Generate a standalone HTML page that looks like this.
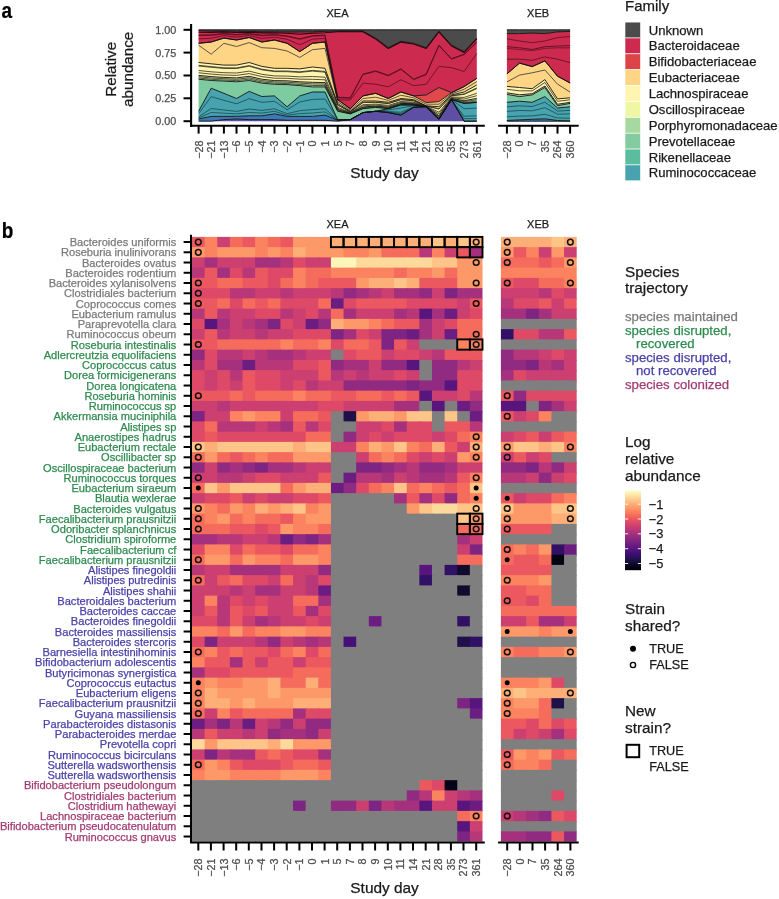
<!DOCTYPE html><html><head><meta charset="utf-8"><style>html,body{margin:0;padding:0;background:#fff;}svg{display:block;font-family:"Liberation Sans",sans-serif;will-change:transform;filter:blur(0.4px);}</style></head><body>
<svg width="779" height="899" viewBox="0 0 779 899">
<rect width="779" height="899" fill="#fff"/>
<text transform="translate(1.6,18.2) scale(0.88,1)" font-size="21.5" font-weight="bold" fill="#000" stroke="#000" stroke-width="0.25">a</text>
<text x="337.5" y="16.8" font-size="11" text-anchor="middle" fill="#1a1a1a" stroke="#1a1a1a" stroke-width="0.25">XEA</text>
<text x="538.1" y="16.8" font-size="11" text-anchor="middle" fill="#1a1a1a" stroke="#1a1a1a" stroke-width="0.25">XEB</text>
<text transform="translate(116.0,69.3) rotate(-90)" font-size="15.2" text-anchor="middle" fill="#1a1a1a" stroke="#1a1a1a" stroke-width="0.25">Relative</text>
<text transform="translate(132.8,69.3) rotate(-90)" font-size="15.2" text-anchor="middle" fill="#1a1a1a" stroke="#1a1a1a" stroke-width="0.25">abundance</text>
<text x="176.3" y="33.7" font-size="10.8" text-anchor="end" fill="#4d4d4d" stroke="#4d4d4d" stroke-width="0.25">1.00</text>
<line x1="183.5" x2="191" y1="29.8" y2="29.8" stroke="#000" stroke-width="2"/>
<text x="176.3" y="56.5" font-size="10.8" text-anchor="end" fill="#4d4d4d" stroke="#4d4d4d" stroke-width="0.25">0.75</text>
<line x1="183.5" x2="191" y1="52.6" y2="52.6" stroke="#000" stroke-width="2"/>
<text x="176.3" y="79.4" font-size="10.8" text-anchor="end" fill="#4d4d4d" stroke="#4d4d4d" stroke-width="0.25">0.50</text>
<line x1="183.5" x2="191" y1="75.5" y2="75.5" stroke="#000" stroke-width="2"/>
<text x="176.3" y="102.2" font-size="10.8" text-anchor="end" fill="#4d4d4d" stroke="#4d4d4d" stroke-width="0.25">0.25</text>
<line x1="183.5" x2="191" y1="98.3" y2="98.3" stroke="#000" stroke-width="2"/>
<text x="176.3" y="125.1" font-size="10.8" text-anchor="end" fill="#4d4d4d" stroke="#4d4d4d" stroke-width="0.25">0.00</text>
<line x1="183.5" x2="191" y1="121.2" y2="121.2" stroke="#000" stroke-width="2"/>
<path d="M198.6,29.8 L211.2,29.8 L223.9,29.8 L236.5,29.8 L249.2,29.8 L261.8,29.8 L274.5,29.8 L287.1,29.8 L299.8,29.8 L312.4,29.8 L325.0,29.8 L337.7,29.8 L350.3,29.8 L363.0,29.8 L375.6,29.8 L388.3,29.8 L400.9,29.8 L413.6,29.8 L426.2,29.8 L438.9,29.8 L451.5,29.8 L464.1,29.8 L476.8,29.8 L476.8,38.1 L464.1,51.6 L451.5,45.2 L438.9,31.1 L426.2,47.7 L413.6,43.3 L400.9,41.3 L388.3,47.7 L375.6,38.1 L363.0,31.1 L350.3,31.1 L337.7,31.1 L325.0,31.4 L312.4,31.7 L299.8,32.0 L287.1,32.0 L274.5,31.7 L261.8,31.7 L249.2,31.4 L236.5,31.4 L223.9,31.1 L211.2,31.1 L198.6,30.7Z" fill="#4b4b4b" stroke="none"/>
<path d="M198.6,30.7 L211.2,31.1 L223.9,31.1 L236.5,31.4 L249.2,31.4 L261.8,31.7 L274.5,31.7 L287.1,32.0 L299.8,32.0 L312.4,31.7 L325.0,31.4 L337.7,31.1 L350.3,31.1 L363.0,31.1 L375.6,38.1 L388.3,47.7 L400.9,41.3 L413.6,43.3 L426.2,47.7 L438.9,31.1 L451.5,45.2 L464.1,51.6 L476.8,38.1 L476.8,78.3 L464.1,86.6 L451.5,92.5 L438.9,87.5 L426.2,95.0 L413.6,95.9 L400.9,92.0 L388.3,98.5 L375.6,93.3 L363.0,95.9 L350.3,108.7 L337.7,99.7 L325.0,42.0 L312.4,43.3 L299.8,51.6 L287.1,43.3 L274.5,40.0 L261.8,42.0 L249.2,37.5 L236.5,40.0 L223.9,38.1 L211.2,42.0 L198.6,43.3Z" fill="#cc2a4f" stroke="none"/>
<path d="M198.6,43.3 L211.2,42.0 L223.9,38.1 L236.5,40.0 L249.2,37.5 L261.8,42.0 L274.5,40.0 L287.1,43.3 L299.8,51.6 L312.4,43.3 L325.0,42.0 L337.7,99.7 L350.3,108.7 L363.0,95.9 L375.6,93.3 L388.3,98.5 L400.9,92.0 L413.6,95.9 L426.2,95.0 L438.9,87.5 L451.5,92.5 L464.1,86.6 L476.8,78.3 L476.8,78.3 L464.1,86.6 L451.5,92.8 L438.9,101.7 L426.2,102.6 L413.6,95.9 L400.9,92.0 L388.3,98.5 L375.6,93.3 L363.0,95.9 L350.3,108.7 L337.7,99.7 L325.0,42.0 L312.4,43.3 L299.8,51.6 L287.1,43.3 L274.5,40.0 L261.8,42.0 L249.2,37.5 L236.5,40.0 L223.9,38.1 L211.2,42.0 L198.6,43.3Z" fill="#e0484a" stroke="none"/>
<path d="M198.6,43.3 L211.2,42.0 L223.9,38.1 L236.5,40.0 L249.2,37.5 L261.8,42.0 L274.5,40.0 L287.1,43.3 L299.8,51.6 L312.4,43.3 L325.0,42.0 L337.7,99.7 L350.3,108.7 L363.0,95.9 L375.6,93.3 L388.3,98.5 L400.9,92.0 L413.6,95.9 L426.2,102.6 L438.9,101.7 L451.5,92.8 L464.1,86.6 L476.8,78.3 L476.8,85.0 L464.1,92.0 L451.5,95.0 L438.9,106.7 L426.2,105.9 L413.6,99.7 L400.9,98.5 L388.3,102.3 L375.6,101.0 L363.0,101.0 L350.3,111.3 L337.7,103.6 L325.0,68.3 L312.4,67.0 L299.8,68.9 L287.1,68.3 L274.5,68.3 L261.8,66.4 L249.2,62.5 L236.5,65.1 L223.9,65.1 L211.2,63.8 L198.6,62.5Z" fill="#fdd585" stroke="none"/>
<path d="M198.6,62.5 L211.2,63.8 L223.9,65.1 L236.5,65.1 L249.2,62.5 L261.8,66.4 L274.5,68.3 L287.1,68.3 L299.8,68.9 L312.4,67.0 L325.0,68.3 L337.7,103.6 L350.3,111.3 L363.0,101.0 L375.6,101.0 L388.3,102.3 L400.9,98.5 L413.6,99.7 L426.2,105.9 L438.9,106.7 L451.5,95.0 L464.1,92.0 L476.8,85.0 L476.8,98.4 L464.1,100.7 L451.5,98.4 L438.9,115.7 L426.2,106.5 L413.6,103.7 L400.9,103.4 L388.3,107.2 L375.6,106.0 L363.0,107.0 L350.3,113.3 L337.7,109.5 L325.0,82.6 L312.4,82.3 L299.8,81.8 L287.1,80.8 L274.5,80.6 L261.8,79.2 L249.2,76.3 L236.5,77.9 L223.9,77.4 L211.2,76.6 L198.6,75.4Z" fill="#fff3ad" stroke="none"/>
<path d="M198.6,75.4 L211.2,76.6 L223.9,77.4 L236.5,77.9 L249.2,76.3 L261.8,79.2 L274.5,80.6 L287.1,80.8 L299.8,81.8 L312.4,82.3 L325.0,82.6 L337.7,109.5 L350.3,113.3 L363.0,107.0 L375.6,106.0 L388.3,107.2 L400.9,103.4 L413.6,103.7 L426.2,106.5 L438.9,115.7 L451.5,98.4 L464.1,100.7 L476.8,98.4 L476.8,102.4 L464.1,103.3 L451.5,99.5 L438.9,118.4 L426.2,106.7 L413.6,104.9 L400.9,104.9 L388.3,108.7 L375.6,107.4 L363.0,108.7 L350.3,113.9 L337.7,111.3 L325.0,86.9 L312.4,86.9 L299.8,85.6 L287.1,84.6 L274.5,84.3 L261.8,83.1 L249.2,80.5 L236.5,81.8 L223.9,81.1 L211.2,80.5 L198.6,79.2Z" fill="#cdd69c" stroke="none"/>
<path d="M198.6,79.2 L211.2,80.5 L223.9,81.1 L236.5,81.8 L249.2,80.5 L261.8,83.1 L274.5,84.3 L287.1,84.6 L299.8,85.6 L312.4,86.9 L325.0,86.9 L337.7,111.3 L350.3,113.9 L363.0,108.7 L375.6,107.4 L388.3,108.7 L400.9,104.9 L413.6,104.9 L426.2,106.7 L438.9,118.4 L451.5,99.5 L464.1,103.3 L476.8,102.4 L476.8,102.4 L464.1,103.3 L451.5,99.7 L438.9,119.0 L426.2,106.7 L413.6,104.9 L400.9,104.9 L388.3,108.7 L375.6,111.3 L363.0,112.6 L350.3,119.6 L337.7,119.6 L325.0,92.0 L312.4,92.0 L299.8,95.9 L287.1,106.8 L274.5,95.9 L261.8,96.5 L249.2,91.4 L236.5,98.5 L223.9,93.3 L211.2,88.2 L198.6,111.3Z" fill="#7ecba2" stroke="none"/>
<path d="M198.6,111.3 L211.2,88.2 L223.9,93.3 L236.5,98.5 L249.2,91.4 L261.8,96.5 L274.5,95.9 L287.1,106.8 L299.8,95.9 L312.4,92.0 L325.0,92.0 L337.7,119.6 L350.3,119.6 L363.0,112.6 L375.6,111.3 L388.3,108.7 L400.9,104.9 L413.6,104.9 L426.2,106.7 L438.9,119.0 L451.5,99.7 L464.1,103.3 L476.8,102.4 L476.8,121.2 L464.1,121.2 L451.5,99.7 L438.9,119.0 L426.2,106.7 L413.6,107.4 L400.9,115.1 L388.3,112.6 L375.6,111.3 L363.0,112.6 L350.3,119.6 L337.7,120.3 L325.0,115.1 L312.4,116.4 L299.8,116.4 L287.1,116.4 L274.5,113.9 L261.8,115.8 L249.2,115.8 L236.5,116.4 L223.9,116.4 L211.2,116.4 L198.6,119.0Z" fill="#47a4ae" stroke="none"/>
<path d="M198.6,119.0 L211.2,116.4 L223.9,116.4 L236.5,116.4 L249.2,115.8 L261.8,115.8 L274.5,113.9 L287.1,116.4 L299.8,116.4 L312.4,116.4 L325.0,115.1 L337.7,120.3 L350.3,119.6 L363.0,112.6 L375.6,111.3 L388.3,112.6 L400.9,115.1 L413.6,107.4 L426.2,106.7 L438.9,119.0 L451.5,99.7 L464.1,121.2 L476.8,121.2 L476.8,121.2 L464.1,121.2 L451.5,99.7 L438.9,119.6 L426.2,106.7 L413.6,107.4 L400.9,115.1 L388.3,112.6 L375.6,111.3 L363.0,112.6 L350.3,119.6 L337.7,121.2 L325.0,120.3 L312.4,120.3 L299.8,120.3 L287.1,120.3 L274.5,119.6 L261.8,119.6 L249.2,119.6 L236.5,119.0 L223.9,119.6 L211.2,121.2 L198.6,121.2Z" fill="#3b78b8" stroke="none"/>
<path d="M198.6,121.2 L211.2,121.2 L223.9,119.6 L236.5,119.0 L249.2,119.6 L261.8,119.6 L274.5,119.6 L287.1,120.3 L299.8,120.3 L312.4,120.3 L325.0,120.3 L337.7,121.2 L350.3,119.6 L363.0,112.6 L375.6,111.3 L388.3,112.6 L400.9,115.1 L413.6,107.4 L426.2,106.7 L438.9,119.6 L451.5,99.7 L464.1,121.2 L476.8,121.2 L476.8,121.2 L464.1,121.2 L451.5,121.2 L438.9,121.2 L426.2,121.2 L413.6,121.2 L400.9,121.2 L388.3,121.2 L375.6,121.2 L363.0,121.2 L350.3,121.2 L337.7,121.2 L325.0,121.2 L312.4,121.2 L299.8,121.2 L287.1,121.2 L274.5,121.2 L261.8,121.2 L249.2,121.2 L236.5,121.2 L223.9,121.2 L211.2,121.2 L198.6,121.2Z" fill="#5d4fa3" stroke="none"/>
<path d="M198.6,35.1 L211.2,34.9 L223.9,33.5 L236.5,34.5 L249.2,33.6 L261.8,35.3 L274.5,34.6 L287.1,35.9 L299.8,38.8 L312.4,35.7 L325.0,35.1 L337.7,97.2 L350.3,97.8 L363.0,74.1 L375.6,70.9 L388.3,75.3 L400.9,68.9 L413.6,79.2 L426.2,74.1 L438.9,45.2 L451.5,58.7 L464.1,54.2 L476.8,42.0" fill="none" stroke="#5a0f20" stroke-width="1.0" stroke-linejoin="round"/>
<path d="M198.6,35.6 L211.2,35.4 L223.9,34.0 L236.5,35.0 L249.2,34.1 L261.8,35.8 L274.5,35.1 L287.1,36.4 L299.8,39.3 L312.4,36.3 L325.0,35.6 L337.7,97.7 L350.3,98.3 L363.0,74.6 L375.6,71.4 L388.3,75.9 L400.9,69.4 L413.6,79.7 L426.2,74.6 L438.9,45.7 L451.5,59.2 L464.1,54.7 L476.8,42.5" fill="none" stroke="#5a0f20" stroke-width="0.7" stroke-linejoin="round"/>
<path d="M198.6,38.9 L211.2,38.2 L223.9,35.6 L236.5,37.0 L249.2,35.4 L261.8,38.4 L274.5,37.1 L287.1,39.3 L299.8,44.7 L312.4,39.2 L325.0,38.3 L337.7,99.7 L350.3,100.0 L363.0,83.1 L375.6,84.3 L388.3,86.9 L400.9,79.8 L413.6,85.6 L426.2,84.3 L438.9,66.4 L451.5,67.6 L464.1,71.5 L476.8,53.5" fill="none" stroke="#5a0f20" stroke-width="0.8" stroke-linejoin="round"/>
<path d="M198.6,32.2 L211.2,32.4 L223.9,31.9 L236.5,32.5 L249.2,32.2 L261.8,32.9 L274.5,32.7 L287.1,33.3 L299.8,34.3 L312.4,33.1 L325.0,32.7 L337.7,31.8 L350.3,31.8 L363.0,31.8 L375.6,38.9 L388.3,48.5 L400.9,42.1 L413.6,44.0 L426.2,48.5 L438.9,31.8 L451.5,46.0 L464.1,52.4 L476.8,38.9" fill="none" stroke="#2a0610" stroke-width="1.1" stroke-linejoin="round"/>
<path d="M198.6,45.2 L211.2,54.2 L223.9,43.3 L236.5,46.5 L249.2,42.6 L261.8,47.7 L274.5,48.4 L287.1,51.0 L299.8,57.4 L312.4,49.7 L325.0,48.4 L337.7,101.7 L350.3,110.0 L363.0,98.5 L375.6,97.2 L388.3,100.4 L400.9,95.2 L413.6,97.8 L426.2,104.2 L438.9,104.2 L451.5,93.9 L464.1,89.3 L476.8,81.6" fill="none" stroke="#333" stroke-width="0.8" stroke-linejoin="round"/>
<path d="M198.6,65.3 L211.2,66.6 L223.9,67.8 L236.5,67.9 L249.2,65.6 L261.8,69.2 L274.5,71.0 L287.1,71.0 L299.8,71.8 L312.4,70.4 L325.0,71.4 L337.7,104.9 L350.3,111.7 L363.0,102.3 L375.6,102.1 L388.3,103.4 L400.9,99.5 L413.6,100.6 L426.2,106.0 L438.9,108.6 L451.5,95.7 L464.1,93.9 L476.8,87.9" fill="none" stroke="#2a2a1a" stroke-width="0.8" stroke-linejoin="round"/>
<path d="M198.6,66.0 L211.2,67.3 L223.9,68.4 L236.5,68.5 L249.2,66.2 L261.8,69.8 L274.5,71.6 L287.1,71.7 L299.8,72.4 L312.4,71.1 L325.0,72.2 L337.7,105.2 L350.3,111.8 L363.0,102.6 L375.6,102.4 L388.3,103.6 L400.9,99.8 L413.6,100.8 L426.2,106.1 L438.9,109.1 L451.5,95.9 L464.1,94.4 L476.8,88.6" fill="none" stroke="#2a2a1a" stroke-width="0.8" stroke-linejoin="round"/>
<path d="M198.6,70.5 L211.2,71.8 L223.9,72.7 L236.5,73.0 L249.2,71.1 L261.8,74.3 L274.5,75.9 L287.1,76.1 L299.8,76.9 L312.4,76.5 L325.0,77.2 L337.7,107.3 L350.3,112.5 L363.0,104.7 L375.6,104.1 L388.3,105.4 L400.9,101.5 L413.6,102.2 L426.2,106.3 L438.9,112.2 L451.5,97.1 L464.1,97.4 L476.8,93.3" fill="none" stroke="#2a2a1a" stroke-width="0.8" stroke-linejoin="round"/>
<path d="M198.6,72.8 L211.2,74.1 L223.9,75.0 L236.5,75.4 L249.2,73.6 L261.8,76.6 L274.5,78.2 L287.1,78.3 L299.8,79.2 L312.4,79.3 L325.0,79.8 L337.7,108.3 L350.3,112.9 L363.0,105.8 L375.6,105.0 L388.3,106.3 L400.9,102.4 L413.6,102.9 L426.2,106.4 L438.9,113.9 L451.5,97.8 L464.1,99.0 L476.8,95.7" fill="none" stroke="#2a2a1a" stroke-width="0.8" stroke-linejoin="round"/>
<path d="M198.6,76.7 L211.2,78.0 L223.9,78.7 L236.5,79.3 L249.2,77.8 L261.8,80.6 L274.5,81.9 L287.1,82.2 L299.8,83.1 L312.4,83.9 L325.0,84.1 L337.7,110.1 L350.3,113.5 L363.0,107.6 L375.6,106.5 L388.3,107.8 L400.9,103.9 L413.6,104.1 L426.2,106.6 L438.9,116.6 L451.5,98.8 L464.1,101.6 L476.8,99.8" fill="none" stroke="#2a3a2a" stroke-width="0.8" stroke-linejoin="round"/>
<path d="M198.6,78.0 L211.2,79.3 L223.9,80.0 L236.5,80.6 L249.2,79.2 L261.8,81.9 L274.5,83.2 L287.1,83.5 L299.8,84.5 L312.4,85.5 L325.0,85.6 L337.7,110.8 L350.3,113.7 L363.0,108.2 L375.6,107.0 L388.3,108.3 L400.9,104.4 L413.6,104.5 L426.2,106.6 L438.9,117.5 L451.5,99.2 L464.1,102.6 L476.8,101.2" fill="none" stroke="#2a3a2a" stroke-width="0.8" stroke-linejoin="round"/>
<path d="M198.6,113.6 L211.2,96.7 L223.9,100.3 L236.5,103.8 L249.2,98.7 L261.8,102.3 L274.5,101.3 L287.1,109.7 L299.8,102.0 L312.4,99.4 L325.0,99.0 L337.7,119.8 L350.3,119.6 L363.0,112.6 L375.6,111.3 L388.3,109.9 L400.9,108.0 L413.6,105.6 L426.2,106.7 L438.9,119.0 L451.5,99.7 L464.1,108.7 L476.8,108.1" fill="none" stroke="#163a40" stroke-width="0.7" stroke-linejoin="round"/>
<path d="M198.6,116.8 L211.2,108.5 L223.9,110.0 L236.5,111.4 L249.2,109.0 L261.8,110.4 L274.5,108.8 L287.1,113.7 L299.8,110.7 L312.4,109.6 L325.0,108.7 L337.7,120.1 L350.3,119.6 L363.0,112.6 L375.6,111.3 L388.3,111.5 L400.9,112.3 L413.6,106.7 L426.2,106.7 L438.9,119.0 L451.5,99.7 L464.1,116.2 L476.8,115.9" fill="none" stroke="#163a40" stroke-width="0.7" stroke-linejoin="round"/>
<path d="M198.6,117.9 L211.2,112.5 L223.9,113.2 L236.5,113.9 L249.2,112.4 L261.8,113.1 L274.5,111.3 L287.1,115.1 L299.8,113.6 L312.4,113.0 L325.0,111.9 L337.7,120.2 L350.3,119.6 L363.0,112.6 L375.6,111.3 L388.3,112.0 L400.9,113.7 L413.6,107.1 L426.2,106.7 L438.9,119.0 L451.5,99.7 L464.1,118.7 L476.8,118.6" fill="none" stroke="#163a40" stroke-width="0.7" stroke-linejoin="round"/>
<path d="M198.6,29.8 L211.2,29.8 L223.9,29.8 L236.5,29.8 L249.2,29.8 L261.8,29.8 L274.5,29.8 L287.1,29.8 L299.8,29.8 L312.4,29.8 L325.0,29.8 L337.7,29.8 L350.3,29.8 L363.0,29.8 L375.6,29.8 L388.3,29.8 L400.9,29.8 L413.6,29.8 L426.2,29.8 L438.9,29.8 L451.5,29.8 L464.1,29.8 L476.8,29.8" fill="none" stroke="#111" stroke-width="0.9" stroke-linejoin="round"/>
<path d="M198.6,30.7 L211.2,31.1 L223.9,31.1 L236.5,31.4 L249.2,31.4 L261.8,31.7 L274.5,31.7 L287.1,32.0 L299.8,32.0 L312.4,31.7 L325.0,31.4 L337.7,31.1 L350.3,31.1 L363.0,31.1 L375.6,38.1 L388.3,47.7 L400.9,41.3 L413.6,43.3 L426.2,47.7 L438.9,31.1 L451.5,45.2 L464.1,51.6 L476.8,38.1" fill="none" stroke="#111" stroke-width="0.9" stroke-linejoin="round"/>
<path d="M198.6,43.3 L211.2,42.0 L223.9,38.1 L236.5,40.0 L249.2,37.5 L261.8,42.0 L274.5,40.0 L287.1,43.3 L299.8,51.6 L312.4,43.3 L325.0,42.0 L337.7,99.7 L350.3,108.7 L363.0,95.9 L375.6,93.3 L388.3,98.5 L400.9,92.0 L413.6,95.9 L426.2,95.0 L438.9,87.5 L451.5,92.5 L464.1,86.6 L476.8,78.3" fill="none" stroke="#111" stroke-width="0.9" stroke-linejoin="round"/>
<path d="M198.6,43.3 L211.2,42.0 L223.9,38.1 L236.5,40.0 L249.2,37.5 L261.8,42.0 L274.5,40.0 L287.1,43.3 L299.8,51.6 L312.4,43.3 L325.0,42.0 L337.7,99.7 L350.3,108.7 L363.0,95.9 L375.6,93.3 L388.3,98.5 L400.9,92.0 L413.6,95.9 L426.2,102.6 L438.9,101.7 L451.5,92.8 L464.1,86.6 L476.8,78.3" fill="none" stroke="#111" stroke-width="0.9" stroke-linejoin="round"/>
<path d="M198.6,62.5 L211.2,63.8 L223.9,65.1 L236.5,65.1 L249.2,62.5 L261.8,66.4 L274.5,68.3 L287.1,68.3 L299.8,68.9 L312.4,67.0 L325.0,68.3 L337.7,103.6 L350.3,111.3 L363.0,101.0 L375.6,101.0 L388.3,102.3 L400.9,98.5 L413.6,99.7 L426.2,105.9 L438.9,106.7 L451.5,95.0 L464.1,92.0 L476.8,85.0" fill="none" stroke="#111" stroke-width="0.9" stroke-linejoin="round"/>
<path d="M198.6,75.4 L211.2,76.6 L223.9,77.4 L236.5,77.9 L249.2,76.3 L261.8,79.2 L274.5,80.6 L287.1,80.8 L299.8,81.8 L312.4,82.3 L325.0,82.6 L337.7,109.5 L350.3,113.3 L363.0,107.0 L375.6,106.0 L388.3,107.2 L400.9,103.4 L413.6,103.7 L426.2,106.5 L438.9,115.7 L451.5,98.4 L464.1,100.7 L476.8,98.4" fill="none" stroke="#111" stroke-width="0.9" stroke-linejoin="round"/>
<path d="M198.6,79.2 L211.2,80.5 L223.9,81.1 L236.5,81.8 L249.2,80.5 L261.8,83.1 L274.5,84.3 L287.1,84.6 L299.8,85.6 L312.4,86.9 L325.0,86.9 L337.7,111.3 L350.3,113.9 L363.0,108.7 L375.6,107.4 L388.3,108.7 L400.9,104.9 L413.6,104.9 L426.2,106.7 L438.9,118.4 L451.5,99.5 L464.1,103.3 L476.8,102.4" fill="none" stroke="#111" stroke-width="0.9" stroke-linejoin="round"/>
<path d="M198.6,111.3 L211.2,88.2 L223.9,93.3 L236.5,98.5 L249.2,91.4 L261.8,96.5 L274.5,95.9 L287.1,106.8 L299.8,95.9 L312.4,92.0 L325.0,92.0 L337.7,119.6 L350.3,119.6 L363.0,112.6 L375.6,111.3 L388.3,108.7 L400.9,104.9 L413.6,104.9 L426.2,106.7 L438.9,119.0 L451.5,99.7 L464.1,103.3 L476.8,102.4" fill="none" stroke="#111" stroke-width="0.9" stroke-linejoin="round"/>
<path d="M198.6,119.0 L211.2,116.4 L223.9,116.4 L236.5,116.4 L249.2,115.8 L261.8,115.8 L274.5,113.9 L287.1,116.4 L299.8,116.4 L312.4,116.4 L325.0,115.1 L337.7,120.3 L350.3,119.6 L363.0,112.6 L375.6,111.3 L388.3,112.6 L400.9,115.1 L413.6,107.4 L426.2,106.7 L438.9,119.0 L451.5,99.7 L464.1,121.2 L476.8,121.2" fill="none" stroke="#111" stroke-width="0.9" stroke-linejoin="round"/>
<path d="M198.6,121.2 L211.2,121.2 L223.9,119.6 L236.5,119.0 L249.2,119.6 L261.8,119.6 L274.5,119.6 L287.1,120.3 L299.8,120.3 L312.4,120.3 L325.0,120.3 L337.7,121.2 L350.3,119.6 L363.0,112.6 L375.6,111.3 L388.3,112.6 L400.9,115.1 L413.6,107.4 L426.2,106.7 L438.9,119.6 L451.5,99.7 L464.1,121.2 L476.8,121.2" fill="none" stroke="#111" stroke-width="0.9" stroke-linejoin="round"/>
<path d="M506.9,29.8 L519.5,29.8 L532.2,29.8 L544.9,29.8 L557.5,29.8 L570.1,29.8 L570.1,31.4 L557.5,31.9 L544.9,33.6 L532.2,33.1 L519.5,33.6 L506.9,33.6Z" fill="#4b4b4b" stroke="none"/>
<path d="M506.9,33.6 L519.5,33.6 L532.2,33.1 L544.9,33.6 L557.5,31.9 L570.1,31.4 L570.1,83.0 L557.5,76.2 L544.9,60.9 L532.2,66.6 L519.5,63.1 L506.9,73.9Z" fill="#cc2a4f" stroke="none"/>
<path d="M506.9,73.9 L519.5,63.1 L532.2,66.6 L544.9,60.9 L557.5,76.2 L570.1,83.0 L570.1,83.0 L557.5,76.2 L544.9,60.9 L532.2,66.6 L519.5,63.1 L506.9,73.9Z" fill="#e0484a" stroke="none"/>
<path d="M506.9,73.9 L519.5,63.1 L532.2,66.6 L544.9,60.9 L557.5,76.2 L570.1,83.0 L570.1,97.8 L557.5,98.9 L544.9,79.6 L532.2,88.7 L519.5,87.5 L506.9,86.4Z" fill="#fdd585" stroke="none"/>
<path d="M506.9,86.4 L519.5,87.5 L532.2,88.7 L544.9,79.6 L557.5,98.9 L570.1,97.8 L570.1,102.3 L557.5,104.3 L544.9,86.0 L532.2,93.7 L519.5,94.8 L506.9,92.8Z" fill="#fff3ad" stroke="none"/>
<path d="M506.9,92.8 L519.5,94.8 L532.2,93.7 L544.9,86.0 L557.5,104.3 L570.1,102.3 L570.1,103.4 L557.5,105.7 L544.9,87.5 L532.2,94.9 L519.5,96.6 L506.9,94.4Z" fill="#cdd69c" stroke="none"/>
<path d="M506.9,94.4 L519.5,96.6 L532.2,94.9 L544.9,87.5 L557.5,105.7 L570.1,103.4 L570.1,106.8 L557.5,108.0 L544.9,96.6 L532.2,102.3 L519.5,101.2 L506.9,102.3Z" fill="#7ecba2" stroke="none"/>
<path d="M506.9,102.3 L519.5,101.2 L532.2,102.3 L544.9,96.6 L557.5,108.0 L570.1,106.8 L570.1,121.0 L557.5,120.5 L544.9,118.8 L532.2,119.3 L519.5,119.9 L506.9,120.5Z" fill="#47a4ae" stroke="none"/>
<path d="M506.9,120.5 L519.5,119.9 L532.2,119.3 L544.9,118.8 L557.5,120.5 L570.1,121.0 L570.1,121.2 L557.5,121.2 L544.9,121.2 L532.2,121.2 L519.5,121.2 L506.9,121.2Z" fill="#3b78b8" stroke="none"/>
<path d="M506.9,121.2 L519.5,121.2 L532.2,121.2 L544.9,121.2 L557.5,121.2 L570.1,121.2 L570.1,121.2 L557.5,121.2 L544.9,121.2 L532.2,121.2 L519.5,121.2 L506.9,121.2Z" fill="#5d4fa3" stroke="none"/>
<path d="M506.9,38.8 L519.5,41.0 L532.2,42.7 L544.9,41.0 L557.5,37.6 L570.1,36.5" fill="none" stroke="#5a0f20" stroke-width="0.8" stroke-linejoin="round"/>
<path d="M506.9,46.7 L519.5,47.8 L532.2,49.5 L544.9,46.7 L557.5,46.1 L570.1,45.6" fill="none" stroke="#5a0f20" stroke-width="0.9" stroke-linejoin="round"/>
<path d="M506.9,48.4 L519.5,49.5 L532.2,50.7 L544.9,48.4 L557.5,47.8 L570.1,47.8" fill="none" stroke="#5a0f20" stroke-width="0.7" stroke-linejoin="round"/>
<path d="M506.9,59.2 L519.5,59.2 L532.2,60.3 L544.9,56.9 L557.5,59.2 L570.1,62.6" fill="none" stroke="#5a0f20" stroke-width="0.8" stroke-linejoin="round"/>
<path d="M506.9,81.9 L519.5,75.1 L532.2,72.8 L544.9,70.0 L557.5,84.1 L570.1,92.1" fill="none" stroke="#333" stroke-width="0.8" stroke-linejoin="round"/>
<path d="M506.9,89.3 L519.5,90.8 L532.2,90.9 L544.9,82.5 L557.5,101.3 L570.1,99.8" fill="none" stroke="#2a2a1a" stroke-width="0.8" stroke-linejoin="round"/>
<path d="M506.9,106.8 L519.5,105.8 L532.2,106.6 L544.9,102.2 L557.5,111.1 L570.1,110.4" fill="none" stroke="#163a40" stroke-width="0.7" stroke-linejoin="round"/>
<path d="M506.9,111.4 L519.5,110.5 L532.2,110.8 L544.9,107.7 L557.5,114.2 L570.1,113.9" fill="none" stroke="#163a40" stroke-width="0.7" stroke-linejoin="round"/>
<path d="M506.9,116.8 L519.5,116.1 L532.2,115.9 L544.9,114.3 L557.5,118.0 L570.1,118.2" fill="none" stroke="#163a40" stroke-width="0.7" stroke-linejoin="round"/>
<path d="M506.9,29.8 L519.5,29.8 L532.2,29.8 L544.9,29.8 L557.5,29.8 L570.1,29.8" fill="none" stroke="#111" stroke-width="0.9" stroke-linejoin="round"/>
<path d="M506.9,33.6 L519.5,33.6 L532.2,33.1 L544.9,33.6 L557.5,31.9 L570.1,31.4" fill="none" stroke="#111" stroke-width="0.9" stroke-linejoin="round"/>
<path d="M506.9,73.9 L519.5,63.1 L532.2,66.6 L544.9,60.9 L557.5,76.2 L570.1,83.0" fill="none" stroke="#111" stroke-width="0.9" stroke-linejoin="round"/>
<path d="M506.9,73.9 L519.5,63.1 L532.2,66.6 L544.9,60.9 L557.5,76.2 L570.1,83.0" fill="none" stroke="#111" stroke-width="0.9" stroke-linejoin="round"/>
<path d="M506.9,86.4 L519.5,87.5 L532.2,88.7 L544.9,79.6 L557.5,98.9 L570.1,97.8" fill="none" stroke="#111" stroke-width="0.9" stroke-linejoin="round"/>
<path d="M506.9,92.8 L519.5,94.8 L532.2,93.7 L544.9,86.0 L557.5,104.3 L570.1,102.3" fill="none" stroke="#111" stroke-width="0.9" stroke-linejoin="round"/>
<path d="M506.9,94.4 L519.5,96.6 L532.2,94.9 L544.9,87.5 L557.5,105.7 L570.1,103.4" fill="none" stroke="#111" stroke-width="0.9" stroke-linejoin="round"/>
<path d="M506.9,102.3 L519.5,101.2 L532.2,102.3 L544.9,96.6 L557.5,108.0 L570.1,106.8" fill="none" stroke="#111" stroke-width="0.9" stroke-linejoin="round"/>
<path d="M506.9,120.5 L519.5,119.9 L532.2,119.3 L544.9,118.8 L557.5,120.5 L570.1,121.0" fill="none" stroke="#111" stroke-width="0.9" stroke-linejoin="round"/>
<path d="M506.9,121.2 L519.5,121.2 L532.2,121.2 L544.9,121.2 L557.5,121.2 L570.1,121.2" fill="none" stroke="#111" stroke-width="0.9" stroke-linejoin="round"/>
<line x1="191.1" x2="191.1" y1="24" y2="126.8" stroke="#000" stroke-width="2.1"/>
<line x1="190" x2="484.8" y1="125.8" y2="125.8" stroke="#000" stroke-width="2"/>
<line x1="498.1" x2="578.7" y1="125.8" y2="125.8" stroke="#000" stroke-width="2"/>
<line x1="198.6" x2="198.6" y1="125.8" y2="133.6" stroke="#000" stroke-width="2"/>
<text transform="translate(202.5,140.4) rotate(-90)" font-size="10.8" text-anchor="end" fill="#4d4d4d" stroke="#4d4d4d" stroke-width="0.25">−28</text>
<line x1="211.2" x2="211.2" y1="125.8" y2="133.6" stroke="#000" stroke-width="2"/>
<text transform="translate(215.1,140.4) rotate(-90)" font-size="10.8" text-anchor="end" fill="#4d4d4d" stroke="#4d4d4d" stroke-width="0.25">−21</text>
<line x1="223.9" x2="223.9" y1="125.8" y2="133.6" stroke="#000" stroke-width="2"/>
<text transform="translate(227.8,140.4) rotate(-90)" font-size="10.8" text-anchor="end" fill="#4d4d4d" stroke="#4d4d4d" stroke-width="0.25">−13</text>
<line x1="236.5" x2="236.5" y1="125.8" y2="133.6" stroke="#000" stroke-width="2"/>
<text transform="translate(240.4,140.4) rotate(-90)" font-size="10.8" text-anchor="end" fill="#4d4d4d" stroke="#4d4d4d" stroke-width="0.25">−6</text>
<line x1="249.2" x2="249.2" y1="125.8" y2="133.6" stroke="#000" stroke-width="2"/>
<text transform="translate(253.1,140.4) rotate(-90)" font-size="10.8" text-anchor="end" fill="#4d4d4d" stroke="#4d4d4d" stroke-width="0.25">−5</text>
<line x1="261.8" x2="261.8" y1="125.8" y2="133.6" stroke="#000" stroke-width="2"/>
<text transform="translate(265.7,140.4) rotate(-90)" font-size="10.8" text-anchor="end" fill="#4d4d4d" stroke="#4d4d4d" stroke-width="0.25">−4</text>
<line x1="274.5" x2="274.5" y1="125.8" y2="133.6" stroke="#000" stroke-width="2"/>
<text transform="translate(278.4,140.4) rotate(-90)" font-size="10.8" text-anchor="end" fill="#4d4d4d" stroke="#4d4d4d" stroke-width="0.25">−3</text>
<line x1="287.1" x2="287.1" y1="125.8" y2="133.6" stroke="#000" stroke-width="2"/>
<text transform="translate(291.0,140.4) rotate(-90)" font-size="10.8" text-anchor="end" fill="#4d4d4d" stroke="#4d4d4d" stroke-width="0.25">−2</text>
<line x1="299.8" x2="299.8" y1="125.8" y2="133.6" stroke="#000" stroke-width="2"/>
<text transform="translate(303.7,140.4) rotate(-90)" font-size="10.8" text-anchor="end" fill="#4d4d4d" stroke="#4d4d4d" stroke-width="0.25">−1</text>
<line x1="312.4" x2="312.4" y1="125.8" y2="133.6" stroke="#000" stroke-width="2"/>
<text transform="translate(316.3,140.4) rotate(-90)" font-size="10.8" text-anchor="end" fill="#4d4d4d" stroke="#4d4d4d" stroke-width="0.25">0</text>
<line x1="325.0" x2="325.0" y1="125.8" y2="133.6" stroke="#000" stroke-width="2"/>
<text transform="translate(328.9,140.4) rotate(-90)" font-size="10.8" text-anchor="end" fill="#4d4d4d" stroke="#4d4d4d" stroke-width="0.25">1</text>
<line x1="337.7" x2="337.7" y1="125.8" y2="133.6" stroke="#000" stroke-width="2"/>
<text transform="translate(341.6,140.4) rotate(-90)" font-size="10.8" text-anchor="end" fill="#4d4d4d" stroke="#4d4d4d" stroke-width="0.25">5</text>
<line x1="350.3" x2="350.3" y1="125.8" y2="133.6" stroke="#000" stroke-width="2"/>
<text transform="translate(354.2,140.4) rotate(-90)" font-size="10.8" text-anchor="end" fill="#4d4d4d" stroke="#4d4d4d" stroke-width="0.25">7</text>
<line x1="363.0" x2="363.0" y1="125.8" y2="133.6" stroke="#000" stroke-width="2"/>
<text transform="translate(366.9,140.4) rotate(-90)" font-size="10.8" text-anchor="end" fill="#4d4d4d" stroke="#4d4d4d" stroke-width="0.25">8</text>
<line x1="375.6" x2="375.6" y1="125.8" y2="133.6" stroke="#000" stroke-width="2"/>
<text transform="translate(379.5,140.4) rotate(-90)" font-size="10.8" text-anchor="end" fill="#4d4d4d" stroke="#4d4d4d" stroke-width="0.25">9</text>
<line x1="388.3" x2="388.3" y1="125.8" y2="133.6" stroke="#000" stroke-width="2"/>
<text transform="translate(392.2,140.4) rotate(-90)" font-size="10.8" text-anchor="end" fill="#4d4d4d" stroke="#4d4d4d" stroke-width="0.25">10</text>
<line x1="400.9" x2="400.9" y1="125.8" y2="133.6" stroke="#000" stroke-width="2"/>
<text transform="translate(404.8,140.4) rotate(-90)" font-size="10.8" text-anchor="end" fill="#4d4d4d" stroke="#4d4d4d" stroke-width="0.25">11</text>
<line x1="413.6" x2="413.6" y1="125.8" y2="133.6" stroke="#000" stroke-width="2"/>
<text transform="translate(417.5,140.4) rotate(-90)" font-size="10.8" text-anchor="end" fill="#4d4d4d" stroke="#4d4d4d" stroke-width="0.25">14</text>
<line x1="426.2" x2="426.2" y1="125.8" y2="133.6" stroke="#000" stroke-width="2"/>
<text transform="translate(430.1,140.4) rotate(-90)" font-size="10.8" text-anchor="end" fill="#4d4d4d" stroke="#4d4d4d" stroke-width="0.25">21</text>
<line x1="438.9" x2="438.9" y1="125.8" y2="133.6" stroke="#000" stroke-width="2"/>
<text transform="translate(442.8,140.4) rotate(-90)" font-size="10.8" text-anchor="end" fill="#4d4d4d" stroke="#4d4d4d" stroke-width="0.25">28</text>
<line x1="451.5" x2="451.5" y1="125.8" y2="133.6" stroke="#000" stroke-width="2"/>
<text transform="translate(455.4,140.4) rotate(-90)" font-size="10.8" text-anchor="end" fill="#4d4d4d" stroke="#4d4d4d" stroke-width="0.25">35</text>
<line x1="464.1" x2="464.1" y1="125.8" y2="133.6" stroke="#000" stroke-width="2"/>
<text transform="translate(468.0,140.4) rotate(-90)" font-size="10.8" text-anchor="end" fill="#4d4d4d" stroke="#4d4d4d" stroke-width="0.25">273</text>
<line x1="476.8" x2="476.8" y1="125.8" y2="133.6" stroke="#000" stroke-width="2"/>
<text transform="translate(480.7,140.4) rotate(-90)" font-size="10.8" text-anchor="end" fill="#4d4d4d" stroke="#4d4d4d" stroke-width="0.25">361</text>
<line x1="506.9" x2="506.9" y1="125.8" y2="133.6" stroke="#000" stroke-width="2"/>
<text transform="translate(510.8,140.4) rotate(-90)" font-size="10.8" text-anchor="end" fill="#4d4d4d" stroke="#4d4d4d" stroke-width="0.25">−28</text>
<line x1="519.5" x2="519.5" y1="125.8" y2="133.6" stroke="#000" stroke-width="2"/>
<text transform="translate(523.4,140.4) rotate(-90)" font-size="10.8" text-anchor="end" fill="#4d4d4d" stroke="#4d4d4d" stroke-width="0.25">0</text>
<line x1="532.2" x2="532.2" y1="125.8" y2="133.6" stroke="#000" stroke-width="2"/>
<text transform="translate(536.1,140.4) rotate(-90)" font-size="10.8" text-anchor="end" fill="#4d4d4d" stroke="#4d4d4d" stroke-width="0.25">7</text>
<line x1="544.9" x2="544.9" y1="125.8" y2="133.6" stroke="#000" stroke-width="2"/>
<text transform="translate(548.8,140.4) rotate(-90)" font-size="10.8" text-anchor="end" fill="#4d4d4d" stroke="#4d4d4d" stroke-width="0.25">35</text>
<line x1="557.5" x2="557.5" y1="125.8" y2="133.6" stroke="#000" stroke-width="2"/>
<text transform="translate(561.4,140.4) rotate(-90)" font-size="10.8" text-anchor="end" fill="#4d4d4d" stroke="#4d4d4d" stroke-width="0.25">264</text>
<line x1="570.1" x2="570.1" y1="125.8" y2="133.6" stroke="#000" stroke-width="2"/>
<text transform="translate(574.0,140.4) rotate(-90)" font-size="10.8" text-anchor="end" fill="#4d4d4d" stroke="#4d4d4d" stroke-width="0.25">360</text>
<text x="384.6" y="177.6" font-size="15.4" text-anchor="middle" fill="#1a1a1a" stroke="#1a1a1a" stroke-width="0.25">Study day</text>
<text x="625" y="11.4" font-size="15" fill="#1a1a1a" stroke="#1a1a1a" stroke-width="0.25">Family</text>
<rect x="625" y="22.10" width="15.5" height="15.87" fill="#4b4b4b" stroke="#fff" stroke-width="0.6"/>
<text x="648.7" y="34.5" font-size="13.1" fill="#1a1a1a" stroke="#1a1a1a" stroke-width="0.25">Unknown</text>
<rect x="625" y="37.97" width="15.5" height="15.87" fill="#cc2a4f" stroke="#fff" stroke-width="0.6"/>
<text x="648.7" y="50.4" font-size="13.1" fill="#1a1a1a" stroke="#1a1a1a" stroke-width="0.25">Bacteroidaceae</text>
<rect x="625" y="53.84" width="15.5" height="15.87" fill="#dd4448" stroke="#fff" stroke-width="0.6"/>
<text x="648.7" y="66.2" font-size="13.1" fill="#1a1a1a" stroke="#1a1a1a" stroke-width="0.25">Bifidobacteriaceae</text>
<rect x="625" y="69.71" width="15.5" height="15.87" fill="#fdd585" stroke="#fff" stroke-width="0.6"/>
<text x="648.7" y="82.1" font-size="13.1" fill="#1a1a1a" stroke="#1a1a1a" stroke-width="0.25">Eubacteriaceae</text>
<rect x="625" y="85.58" width="15.5" height="15.87" fill="#fff4b0" stroke="#fff" stroke-width="0.6"/>
<text x="648.7" y="98.0" font-size="13.1" fill="#1a1a1a" stroke="#1a1a1a" stroke-width="0.25">Lachnospiraceae</text>
<rect x="625" y="101.45" width="15.5" height="15.87" fill="#eff7a2" stroke="#fff" stroke-width="0.6"/>
<text x="648.7" y="113.8" font-size="13.1" fill="#1a1a1a" stroke="#1a1a1a" stroke-width="0.25">Oscillospiraceae</text>
<rect x="625" y="117.32" width="15.5" height="15.87" fill="#a6d9a0" stroke="#fff" stroke-width="0.6"/>
<text x="648.7" y="129.7" font-size="13.1" fill="#1a1a1a" stroke="#1a1a1a" stroke-width="0.25">Porphyromonadaceae</text>
<rect x="625" y="133.19" width="15.5" height="15.87" fill="#84cba2" stroke="#fff" stroke-width="0.6"/>
<text x="648.7" y="145.6" font-size="13.1" fill="#1a1a1a" stroke="#1a1a1a" stroke-width="0.25">Prevotellaceae</text>
<rect x="625" y="149.06" width="15.5" height="15.87" fill="#5bbd9d" stroke="#fff" stroke-width="0.6"/>
<text x="648.7" y="161.5" font-size="13.1" fill="#1a1a1a" stroke="#1a1a1a" stroke-width="0.25">Rikenellaceae</text>
<rect x="625" y="164.93" width="15.5" height="15.87" fill="#47a3ae" stroke="#fff" stroke-width="0.6"/>
<text x="648.7" y="177.3" font-size="13.1" fill="#1a1a1a" stroke="#1a1a1a" stroke-width="0.25">Ruminococcaceae</text>
<text transform="translate(1.8,237.6) scale(0.88,1)" font-size="21.5" font-weight="bold" fill="#000" stroke="#000" stroke-width="0.25">b</text>
<text x="337.5" y="227.8" font-size="11" text-anchor="middle" fill="#1a1a1a" stroke="#1a1a1a" stroke-width="0.25">XEA</text>
<text x="538.1" y="227.8" font-size="11" text-anchor="middle" fill="#1a1a1a" stroke="#1a1a1a" stroke-width="0.25">XEB</text>
<rect x="192.00" y="236.90" width="13.63" height="11.25" fill="#ec5860"/>
<rect x="204.63" y="236.90" width="13.63" height="11.25" fill="#fb835f"/>
<rect x="217.26" y="236.90" width="13.63" height="11.25" fill="#cc3f71"/>
<rect x="229.89" y="236.90" width="13.63" height="11.25" fill="#f66c5c"/>
<rect x="242.52" y="236.90" width="13.63" height="11.25" fill="#ec5860"/>
<rect x="255.15" y="236.90" width="13.63" height="11.25" fill="#fb835f"/>
<rect x="267.78" y="236.90" width="13.63" height="11.25" fill="#f66c5c"/>
<rect x="280.41" y="236.90" width="13.63" height="11.25" fill="#ec5860"/>
<rect x="293.04" y="236.90" width="13.63" height="11.25" fill="#fd9869"/>
<rect x="305.67" y="236.90" width="13.63" height="11.25" fill="#fd9869"/>
<rect x="318.30" y="236.90" width="13.63" height="11.25" fill="#fd9869"/>
<rect x="330.93" y="236.90" width="13.63" height="11.25" fill="#feae77"/>
<rect x="343.56" y="236.90" width="13.63" height="11.25" fill="#feae77"/>
<rect x="356.19" y="236.90" width="13.63" height="11.25" fill="#feae77"/>
<rect x="368.82" y="236.90" width="13.63" height="11.25" fill="#feae77"/>
<rect x="381.45" y="236.90" width="13.63" height="11.25" fill="#feae77"/>
<rect x="394.08" y="236.90" width="13.63" height="11.25" fill="#feae77"/>
<rect x="406.71" y="236.90" width="13.63" height="11.25" fill="#feae77"/>
<rect x="419.34" y="236.90" width="13.63" height="11.25" fill="#feae77"/>
<rect x="431.97" y="236.90" width="13.63" height="11.25" fill="#fec488"/>
<rect x="444.60" y="236.90" width="13.63" height="11.25" fill="#feae77"/>
<rect x="457.23" y="236.90" width="13.63" height="11.25" fill="#fec488"/>
<rect x="469.86" y="236.90" width="12.63" height="11.25" fill="#feae77"/>
<rect x="500.90" y="236.90" width="13.63" height="11.25" fill="#feae77"/>
<rect x="513.53" y="236.90" width="13.63" height="11.25" fill="#feae77"/>
<rect x="526.16" y="236.90" width="13.63" height="11.25" fill="#feae77"/>
<rect x="538.79" y="236.90" width="13.63" height="11.25" fill="#feae77"/>
<rect x="551.42" y="236.90" width="13.63" height="11.25" fill="#fec488"/>
<rect x="564.05" y="236.90" width="12.63" height="11.25" fill="#feae77"/>
<rect x="192.00" y="247.15" width="13.63" height="11.25" fill="#fd9869"/>
<rect x="204.63" y="247.15" width="13.63" height="11.25" fill="#fb835f"/>
<rect x="217.26" y="247.15" width="13.63" height="11.25" fill="#fd9869"/>
<rect x="229.89" y="247.15" width="13.63" height="11.25" fill="#fd9869"/>
<rect x="242.52" y="247.15" width="13.63" height="11.25" fill="#fd9869"/>
<rect x="255.15" y="247.15" width="13.63" height="11.25" fill="#fb835f"/>
<rect x="267.78" y="247.15" width="13.63" height="11.25" fill="#fd9869"/>
<rect x="280.41" y="247.15" width="13.63" height="11.25" fill="#fb835f"/>
<rect x="293.04" y="247.15" width="13.63" height="11.25" fill="#feae77"/>
<rect x="305.67" y="247.15" width="13.63" height="11.25" fill="#fd9869"/>
<rect x="318.30" y="247.15" width="13.63" height="11.25" fill="#fd9869"/>
<rect x="330.93" y="247.15" width="13.63" height="11.25" fill="#fd9869"/>
<rect x="343.56" y="247.15" width="13.63" height="11.25" fill="#fb835f"/>
<rect x="356.19" y="247.15" width="13.63" height="11.25" fill="#fb835f"/>
<rect x="368.82" y="247.15" width="13.63" height="11.25" fill="#fd9869"/>
<rect x="381.45" y="247.15" width="13.63" height="11.25" fill="#f66c5c"/>
<rect x="394.08" y="247.15" width="13.63" height="11.25" fill="#f66c5c"/>
<rect x="406.71" y="247.15" width="13.63" height="11.25" fill="#f66c5c"/>
<rect x="419.34" y="247.15" width="13.63" height="11.25" fill="#b83779"/>
<rect x="431.97" y="247.15" width="13.63" height="11.25" fill="#fb835f"/>
<rect x="444.60" y="247.15" width="13.63" height="11.25" fill="#cc3f71"/>
<rect x="457.23" y="247.15" width="13.63" height="11.25" fill="#ec5860"/>
<rect x="469.86" y="247.15" width="12.63" height="11.25" fill="#a5317e"/>
<rect x="500.90" y="247.15" width="13.63" height="11.25" fill="#fd9869"/>
<rect x="513.53" y="247.15" width="13.63" height="11.25" fill="#ec5860"/>
<rect x="526.16" y="247.15" width="13.63" height="11.25" fill="#fb835f"/>
<rect x="538.79" y="247.15" width="13.63" height="11.25" fill="#cc3f71"/>
<rect x="551.42" y="247.15" width="13.63" height="11.25" fill="#fd9869"/>
<rect x="564.05" y="247.15" width="12.63" height="11.25" fill="#cc3f71"/>
<rect x="192.00" y="257.40" width="13.63" height="11.25" fill="#cc3f71"/>
<rect x="204.63" y="257.40" width="13.63" height="11.25" fill="#a5317e"/>
<rect x="217.26" y="257.40" width="13.63" height="11.25" fill="#cc3f71"/>
<rect x="229.89" y="257.40" width="13.63" height="11.25" fill="#cc3f71"/>
<rect x="242.52" y="257.40" width="13.63" height="11.25" fill="#cc3f71"/>
<rect x="255.15" y="257.40" width="13.63" height="11.25" fill="#a5317e"/>
<rect x="267.78" y="257.40" width="13.63" height="11.25" fill="#a5317e"/>
<rect x="280.41" y="257.40" width="13.63" height="11.25" fill="#b83779"/>
<rect x="293.04" y="257.40" width="13.63" height="11.25" fill="#de4968"/>
<rect x="305.67" y="257.40" width="13.63" height="11.25" fill="#cc3f71"/>
<rect x="318.30" y="257.40" width="13.63" height="11.25" fill="#cc3f71"/>
<rect x="330.93" y="257.40" width="13.63" height="11.25" fill="#fcf6b8"/>
<rect x="343.56" y="257.40" width="13.63" height="11.25" fill="#fcf6b8"/>
<rect x="356.19" y="257.40" width="13.63" height="11.25" fill="#fdda9c"/>
<rect x="368.82" y="257.40" width="13.63" height="11.25" fill="#fdda9c"/>
<rect x="381.45" y="257.40" width="13.63" height="11.25" fill="#fdda9c"/>
<rect x="394.08" y="257.40" width="13.63" height="11.25" fill="#fdda9c"/>
<rect x="406.71" y="257.40" width="13.63" height="11.25" fill="#fdda9c"/>
<rect x="419.34" y="257.40" width="13.63" height="11.25" fill="#fdda9c"/>
<rect x="431.97" y="257.40" width="13.63" height="11.25" fill="#fec488"/>
<rect x="444.60" y="257.40" width="13.63" height="11.25" fill="#fec488"/>
<rect x="457.23" y="257.40" width="13.63" height="11.25" fill="#fd9869"/>
<rect x="469.86" y="257.40" width="12.63" height="11.25" fill="#fd9869"/>
<rect x="500.90" y="257.40" width="13.63" height="11.25" fill="#f66c5c"/>
<rect x="513.53" y="257.40" width="13.63" height="11.25" fill="#f66c5c"/>
<rect x="526.16" y="257.40" width="13.63" height="11.25" fill="#f66c5c"/>
<rect x="538.79" y="257.40" width="13.63" height="11.25" fill="#ec5860"/>
<rect x="551.42" y="257.40" width="13.63" height="11.25" fill="#f66c5c"/>
<rect x="564.05" y="257.40" width="12.63" height="11.25" fill="#fd9869"/>
<rect x="192.00" y="267.65" width="13.63" height="11.25" fill="#b83779"/>
<rect x="204.63" y="267.65" width="13.63" height="11.25" fill="#ec5860"/>
<rect x="217.26" y="267.65" width="13.63" height="11.25" fill="#a5317e"/>
<rect x="229.89" y="267.65" width="13.63" height="11.25" fill="#de4968"/>
<rect x="242.52" y="267.65" width="13.63" height="11.25" fill="#b83779"/>
<rect x="255.15" y="267.65" width="13.63" height="11.25" fill="#ec5860"/>
<rect x="267.78" y="267.65" width="13.63" height="11.25" fill="#de4968"/>
<rect x="280.41" y="267.65" width="13.63" height="11.25" fill="#de4968"/>
<rect x="293.04" y="267.65" width="13.63" height="11.25" fill="#fb835f"/>
<rect x="305.67" y="267.65" width="13.63" height="11.25" fill="#f66c5c"/>
<rect x="318.30" y="267.65" width="13.63" height="11.25" fill="#f66c5c"/>
<rect x="330.93" y="267.65" width="13.63" height="11.25" fill="#fb835f"/>
<rect x="343.56" y="267.65" width="13.63" height="11.25" fill="#fb835f"/>
<rect x="356.19" y="267.65" width="13.63" height="11.25" fill="#fb835f"/>
<rect x="368.82" y="267.65" width="13.63" height="11.25" fill="#fb835f"/>
<rect x="381.45" y="267.65" width="13.63" height="11.25" fill="#fb835f"/>
<rect x="394.08" y="267.65" width="13.63" height="11.25" fill="#f66c5c"/>
<rect x="406.71" y="267.65" width="13.63" height="11.25" fill="#fb835f"/>
<rect x="419.34" y="267.65" width="13.63" height="11.25" fill="#fb835f"/>
<rect x="431.97" y="267.65" width="13.63" height="11.25" fill="#fd9869"/>
<rect x="444.60" y="267.65" width="13.63" height="11.25" fill="#f66c5c"/>
<rect x="457.23" y="267.65" width="13.63" height="11.25" fill="#fd9869"/>
<rect x="469.86" y="267.65" width="12.63" height="11.25" fill="#fd9869"/>
<rect x="500.90" y="267.65" width="13.63" height="11.25" fill="#fb835f"/>
<rect x="513.53" y="267.65" width="13.63" height="11.25" fill="#fb835f"/>
<rect x="526.16" y="267.65" width="13.63" height="11.25" fill="#fb835f"/>
<rect x="538.79" y="267.65" width="13.63" height="11.25" fill="#fb835f"/>
<rect x="551.42" y="267.65" width="13.63" height="11.25" fill="#fb835f"/>
<rect x="564.05" y="267.65" width="12.63" height="11.25" fill="#fb835f"/>
<rect x="192.00" y="277.90" width="13.63" height="11.25" fill="#ec5860"/>
<rect x="204.63" y="277.90" width="13.63" height="11.25" fill="#ec5860"/>
<rect x="217.26" y="277.90" width="13.63" height="11.25" fill="#f66c5c"/>
<rect x="229.89" y="277.90" width="13.63" height="11.25" fill="#f66c5c"/>
<rect x="242.52" y="277.90" width="13.63" height="11.25" fill="#ec5860"/>
<rect x="255.15" y="277.90" width="13.63" height="11.25" fill="#ec5860"/>
<rect x="267.78" y="277.90" width="13.63" height="11.25" fill="#de4968"/>
<rect x="280.41" y="277.90" width="13.63" height="11.25" fill="#f66c5c"/>
<rect x="293.04" y="277.90" width="13.63" height="11.25" fill="#fb835f"/>
<rect x="305.67" y="277.90" width="13.63" height="11.25" fill="#f66c5c"/>
<rect x="318.30" y="277.90" width="13.63" height="11.25" fill="#ec5860"/>
<rect x="330.93" y="277.90" width="13.63" height="11.25" fill="#ec5860"/>
<rect x="343.56" y="277.90" width="13.63" height="11.25" fill="#ec5860"/>
<rect x="356.19" y="277.90" width="13.63" height="11.25" fill="#fd9869"/>
<rect x="368.82" y="277.90" width="13.63" height="11.25" fill="#feae77"/>
<rect x="381.45" y="277.90" width="13.63" height="11.25" fill="#feae77"/>
<rect x="394.08" y="277.90" width="13.63" height="11.25" fill="#fec488"/>
<rect x="406.71" y="277.90" width="13.63" height="11.25" fill="#feae77"/>
<rect x="419.34" y="277.90" width="13.63" height="11.25" fill="#ec5860"/>
<rect x="431.97" y="277.90" width="13.63" height="11.25" fill="#ec5860"/>
<rect x="444.60" y="277.90" width="13.63" height="11.25" fill="#ec5860"/>
<rect x="457.23" y="277.90" width="13.63" height="11.25" fill="#fd9869"/>
<rect x="469.86" y="277.90" width="12.63" height="11.25" fill="#fd9869"/>
<rect x="500.90" y="277.90" width="13.63" height="11.25" fill="#ec5860"/>
<rect x="513.53" y="277.90" width="13.63" height="11.25" fill="#de4968"/>
<rect x="526.16" y="277.90" width="13.63" height="11.25" fill="#de4968"/>
<rect x="538.79" y="277.90" width="13.63" height="11.25" fill="#f66c5c"/>
<rect x="551.42" y="277.90" width="13.63" height="11.25" fill="#f66c5c"/>
<rect x="564.05" y="277.90" width="12.63" height="11.25" fill="#fb835f"/>
<rect x="192.00" y="288.15" width="13.63" height="11.25" fill="#de4968"/>
<rect x="204.63" y="288.15" width="13.63" height="11.25" fill="#de4968"/>
<rect x="217.26" y="288.15" width="13.63" height="11.25" fill="#de4968"/>
<rect x="229.89" y="288.15" width="13.63" height="11.25" fill="#b83779"/>
<rect x="242.52" y="288.15" width="13.63" height="11.25" fill="#b83779"/>
<rect x="255.15" y="288.15" width="13.63" height="11.25" fill="#cc3f71"/>
<rect x="267.78" y="288.15" width="13.63" height="11.25" fill="#cc3f71"/>
<rect x="280.41" y="288.15" width="13.63" height="11.25" fill="#b83779"/>
<rect x="293.04" y="288.15" width="13.63" height="11.25" fill="#cc3f71"/>
<rect x="305.67" y="288.15" width="13.63" height="11.25" fill="#cc3f71"/>
<rect x="318.30" y="288.15" width="13.63" height="11.25" fill="#cc3f71"/>
<rect x="330.93" y="288.15" width="13.63" height="11.25" fill="#b83779"/>
<rect x="343.56" y="288.15" width="13.63" height="11.25" fill="#912b81"/>
<rect x="356.19" y="288.15" width="13.63" height="11.25" fill="#a5317e"/>
<rect x="368.82" y="288.15" width="13.63" height="11.25" fill="#b83779"/>
<rect x="381.45" y="288.15" width="13.63" height="11.25" fill="#cc3f71"/>
<rect x="394.08" y="288.15" width="13.63" height="11.25" fill="#a5317e"/>
<rect x="406.71" y="288.15" width="13.63" height="11.25" fill="#a5317e"/>
<rect x="419.34" y="288.15" width="13.63" height="11.25" fill="#912b81"/>
<rect x="431.97" y="288.15" width="13.63" height="11.25" fill="#cc3f71"/>
<rect x="444.60" y="288.15" width="13.63" height="11.25" fill="#7e2482"/>
<rect x="457.23" y="288.15" width="13.63" height="11.25" fill="#a5317e"/>
<rect x="469.86" y="288.15" width="12.63" height="11.25" fill="#a5317e"/>
<rect x="500.90" y="288.15" width="13.63" height="11.25" fill="#cc3f71"/>
<rect x="513.53" y="288.15" width="13.63" height="11.25" fill="#cc3f71"/>
<rect x="526.16" y="288.15" width="13.63" height="11.25" fill="#cc3f71"/>
<rect x="538.79" y="288.15" width="13.63" height="11.25" fill="#b83779"/>
<rect x="551.42" y="288.15" width="13.63" height="11.25" fill="#de4968"/>
<rect x="564.05" y="288.15" width="12.63" height="11.25" fill="#cc3f71"/>
<rect x="192.00" y="298.40" width="13.63" height="11.25" fill="#ec5860"/>
<rect x="204.63" y="298.40" width="13.63" height="11.25" fill="#ec5860"/>
<rect x="217.26" y="298.40" width="13.63" height="11.25" fill="#f66c5c"/>
<rect x="229.89" y="298.40" width="13.63" height="11.25" fill="#de4968"/>
<rect x="242.52" y="298.40" width="13.63" height="11.25" fill="#f66c5c"/>
<rect x="255.15" y="298.40" width="13.63" height="11.25" fill="#ec5860"/>
<rect x="267.78" y="298.40" width="13.63" height="11.25" fill="#f66c5c"/>
<rect x="280.41" y="298.40" width="13.63" height="11.25" fill="#de4968"/>
<rect x="293.04" y="298.40" width="13.63" height="11.25" fill="#de4968"/>
<rect x="305.67" y="298.40" width="13.63" height="11.25" fill="#de4968"/>
<rect x="318.30" y="298.40" width="13.63" height="11.25" fill="#f66c5c"/>
<rect x="330.93" y="298.40" width="13.63" height="11.25" fill="#6b1d81"/>
<rect x="343.56" y="298.40" width="13.63" height="11.25" fill="#de4968"/>
<rect x="356.19" y="298.40" width="13.63" height="11.25" fill="#ec5860"/>
<rect x="368.82" y="298.40" width="13.63" height="11.25" fill="#ec5860"/>
<rect x="381.45" y="298.40" width="13.63" height="11.25" fill="#ec5860"/>
<rect x="394.08" y="298.40" width="13.63" height="11.25" fill="#ec5860"/>
<rect x="406.71" y="298.40" width="13.63" height="11.25" fill="#de4968"/>
<rect x="419.34" y="298.40" width="13.63" height="11.25" fill="#de4968"/>
<rect x="431.97" y="298.40" width="13.63" height="11.25" fill="#de4968"/>
<rect x="444.60" y="298.40" width="13.63" height="11.25" fill="#de4968"/>
<rect x="457.23" y="298.40" width="13.63" height="11.25" fill="#cc3f71"/>
<rect x="469.86" y="298.40" width="12.63" height="11.25" fill="#ec5860"/>
<rect x="500.90" y="298.40" width="13.63" height="11.25" fill="#b83779"/>
<rect x="513.53" y="298.40" width="13.63" height="11.25" fill="#de4968"/>
<rect x="526.16" y="298.40" width="13.63" height="11.25" fill="#de4968"/>
<rect x="538.79" y="298.40" width="13.63" height="11.25" fill="#ec5860"/>
<rect x="551.42" y="298.40" width="13.63" height="11.25" fill="#cc3f71"/>
<rect x="564.05" y="298.40" width="12.63" height="11.25" fill="#ec5860"/>
<rect x="192.00" y="308.65" width="13.63" height="11.25" fill="#b83779"/>
<rect x="204.63" y="308.65" width="13.63" height="11.25" fill="#ec5860"/>
<rect x="217.26" y="308.65" width="13.63" height="11.25" fill="#b83779"/>
<rect x="229.89" y="308.65" width="13.63" height="11.25" fill="#cc3f71"/>
<rect x="242.52" y="308.65" width="13.63" height="11.25" fill="#cc3f71"/>
<rect x="255.15" y="308.65" width="13.63" height="11.25" fill="#de4968"/>
<rect x="267.78" y="308.65" width="13.63" height="11.25" fill="#de4968"/>
<rect x="280.41" y="308.65" width="13.63" height="11.25" fill="#b83779"/>
<rect x="293.04" y="308.65" width="13.63" height="11.25" fill="#cc3f71"/>
<rect x="305.67" y="308.65" width="13.63" height="11.25" fill="#de4968"/>
<rect x="318.30" y="308.65" width="13.63" height="11.25" fill="#b83779"/>
<rect x="330.93" y="308.65" width="13.63" height="11.25" fill="#f66c5c"/>
<rect x="343.56" y="308.65" width="13.63" height="11.25" fill="#a5317e"/>
<rect x="356.19" y="308.65" width="13.63" height="11.25" fill="#cc3f71"/>
<rect x="368.82" y="308.65" width="13.63" height="11.25" fill="#cc3f71"/>
<rect x="381.45" y="308.65" width="13.63" height="11.25" fill="#cc3f71"/>
<rect x="394.08" y="308.65" width="13.63" height="11.25" fill="#a5317e"/>
<rect x="406.71" y="308.65" width="13.63" height="11.25" fill="#b83779"/>
<rect x="419.34" y="308.65" width="13.63" height="11.25" fill="#59157e"/>
<rect x="431.97" y="308.65" width="13.63" height="11.25" fill="#a5317e"/>
<rect x="444.60" y="308.65" width="13.63" height="11.25" fill="#6b1d81"/>
<rect x="457.23" y="308.65" width="13.63" height="11.25" fill="#cc3f71"/>
<rect x="469.86" y="308.65" width="12.63" height="11.25" fill="#de4968"/>
<rect x="500.90" y="308.65" width="13.63" height="11.25" fill="#a5317e"/>
<rect x="513.53" y="308.65" width="13.63" height="11.25" fill="#a5317e"/>
<rect x="526.16" y="308.65" width="13.63" height="11.25" fill="#7e2482"/>
<rect x="538.79" y="308.65" width="13.63" height="11.25" fill="#a5317e"/>
<rect x="551.42" y="308.65" width="13.63" height="11.25" fill="#cc3f71"/>
<rect x="564.05" y="308.65" width="12.63" height="11.25" fill="#cc3f71"/>
<rect x="192.00" y="318.90" width="13.63" height="11.25" fill="#de4968"/>
<rect x="204.63" y="318.90" width="13.63" height="11.25" fill="#59157e"/>
<rect x="217.26" y="318.90" width="13.63" height="11.25" fill="#a5317e"/>
<rect x="229.89" y="318.90" width="13.63" height="11.25" fill="#cc3f71"/>
<rect x="242.52" y="318.90" width="13.63" height="11.25" fill="#b83779"/>
<rect x="255.15" y="318.90" width="13.63" height="11.25" fill="#a5317e"/>
<rect x="267.78" y="318.90" width="13.63" height="11.25" fill="#7e2482"/>
<rect x="280.41" y="318.90" width="13.63" height="11.25" fill="#de4968"/>
<rect x="293.04" y="318.90" width="13.63" height="11.25" fill="#cc3f71"/>
<rect x="305.67" y="318.90" width="13.63" height="11.25" fill="#6b1d81"/>
<rect x="318.30" y="318.90" width="13.63" height="11.25" fill="#912b81"/>
<rect x="330.93" y="318.90" width="13.63" height="11.25" fill="#feae77"/>
<rect x="343.56" y="318.90" width="13.63" height="11.25" fill="#fd9869"/>
<rect x="356.19" y="318.90" width="13.63" height="11.25" fill="#fd9869"/>
<rect x="368.82" y="318.90" width="13.63" height="11.25" fill="#fb835f"/>
<rect x="381.45" y="318.90" width="13.63" height="11.25" fill="#f66c5c"/>
<rect x="394.08" y="318.90" width="13.63" height="11.25" fill="#ec5860"/>
<rect x="406.71" y="318.90" width="13.63" height="11.25" fill="#ec5860"/>
<rect x="419.34" y="318.90" width="13.63" height="11.25" fill="#a5317e"/>
<rect x="431.97" y="318.90" width="13.63" height="11.25" fill="#cc3f71"/>
<rect x="444.60" y="318.90" width="13.63" height="11.25" fill="#de4968"/>
<rect x="457.23" y="318.90" width="13.63" height="11.25" fill="#f66c5c"/>
<rect x="469.86" y="318.90" width="12.63" height="11.25" fill="#f66c5c"/>
<rect x="500.90" y="318.90" width="13.63" height="11.25" fill="#7f7f7f"/>
<rect x="513.53" y="318.90" width="13.63" height="11.25" fill="#7f7f7f"/>
<rect x="526.16" y="318.90" width="13.63" height="11.25" fill="#7f7f7f"/>
<rect x="538.79" y="318.90" width="13.63" height="11.25" fill="#7f7f7f"/>
<rect x="551.42" y="318.90" width="13.63" height="11.25" fill="#7f7f7f"/>
<rect x="564.05" y="318.90" width="12.63" height="11.25" fill="#7f7f7f"/>
<rect x="192.00" y="329.15" width="13.63" height="11.25" fill="#cc3f71"/>
<rect x="204.63" y="329.15" width="13.63" height="11.25" fill="#ec5860"/>
<rect x="217.26" y="329.15" width="13.63" height="11.25" fill="#b83779"/>
<rect x="229.89" y="329.15" width="13.63" height="11.25" fill="#cc3f71"/>
<rect x="242.52" y="329.15" width="13.63" height="11.25" fill="#cc3f71"/>
<rect x="255.15" y="329.15" width="13.63" height="11.25" fill="#b83779"/>
<rect x="267.78" y="329.15" width="13.63" height="11.25" fill="#cc3f71"/>
<rect x="280.41" y="329.15" width="13.63" height="11.25" fill="#cc3f71"/>
<rect x="293.04" y="329.15" width="13.63" height="11.25" fill="#de4968"/>
<rect x="305.67" y="329.15" width="13.63" height="11.25" fill="#de4968"/>
<rect x="318.30" y="329.15" width="13.63" height="11.25" fill="#de4968"/>
<rect x="330.93" y="329.15" width="13.63" height="11.25" fill="#7e2482"/>
<rect x="343.56" y="329.15" width="13.63" height="11.25" fill="#a5317e"/>
<rect x="356.19" y="329.15" width="13.63" height="11.25" fill="#de4968"/>
<rect x="368.82" y="329.15" width="13.63" height="11.25" fill="#cc3f71"/>
<rect x="381.45" y="329.15" width="13.63" height="11.25" fill="#7e2482"/>
<rect x="394.08" y="329.15" width="13.63" height="11.25" fill="#7e2482"/>
<rect x="406.71" y="329.15" width="13.63" height="11.25" fill="#6b1d81"/>
<rect x="419.34" y="329.15" width="13.63" height="11.25" fill="#a5317e"/>
<rect x="431.97" y="329.15" width="13.63" height="11.25" fill="#cc3f71"/>
<rect x="444.60" y="329.15" width="13.63" height="11.25" fill="#6b1d81"/>
<rect x="457.23" y="329.15" width="13.63" height="11.25" fill="#f66c5c"/>
<rect x="469.86" y="329.15" width="12.63" height="11.25" fill="#f66c5c"/>
<rect x="500.90" y="329.15" width="13.63" height="11.25" fill="#311165"/>
<rect x="513.53" y="329.15" width="13.63" height="11.25" fill="#de4968"/>
<rect x="526.16" y="329.15" width="13.63" height="11.25" fill="#de4968"/>
<rect x="538.79" y="329.15" width="13.63" height="11.25" fill="#b83779"/>
<rect x="551.42" y="329.15" width="13.63" height="11.25" fill="#b83779"/>
<rect x="564.05" y="329.15" width="12.63" height="11.25" fill="#ec5860"/>
<rect x="192.00" y="339.40" width="13.63" height="11.25" fill="#ec5860"/>
<rect x="204.63" y="339.40" width="13.63" height="11.25" fill="#ec5860"/>
<rect x="217.26" y="339.40" width="13.63" height="11.25" fill="#f66c5c"/>
<rect x="229.89" y="339.40" width="13.63" height="11.25" fill="#f66c5c"/>
<rect x="242.52" y="339.40" width="13.63" height="11.25" fill="#f66c5c"/>
<rect x="255.15" y="339.40" width="13.63" height="11.25" fill="#f66c5c"/>
<rect x="267.78" y="339.40" width="13.63" height="11.25" fill="#f66c5c"/>
<rect x="280.41" y="339.40" width="13.63" height="11.25" fill="#fb835f"/>
<rect x="293.04" y="339.40" width="13.63" height="11.25" fill="#f66c5c"/>
<rect x="305.67" y="339.40" width="13.63" height="11.25" fill="#f66c5c"/>
<rect x="318.30" y="339.40" width="13.63" height="11.25" fill="#fb835f"/>
<rect x="330.93" y="339.40" width="13.63" height="11.25" fill="#de4968"/>
<rect x="343.56" y="339.40" width="13.63" height="11.25" fill="#f66c5c"/>
<rect x="356.19" y="339.40" width="13.63" height="11.25" fill="#f66c5c"/>
<rect x="368.82" y="339.40" width="13.63" height="11.25" fill="#ec5860"/>
<rect x="381.45" y="339.40" width="13.63" height="11.25" fill="#7e2482"/>
<rect x="394.08" y="339.40" width="13.63" height="11.25" fill="#ec5860"/>
<rect x="406.71" y="339.40" width="13.63" height="11.25" fill="#cc3f71"/>
<rect x="419.34" y="339.40" width="13.63" height="11.25" fill="#7f7f7f"/>
<rect x="431.97" y="339.40" width="13.63" height="11.25" fill="#7f7f7f"/>
<rect x="444.60" y="339.40" width="13.63" height="11.25" fill="#7f7f7f"/>
<rect x="457.23" y="339.40" width="13.63" height="11.25" fill="#fb835f"/>
<rect x="469.86" y="339.40" width="12.63" height="11.25" fill="#fb835f"/>
<rect x="500.90" y="339.40" width="13.63" height="11.25" fill="#7f7f7f"/>
<rect x="513.53" y="339.40" width="13.63" height="11.25" fill="#7f7f7f"/>
<rect x="526.16" y="339.40" width="13.63" height="11.25" fill="#7f7f7f"/>
<rect x="538.79" y="339.40" width="13.63" height="11.25" fill="#7f7f7f"/>
<rect x="551.42" y="339.40" width="13.63" height="11.25" fill="#7f7f7f"/>
<rect x="564.05" y="339.40" width="12.63" height="11.25" fill="#7f7f7f"/>
<rect x="192.00" y="349.65" width="13.63" height="11.25" fill="#912b81"/>
<rect x="204.63" y="349.65" width="13.63" height="11.25" fill="#de4968"/>
<rect x="217.26" y="349.65" width="13.63" height="11.25" fill="#b83779"/>
<rect x="229.89" y="349.65" width="13.63" height="11.25" fill="#b83779"/>
<rect x="242.52" y="349.65" width="13.63" height="11.25" fill="#cc3f71"/>
<rect x="255.15" y="349.65" width="13.63" height="11.25" fill="#b83779"/>
<rect x="267.78" y="349.65" width="13.63" height="11.25" fill="#a5317e"/>
<rect x="280.41" y="349.65" width="13.63" height="11.25" fill="#a5317e"/>
<rect x="293.04" y="349.65" width="13.63" height="11.25" fill="#b83779"/>
<rect x="305.67" y="349.65" width="13.63" height="11.25" fill="#cc3f71"/>
<rect x="318.30" y="349.65" width="13.63" height="11.25" fill="#cc3f71"/>
<rect x="330.93" y="349.65" width="13.63" height="11.25" fill="#7f7f7f"/>
<rect x="343.56" y="349.65" width="13.63" height="11.25" fill="#de4968"/>
<rect x="356.19" y="349.65" width="13.63" height="11.25" fill="#ec5860"/>
<rect x="368.82" y="349.65" width="13.63" height="11.25" fill="#ec5860"/>
<rect x="381.45" y="349.65" width="13.63" height="11.25" fill="#cc3f71"/>
<rect x="394.08" y="349.65" width="13.63" height="11.25" fill="#de4968"/>
<rect x="406.71" y="349.65" width="13.63" height="11.25" fill="#de4968"/>
<rect x="419.34" y="349.65" width="13.63" height="11.25" fill="#cc3f71"/>
<rect x="431.97" y="349.65" width="13.63" height="11.25" fill="#b83779"/>
<rect x="444.60" y="349.65" width="13.63" height="11.25" fill="#ec5860"/>
<rect x="457.23" y="349.65" width="13.63" height="11.25" fill="#ec5860"/>
<rect x="469.86" y="349.65" width="12.63" height="11.25" fill="#ec5860"/>
<rect x="500.90" y="349.65" width="13.63" height="11.25" fill="#912b81"/>
<rect x="513.53" y="349.65" width="13.63" height="11.25" fill="#b83779"/>
<rect x="526.16" y="349.65" width="13.63" height="11.25" fill="#b83779"/>
<rect x="538.79" y="349.65" width="13.63" height="11.25" fill="#cc3f71"/>
<rect x="551.42" y="349.65" width="13.63" height="11.25" fill="#de4968"/>
<rect x="564.05" y="349.65" width="12.63" height="11.25" fill="#cc3f71"/>
<rect x="192.00" y="359.90" width="13.63" height="11.25" fill="#b83779"/>
<rect x="204.63" y="359.90" width="13.63" height="11.25" fill="#de4968"/>
<rect x="217.26" y="359.90" width="13.63" height="11.25" fill="#a5317e"/>
<rect x="229.89" y="359.90" width="13.63" height="11.25" fill="#a5317e"/>
<rect x="242.52" y="359.90" width="13.63" height="11.25" fill="#6b1d81"/>
<rect x="255.15" y="359.90" width="13.63" height="11.25" fill="#b83779"/>
<rect x="267.78" y="359.90" width="13.63" height="11.25" fill="#b83779"/>
<rect x="280.41" y="359.90" width="13.63" height="11.25" fill="#b83779"/>
<rect x="293.04" y="359.90" width="13.63" height="11.25" fill="#de4968"/>
<rect x="305.67" y="359.90" width="13.63" height="11.25" fill="#de4968"/>
<rect x="318.30" y="359.90" width="13.63" height="11.25" fill="#ec5860"/>
<rect x="330.93" y="359.90" width="13.63" height="11.25" fill="#912b81"/>
<rect x="343.56" y="359.90" width="13.63" height="11.25" fill="#a5317e"/>
<rect x="356.19" y="359.90" width="13.63" height="11.25" fill="#a5317e"/>
<rect x="368.82" y="359.90" width="13.63" height="11.25" fill="#cc3f71"/>
<rect x="381.45" y="359.90" width="13.63" height="11.25" fill="#912b81"/>
<rect x="394.08" y="359.90" width="13.63" height="11.25" fill="#912b81"/>
<rect x="406.71" y="359.90" width="13.63" height="11.25" fill="#59157e"/>
<rect x="419.34" y="359.90" width="13.63" height="11.25" fill="#7f7f7f"/>
<rect x="431.97" y="359.90" width="13.63" height="11.25" fill="#912b81"/>
<rect x="444.60" y="359.90" width="13.63" height="11.25" fill="#912b81"/>
<rect x="457.23" y="359.90" width="13.63" height="11.25" fill="#b83779"/>
<rect x="469.86" y="359.90" width="12.63" height="11.25" fill="#cc3f71"/>
<rect x="500.90" y="359.90" width="13.63" height="11.25" fill="#912b81"/>
<rect x="513.53" y="359.90" width="13.63" height="11.25" fill="#912b81"/>
<rect x="526.16" y="359.90" width="13.63" height="11.25" fill="#7e2482"/>
<rect x="538.79" y="359.90" width="13.63" height="11.25" fill="#b83779"/>
<rect x="551.42" y="359.90" width="13.63" height="11.25" fill="#a5317e"/>
<rect x="564.05" y="359.90" width="12.63" height="11.25" fill="#cc3f71"/>
<rect x="192.00" y="370.15" width="13.63" height="11.25" fill="#de4968"/>
<rect x="204.63" y="370.15" width="13.63" height="11.25" fill="#cc3f71"/>
<rect x="217.26" y="370.15" width="13.63" height="11.25" fill="#de4968"/>
<rect x="229.89" y="370.15" width="13.63" height="11.25" fill="#b83779"/>
<rect x="242.52" y="370.15" width="13.63" height="11.25" fill="#ec5860"/>
<rect x="255.15" y="370.15" width="13.63" height="11.25" fill="#de4968"/>
<rect x="267.78" y="370.15" width="13.63" height="11.25" fill="#de4968"/>
<rect x="280.41" y="370.15" width="13.63" height="11.25" fill="#cc3f71"/>
<rect x="293.04" y="370.15" width="13.63" height="11.25" fill="#cc3f71"/>
<rect x="305.67" y="370.15" width="13.63" height="11.25" fill="#cc3f71"/>
<rect x="318.30" y="370.15" width="13.63" height="11.25" fill="#ec5860"/>
<rect x="330.93" y="370.15" width="13.63" height="11.25" fill="#b83779"/>
<rect x="343.56" y="370.15" width="13.63" height="11.25" fill="#cc3f71"/>
<rect x="356.19" y="370.15" width="13.63" height="11.25" fill="#b83779"/>
<rect x="368.82" y="370.15" width="13.63" height="11.25" fill="#cc3f71"/>
<rect x="381.45" y="370.15" width="13.63" height="11.25" fill="#cc3f71"/>
<rect x="394.08" y="370.15" width="13.63" height="11.25" fill="#de4968"/>
<rect x="406.71" y="370.15" width="13.63" height="11.25" fill="#cc3f71"/>
<rect x="419.34" y="370.15" width="13.63" height="11.25" fill="#7f7f7f"/>
<rect x="431.97" y="370.15" width="13.63" height="11.25" fill="#912b81"/>
<rect x="444.60" y="370.15" width="13.63" height="11.25" fill="#912b81"/>
<rect x="457.23" y="370.15" width="13.63" height="11.25" fill="#de4968"/>
<rect x="469.86" y="370.15" width="12.63" height="11.25" fill="#de4968"/>
<rect x="500.90" y="370.15" width="13.63" height="11.25" fill="#a5317e"/>
<rect x="513.53" y="370.15" width="13.63" height="11.25" fill="#de4968"/>
<rect x="526.16" y="370.15" width="13.63" height="11.25" fill="#cc3f71"/>
<rect x="538.79" y="370.15" width="13.63" height="11.25" fill="#cc3f71"/>
<rect x="551.42" y="370.15" width="13.63" height="11.25" fill="#cc3f71"/>
<rect x="564.05" y="370.15" width="12.63" height="11.25" fill="#cc3f71"/>
<rect x="192.00" y="380.40" width="13.63" height="11.25" fill="#de4968"/>
<rect x="204.63" y="380.40" width="13.63" height="11.25" fill="#cc3f71"/>
<rect x="217.26" y="380.40" width="13.63" height="11.25" fill="#de4968"/>
<rect x="229.89" y="380.40" width="13.63" height="11.25" fill="#cc3f71"/>
<rect x="242.52" y="380.40" width="13.63" height="11.25" fill="#ec5860"/>
<rect x="255.15" y="380.40" width="13.63" height="11.25" fill="#de4968"/>
<rect x="267.78" y="380.40" width="13.63" height="11.25" fill="#de4968"/>
<rect x="280.41" y="380.40" width="13.63" height="11.25" fill="#cc3f71"/>
<rect x="293.04" y="380.40" width="13.63" height="11.25" fill="#de4968"/>
<rect x="305.67" y="380.40" width="13.63" height="11.25" fill="#b83779"/>
<rect x="318.30" y="380.40" width="13.63" height="11.25" fill="#cc3f71"/>
<rect x="330.93" y="380.40" width="13.63" height="11.25" fill="#cc3f71"/>
<rect x="343.56" y="380.40" width="13.63" height="11.25" fill="#912b81"/>
<rect x="356.19" y="380.40" width="13.63" height="11.25" fill="#912b81"/>
<rect x="368.82" y="380.40" width="13.63" height="11.25" fill="#912b81"/>
<rect x="381.45" y="380.40" width="13.63" height="11.25" fill="#912b81"/>
<rect x="394.08" y="380.40" width="13.63" height="11.25" fill="#912b81"/>
<rect x="406.71" y="380.40" width="13.63" height="11.25" fill="#7e2482"/>
<rect x="419.34" y="380.40" width="13.63" height="11.25" fill="#912b81"/>
<rect x="431.97" y="380.40" width="13.63" height="11.25" fill="#912b81"/>
<rect x="444.60" y="380.40" width="13.63" height="11.25" fill="#59157e"/>
<rect x="457.23" y="380.40" width="13.63" height="11.25" fill="#de4968"/>
<rect x="469.86" y="380.40" width="12.63" height="11.25" fill="#de4968"/>
<rect x="500.90" y="380.40" width="13.63" height="11.25" fill="#7f7f7f"/>
<rect x="513.53" y="380.40" width="13.63" height="11.25" fill="#7f7f7f"/>
<rect x="526.16" y="380.40" width="13.63" height="11.25" fill="#7f7f7f"/>
<rect x="538.79" y="380.40" width="13.63" height="11.25" fill="#7f7f7f"/>
<rect x="551.42" y="380.40" width="13.63" height="11.25" fill="#7f7f7f"/>
<rect x="564.05" y="380.40" width="12.63" height="11.25" fill="#7f7f7f"/>
<rect x="192.00" y="390.65" width="13.63" height="11.25" fill="#ec5860"/>
<rect x="204.63" y="390.65" width="13.63" height="11.25" fill="#ec5860"/>
<rect x="217.26" y="390.65" width="13.63" height="11.25" fill="#ec5860"/>
<rect x="229.89" y="390.65" width="13.63" height="11.25" fill="#f66c5c"/>
<rect x="242.52" y="390.65" width="13.63" height="11.25" fill="#ec5860"/>
<rect x="255.15" y="390.65" width="13.63" height="11.25" fill="#f66c5c"/>
<rect x="267.78" y="390.65" width="13.63" height="11.25" fill="#f66c5c"/>
<rect x="280.41" y="390.65" width="13.63" height="11.25" fill="#f66c5c"/>
<rect x="293.04" y="390.65" width="13.63" height="11.25" fill="#fb835f"/>
<rect x="305.67" y="390.65" width="13.63" height="11.25" fill="#f66c5c"/>
<rect x="318.30" y="390.65" width="13.63" height="11.25" fill="#f66c5c"/>
<rect x="330.93" y="390.65" width="13.63" height="11.25" fill="#ec5860"/>
<rect x="343.56" y="390.65" width="13.63" height="11.25" fill="#ec5860"/>
<rect x="356.19" y="390.65" width="13.63" height="11.25" fill="#f66c5c"/>
<rect x="368.82" y="390.65" width="13.63" height="11.25" fill="#f66c5c"/>
<rect x="381.45" y="390.65" width="13.63" height="11.25" fill="#ec5860"/>
<rect x="394.08" y="390.65" width="13.63" height="11.25" fill="#f66c5c"/>
<rect x="406.71" y="390.65" width="13.63" height="11.25" fill="#ec5860"/>
<rect x="419.34" y="390.65" width="13.63" height="11.25" fill="#59157e"/>
<rect x="431.97" y="390.65" width="13.63" height="11.25" fill="#cc3f71"/>
<rect x="444.60" y="390.65" width="13.63" height="11.25" fill="#cc3f71"/>
<rect x="457.23" y="390.65" width="13.63" height="11.25" fill="#de4968"/>
<rect x="469.86" y="390.65" width="12.63" height="11.25" fill="#b83779"/>
<rect x="500.90" y="390.65" width="13.63" height="11.25" fill="#ec5860"/>
<rect x="513.53" y="390.65" width="13.63" height="11.25" fill="#912b81"/>
<rect x="526.16" y="390.65" width="13.63" height="11.25" fill="#de4968"/>
<rect x="538.79" y="390.65" width="13.63" height="11.25" fill="#de4968"/>
<rect x="551.42" y="390.65" width="13.63" height="11.25" fill="#de4968"/>
<rect x="564.05" y="390.65" width="12.63" height="11.25" fill="#de4968"/>
<rect x="192.00" y="400.90" width="13.63" height="11.25" fill="#cc3f71"/>
<rect x="204.63" y="400.90" width="13.63" height="11.25" fill="#cc3f71"/>
<rect x="217.26" y="400.90" width="13.63" height="11.25" fill="#b83779"/>
<rect x="229.89" y="400.90" width="13.63" height="11.25" fill="#cc3f71"/>
<rect x="242.52" y="400.90" width="13.63" height="11.25" fill="#cc3f71"/>
<rect x="255.15" y="400.90" width="13.63" height="11.25" fill="#cc3f71"/>
<rect x="267.78" y="400.90" width="13.63" height="11.25" fill="#cc3f71"/>
<rect x="280.41" y="400.90" width="13.63" height="11.25" fill="#cc3f71"/>
<rect x="293.04" y="400.90" width="13.63" height="11.25" fill="#cc3f71"/>
<rect x="305.67" y="400.90" width="13.63" height="11.25" fill="#cc3f71"/>
<rect x="318.30" y="400.90" width="13.63" height="11.25" fill="#de4968"/>
<rect x="330.93" y="400.90" width="13.63" height="11.25" fill="#de4968"/>
<rect x="343.56" y="400.90" width="13.63" height="11.25" fill="#cc3f71"/>
<rect x="356.19" y="400.90" width="13.63" height="11.25" fill="#cc3f71"/>
<rect x="368.82" y="400.90" width="13.63" height="11.25" fill="#cc3f71"/>
<rect x="381.45" y="400.90" width="13.63" height="11.25" fill="#cc3f71"/>
<rect x="394.08" y="400.90" width="13.63" height="11.25" fill="#a5317e"/>
<rect x="406.71" y="400.90" width="13.63" height="11.25" fill="#a5317e"/>
<rect x="419.34" y="400.90" width="13.63" height="11.25" fill="#7f7f7f"/>
<rect x="431.97" y="400.90" width="13.63" height="11.25" fill="#59157e"/>
<rect x="444.60" y="400.90" width="13.63" height="11.25" fill="#7f7f7f"/>
<rect x="457.23" y="400.90" width="13.63" height="11.25" fill="#6b1d81"/>
<rect x="469.86" y="400.90" width="12.63" height="11.25" fill="#912b81"/>
<rect x="500.90" y="400.90" width="13.63" height="11.25" fill="#59157e"/>
<rect x="513.53" y="400.90" width="13.63" height="11.25" fill="#59157e"/>
<rect x="526.16" y="400.90" width="13.63" height="11.25" fill="#7f7f7f"/>
<rect x="538.79" y="400.90" width="13.63" height="11.25" fill="#7e2482"/>
<rect x="551.42" y="400.90" width="13.63" height="11.25" fill="#a5317e"/>
<rect x="564.05" y="400.90" width="12.63" height="11.25" fill="#cc3f71"/>
<rect x="192.00" y="411.15" width="13.63" height="11.25" fill="#7e2482"/>
<rect x="204.63" y="411.15" width="13.63" height="11.25" fill="#cc3f71"/>
<rect x="217.26" y="411.15" width="13.63" height="11.25" fill="#cc3f71"/>
<rect x="229.89" y="411.15" width="13.63" height="11.25" fill="#fb835f"/>
<rect x="242.52" y="411.15" width="13.63" height="11.25" fill="#fd9869"/>
<rect x="255.15" y="411.15" width="13.63" height="11.25" fill="#fb835f"/>
<rect x="267.78" y="411.15" width="13.63" height="11.25" fill="#fb835f"/>
<rect x="280.41" y="411.15" width="13.63" height="11.25" fill="#cc3f71"/>
<rect x="293.04" y="411.15" width="13.63" height="11.25" fill="#f66c5c"/>
<rect x="305.67" y="411.15" width="13.63" height="11.25" fill="#f66c5c"/>
<rect x="318.30" y="411.15" width="13.63" height="11.25" fill="#ec5860"/>
<rect x="330.93" y="411.15" width="13.63" height="11.25" fill="#7f7f7f"/>
<rect x="343.56" y="411.15" width="13.63" height="11.25" fill="#1e1149"/>
<rect x="356.19" y="411.15" width="13.63" height="11.25" fill="#fd9869"/>
<rect x="368.82" y="411.15" width="13.63" height="11.25" fill="#feae77"/>
<rect x="381.45" y="411.15" width="13.63" height="11.25" fill="#feae77"/>
<rect x="394.08" y="411.15" width="13.63" height="11.25" fill="#fd9869"/>
<rect x="406.71" y="411.15" width="13.63" height="11.25" fill="#fec488"/>
<rect x="419.34" y="411.15" width="13.63" height="11.25" fill="#fec488"/>
<rect x="431.97" y="411.15" width="13.63" height="11.25" fill="#7f7f7f"/>
<rect x="444.60" y="411.15" width="13.63" height="11.25" fill="#fec488"/>
<rect x="457.23" y="411.15" width="13.63" height="11.25" fill="#7f7f7f"/>
<rect x="469.86" y="411.15" width="12.63" height="11.25" fill="#6b1d81"/>
<rect x="500.90" y="411.15" width="13.63" height="11.25" fill="#ec5860"/>
<rect x="513.53" y="411.15" width="13.63" height="11.25" fill="#cc3f71"/>
<rect x="526.16" y="411.15" width="13.63" height="11.25" fill="#de4968"/>
<rect x="538.79" y="411.15" width="13.63" height="11.25" fill="#fb835f"/>
<rect x="551.42" y="411.15" width="13.63" height="11.25" fill="#7f7f7f"/>
<rect x="564.05" y="411.15" width="12.63" height="11.25" fill="#7f7f7f"/>
<rect x="192.00" y="421.40" width="13.63" height="11.25" fill="#de4968"/>
<rect x="204.63" y="421.40" width="13.63" height="11.25" fill="#f66c5c"/>
<rect x="217.26" y="421.40" width="13.63" height="11.25" fill="#b83779"/>
<rect x="229.89" y="421.40" width="13.63" height="11.25" fill="#b83779"/>
<rect x="242.52" y="421.40" width="13.63" height="11.25" fill="#b83779"/>
<rect x="255.15" y="421.40" width="13.63" height="11.25" fill="#cc3f71"/>
<rect x="267.78" y="421.40" width="13.63" height="11.25" fill="#b83779"/>
<rect x="280.41" y="421.40" width="13.63" height="11.25" fill="#a5317e"/>
<rect x="293.04" y="421.40" width="13.63" height="11.25" fill="#ec5860"/>
<rect x="305.67" y="421.40" width="13.63" height="11.25" fill="#b83779"/>
<rect x="318.30" y="421.40" width="13.63" height="11.25" fill="#de4968"/>
<rect x="330.93" y="421.40" width="13.63" height="11.25" fill="#7f7f7f"/>
<rect x="343.56" y="421.40" width="13.63" height="11.25" fill="#7f7f7f"/>
<rect x="356.19" y="421.40" width="13.63" height="11.25" fill="#cc3f71"/>
<rect x="368.82" y="421.40" width="13.63" height="11.25" fill="#cc3f71"/>
<rect x="381.45" y="421.40" width="13.63" height="11.25" fill="#de4968"/>
<rect x="394.08" y="421.40" width="13.63" height="11.25" fill="#a5317e"/>
<rect x="406.71" y="421.40" width="13.63" height="11.25" fill="#de4968"/>
<rect x="419.34" y="421.40" width="13.63" height="11.25" fill="#de4968"/>
<rect x="431.97" y="421.40" width="13.63" height="11.25" fill="#7f7f7f"/>
<rect x="444.60" y="421.40" width="13.63" height="11.25" fill="#ec5860"/>
<rect x="457.23" y="421.40" width="13.63" height="11.25" fill="#ec5860"/>
<rect x="469.86" y="421.40" width="12.63" height="11.25" fill="#b83779"/>
<rect x="500.90" y="421.40" width="13.63" height="11.25" fill="#7f7f7f"/>
<rect x="513.53" y="421.40" width="13.63" height="11.25" fill="#7f7f7f"/>
<rect x="526.16" y="421.40" width="13.63" height="11.25" fill="#7f7f7f"/>
<rect x="538.79" y="421.40" width="13.63" height="11.25" fill="#7f7f7f"/>
<rect x="551.42" y="421.40" width="13.63" height="11.25" fill="#7f7f7f"/>
<rect x="564.05" y="421.40" width="12.63" height="11.25" fill="#7f7f7f"/>
<rect x="192.00" y="431.65" width="13.63" height="11.25" fill="#de4968"/>
<rect x="204.63" y="431.65" width="13.63" height="11.25" fill="#ec5860"/>
<rect x="217.26" y="431.65" width="13.63" height="11.25" fill="#de4968"/>
<rect x="229.89" y="431.65" width="13.63" height="11.25" fill="#de4968"/>
<rect x="242.52" y="431.65" width="13.63" height="11.25" fill="#de4968"/>
<rect x="255.15" y="431.65" width="13.63" height="11.25" fill="#de4968"/>
<rect x="267.78" y="431.65" width="13.63" height="11.25" fill="#de4968"/>
<rect x="280.41" y="431.65" width="13.63" height="11.25" fill="#de4968"/>
<rect x="293.04" y="431.65" width="13.63" height="11.25" fill="#de4968"/>
<rect x="305.67" y="431.65" width="13.63" height="11.25" fill="#f66c5c"/>
<rect x="318.30" y="431.65" width="13.63" height="11.25" fill="#f66c5c"/>
<rect x="330.93" y="431.65" width="13.63" height="11.25" fill="#7f7f7f"/>
<rect x="343.56" y="431.65" width="13.63" height="11.25" fill="#912b81"/>
<rect x="356.19" y="431.65" width="13.63" height="11.25" fill="#cc3f71"/>
<rect x="368.82" y="431.65" width="13.63" height="11.25" fill="#de4968"/>
<rect x="381.45" y="431.65" width="13.63" height="11.25" fill="#cc3f71"/>
<rect x="394.08" y="431.65" width="13.63" height="11.25" fill="#de4968"/>
<rect x="406.71" y="431.65" width="13.63" height="11.25" fill="#de4968"/>
<rect x="419.34" y="431.65" width="13.63" height="11.25" fill="#de4968"/>
<rect x="431.97" y="431.65" width="13.63" height="11.25" fill="#cc3f71"/>
<rect x="444.60" y="431.65" width="13.63" height="11.25" fill="#de4968"/>
<rect x="457.23" y="431.65" width="13.63" height="11.25" fill="#f66c5c"/>
<rect x="469.86" y="431.65" width="12.63" height="11.25" fill="#fb835f"/>
<rect x="500.90" y="431.65" width="13.63" height="11.25" fill="#cc3f71"/>
<rect x="513.53" y="431.65" width="13.63" height="11.25" fill="#de4968"/>
<rect x="526.16" y="431.65" width="13.63" height="11.25" fill="#ec5860"/>
<rect x="538.79" y="431.65" width="13.63" height="11.25" fill="#cc3f71"/>
<rect x="551.42" y="431.65" width="13.63" height="11.25" fill="#ec5860"/>
<rect x="564.05" y="431.65" width="12.63" height="11.25" fill="#f66c5c"/>
<rect x="192.00" y="441.90" width="13.63" height="11.25" fill="#fec488"/>
<rect x="204.63" y="441.90" width="13.63" height="11.25" fill="#feae77"/>
<rect x="217.26" y="441.90" width="13.63" height="11.25" fill="#fec488"/>
<rect x="229.89" y="441.90" width="13.63" height="11.25" fill="#fec488"/>
<rect x="242.52" y="441.90" width="13.63" height="11.25" fill="#fec488"/>
<rect x="255.15" y="441.90" width="13.63" height="11.25" fill="#fec488"/>
<rect x="267.78" y="441.90" width="13.63" height="11.25" fill="#fec488"/>
<rect x="280.41" y="441.90" width="13.63" height="11.25" fill="#fec488"/>
<rect x="293.04" y="441.90" width="13.63" height="11.25" fill="#feae77"/>
<rect x="305.67" y="441.90" width="13.63" height="11.25" fill="#fec488"/>
<rect x="318.30" y="441.90" width="13.63" height="11.25" fill="#fec488"/>
<rect x="330.93" y="441.90" width="13.63" height="11.25" fill="#cc3f71"/>
<rect x="343.56" y="441.90" width="13.63" height="11.25" fill="#cc3f71"/>
<rect x="356.19" y="441.90" width="13.63" height="11.25" fill="#fb835f"/>
<rect x="368.82" y="441.90" width="13.63" height="11.25" fill="#feae77"/>
<rect x="381.45" y="441.90" width="13.63" height="11.25" fill="#fd9869"/>
<rect x="394.08" y="441.90" width="13.63" height="11.25" fill="#fec488"/>
<rect x="406.71" y="441.90" width="13.63" height="11.25" fill="#fb835f"/>
<rect x="419.34" y="441.90" width="13.63" height="11.25" fill="#f66c5c"/>
<rect x="431.97" y="441.90" width="13.63" height="11.25" fill="#feae77"/>
<rect x="444.60" y="441.90" width="13.63" height="11.25" fill="#ec5860"/>
<rect x="457.23" y="441.90" width="13.63" height="11.25" fill="#cc3f71"/>
<rect x="469.86" y="441.90" width="12.63" height="11.25" fill="#feae77"/>
<rect x="500.90" y="441.90" width="13.63" height="11.25" fill="#fd9869"/>
<rect x="513.53" y="441.90" width="13.63" height="11.25" fill="#fec488"/>
<rect x="526.16" y="441.90" width="13.63" height="11.25" fill="#fec488"/>
<rect x="538.79" y="441.90" width="13.63" height="11.25" fill="#feae77"/>
<rect x="551.42" y="441.90" width="13.63" height="11.25" fill="#fec488"/>
<rect x="564.05" y="441.90" width="12.63" height="11.25" fill="#fb835f"/>
<rect x="192.00" y="452.15" width="13.63" height="11.25" fill="#f66c5c"/>
<rect x="204.63" y="452.15" width="13.63" height="11.25" fill="#fd9869"/>
<rect x="217.26" y="452.15" width="13.63" height="11.25" fill="#f66c5c"/>
<rect x="229.89" y="452.15" width="13.63" height="11.25" fill="#ec5860"/>
<rect x="242.52" y="452.15" width="13.63" height="11.25" fill="#f66c5c"/>
<rect x="255.15" y="452.15" width="13.63" height="11.25" fill="#fb835f"/>
<rect x="267.78" y="452.15" width="13.63" height="11.25" fill="#f66c5c"/>
<rect x="280.41" y="452.15" width="13.63" height="11.25" fill="#f66c5c"/>
<rect x="293.04" y="452.15" width="13.63" height="11.25" fill="#fd9869"/>
<rect x="305.67" y="452.15" width="13.63" height="11.25" fill="#fd9869"/>
<rect x="318.30" y="452.15" width="13.63" height="11.25" fill="#fd9869"/>
<rect x="330.93" y="452.15" width="13.63" height="11.25" fill="#7f7f7f"/>
<rect x="343.56" y="452.15" width="13.63" height="11.25" fill="#7f7f7f"/>
<rect x="356.19" y="452.15" width="13.63" height="11.25" fill="#cc3f71"/>
<rect x="368.82" y="452.15" width="13.63" height="11.25" fill="#f66c5c"/>
<rect x="381.45" y="452.15" width="13.63" height="11.25" fill="#fb835f"/>
<rect x="394.08" y="452.15" width="13.63" height="11.25" fill="#f66c5c"/>
<rect x="406.71" y="452.15" width="13.63" height="11.25" fill="#de4968"/>
<rect x="419.34" y="452.15" width="13.63" height="11.25" fill="#cc3f71"/>
<rect x="431.97" y="452.15" width="13.63" height="11.25" fill="#de4968"/>
<rect x="444.60" y="452.15" width="13.63" height="11.25" fill="#cc3f71"/>
<rect x="457.23" y="452.15" width="13.63" height="11.25" fill="#fd9869"/>
<rect x="469.86" y="452.15" width="12.63" height="11.25" fill="#fb835f"/>
<rect x="500.90" y="452.15" width="13.63" height="11.25" fill="#cc3f71"/>
<rect x="513.53" y="452.15" width="13.63" height="11.25" fill="#ec5860"/>
<rect x="526.16" y="452.15" width="13.63" height="11.25" fill="#cc3f71"/>
<rect x="538.79" y="452.15" width="13.63" height="11.25" fill="#de4968"/>
<rect x="551.42" y="452.15" width="13.63" height="11.25" fill="#7f7f7f"/>
<rect x="564.05" y="452.15" width="12.63" height="11.25" fill="#7f7f7f"/>
<rect x="192.00" y="462.40" width="13.63" height="11.25" fill="#912b81"/>
<rect x="204.63" y="462.40" width="13.63" height="11.25" fill="#cc3f71"/>
<rect x="217.26" y="462.40" width="13.63" height="11.25" fill="#912b81"/>
<rect x="229.89" y="462.40" width="13.63" height="11.25" fill="#a5317e"/>
<rect x="242.52" y="462.40" width="13.63" height="11.25" fill="#912b81"/>
<rect x="255.15" y="462.40" width="13.63" height="11.25" fill="#7e2482"/>
<rect x="267.78" y="462.40" width="13.63" height="11.25" fill="#a5317e"/>
<rect x="280.41" y="462.40" width="13.63" height="11.25" fill="#a5317e"/>
<rect x="293.04" y="462.40" width="13.63" height="11.25" fill="#b83779"/>
<rect x="305.67" y="462.40" width="13.63" height="11.25" fill="#cc3f71"/>
<rect x="318.30" y="462.40" width="13.63" height="11.25" fill="#cc3f71"/>
<rect x="330.93" y="462.40" width="13.63" height="11.25" fill="#7f7f7f"/>
<rect x="343.56" y="462.40" width="13.63" height="11.25" fill="#7f7f7f"/>
<rect x="356.19" y="462.40" width="13.63" height="11.25" fill="#7e2482"/>
<rect x="368.82" y="462.40" width="13.63" height="11.25" fill="#7e2482"/>
<rect x="381.45" y="462.40" width="13.63" height="11.25" fill="#912b81"/>
<rect x="394.08" y="462.40" width="13.63" height="11.25" fill="#a5317e"/>
<rect x="406.71" y="462.40" width="13.63" height="11.25" fill="#b83779"/>
<rect x="419.34" y="462.40" width="13.63" height="11.25" fill="#912b81"/>
<rect x="431.97" y="462.40" width="13.63" height="11.25" fill="#912b81"/>
<rect x="444.60" y="462.40" width="13.63" height="11.25" fill="#a5317e"/>
<rect x="457.23" y="462.40" width="13.63" height="11.25" fill="#cc3f71"/>
<rect x="469.86" y="462.40" width="12.63" height="11.25" fill="#cc3f71"/>
<rect x="500.90" y="462.40" width="13.63" height="11.25" fill="#912b81"/>
<rect x="513.53" y="462.40" width="13.63" height="11.25" fill="#912b81"/>
<rect x="526.16" y="462.40" width="13.63" height="11.25" fill="#7e2482"/>
<rect x="538.79" y="462.40" width="13.63" height="11.25" fill="#b83779"/>
<rect x="551.42" y="462.40" width="13.63" height="11.25" fill="#912b81"/>
<rect x="564.05" y="462.40" width="12.63" height="11.25" fill="#cc3f71"/>
<rect x="192.00" y="472.65" width="13.63" height="11.25" fill="#cc3f71"/>
<rect x="204.63" y="472.65" width="13.63" height="11.25" fill="#cc3f71"/>
<rect x="217.26" y="472.65" width="13.63" height="11.25" fill="#b83779"/>
<rect x="229.89" y="472.65" width="13.63" height="11.25" fill="#b83779"/>
<rect x="242.52" y="472.65" width="13.63" height="11.25" fill="#cc3f71"/>
<rect x="255.15" y="472.65" width="13.63" height="11.25" fill="#de4968"/>
<rect x="267.78" y="472.65" width="13.63" height="11.25" fill="#de4968"/>
<rect x="280.41" y="472.65" width="13.63" height="11.25" fill="#cc3f71"/>
<rect x="293.04" y="472.65" width="13.63" height="11.25" fill="#cc3f71"/>
<rect x="305.67" y="472.65" width="13.63" height="11.25" fill="#cc3f71"/>
<rect x="318.30" y="472.65" width="13.63" height="11.25" fill="#ec5860"/>
<rect x="330.93" y="472.65" width="13.63" height="11.25" fill="#7f7f7f"/>
<rect x="343.56" y="472.65" width="13.63" height="11.25" fill="#6b1d81"/>
<rect x="356.19" y="472.65" width="13.63" height="11.25" fill="#b83779"/>
<rect x="368.82" y="472.65" width="13.63" height="11.25" fill="#b83779"/>
<rect x="381.45" y="472.65" width="13.63" height="11.25" fill="#a5317e"/>
<rect x="394.08" y="472.65" width="13.63" height="11.25" fill="#cc3f71"/>
<rect x="406.71" y="472.65" width="13.63" height="11.25" fill="#b83779"/>
<rect x="419.34" y="472.65" width="13.63" height="11.25" fill="#a5317e"/>
<rect x="431.97" y="472.65" width="13.63" height="11.25" fill="#a5317e"/>
<rect x="444.60" y="472.65" width="13.63" height="11.25" fill="#b83779"/>
<rect x="457.23" y="472.65" width="13.63" height="11.25" fill="#ec5860"/>
<rect x="469.86" y="472.65" width="12.63" height="11.25" fill="#fb835f"/>
<rect x="500.90" y="472.65" width="13.63" height="11.25" fill="#b83779"/>
<rect x="513.53" y="472.65" width="13.63" height="11.25" fill="#b83779"/>
<rect x="526.16" y="472.65" width="13.63" height="11.25" fill="#cc3f71"/>
<rect x="538.79" y="472.65" width="13.63" height="11.25" fill="#912b81"/>
<rect x="551.42" y="472.65" width="13.63" height="11.25" fill="#cc3f71"/>
<rect x="564.05" y="472.65" width="12.63" height="11.25" fill="#de4968"/>
<rect x="192.00" y="482.90" width="13.63" height="11.25" fill="#f66c5c"/>
<rect x="204.63" y="482.90" width="13.63" height="11.25" fill="#fec488"/>
<rect x="217.26" y="482.90" width="13.63" height="11.25" fill="#fd9869"/>
<rect x="229.89" y="482.90" width="13.63" height="11.25" fill="#fec488"/>
<rect x="242.52" y="482.90" width="13.63" height="11.25" fill="#fec488"/>
<rect x="255.15" y="482.90" width="13.63" height="11.25" fill="#fec488"/>
<rect x="267.78" y="482.90" width="13.63" height="11.25" fill="#fec488"/>
<rect x="280.41" y="482.90" width="13.63" height="11.25" fill="#f66c5c"/>
<rect x="293.04" y="482.90" width="13.63" height="11.25" fill="#fd9869"/>
<rect x="305.67" y="482.90" width="13.63" height="11.25" fill="#feae77"/>
<rect x="318.30" y="482.90" width="13.63" height="11.25" fill="#feae77"/>
<rect x="330.93" y="482.90" width="13.63" height="11.25" fill="#6b1d81"/>
<rect x="343.56" y="482.90" width="13.63" height="11.25" fill="#912b81"/>
<rect x="356.19" y="482.90" width="13.63" height="11.25" fill="#de4968"/>
<rect x="368.82" y="482.90" width="13.63" height="11.25" fill="#f66c5c"/>
<rect x="381.45" y="482.90" width="13.63" height="11.25" fill="#fb835f"/>
<rect x="394.08" y="482.90" width="13.63" height="11.25" fill="#fec488"/>
<rect x="406.71" y="482.90" width="13.63" height="11.25" fill="#f66c5c"/>
<rect x="419.34" y="482.90" width="13.63" height="11.25" fill="#fb835f"/>
<rect x="431.97" y="482.90" width="13.63" height="11.25" fill="#f66c5c"/>
<rect x="444.60" y="482.90" width="13.63" height="11.25" fill="#ec5860"/>
<rect x="457.23" y="482.90" width="13.63" height="11.25" fill="#f66c5c"/>
<rect x="469.86" y="482.90" width="12.63" height="11.25" fill="#fec488"/>
<rect x="500.90" y="482.90" width="13.63" height="11.25" fill="#7f7f7f"/>
<rect x="513.53" y="482.90" width="13.63" height="11.25" fill="#7f7f7f"/>
<rect x="526.16" y="482.90" width="13.63" height="11.25" fill="#7f7f7f"/>
<rect x="538.79" y="482.90" width="13.63" height="11.25" fill="#7f7f7f"/>
<rect x="551.42" y="482.90" width="13.63" height="11.25" fill="#7f7f7f"/>
<rect x="564.05" y="482.90" width="12.63" height="11.25" fill="#7f7f7f"/>
<rect x="192.00" y="493.15" width="13.63" height="11.25" fill="#cc3f71"/>
<rect x="204.63" y="493.15" width="13.63" height="11.25" fill="#de4968"/>
<rect x="217.26" y="493.15" width="13.63" height="11.25" fill="#de4968"/>
<rect x="229.89" y="493.15" width="13.63" height="11.25" fill="#ec5860"/>
<rect x="242.52" y="493.15" width="13.63" height="11.25" fill="#cc3f71"/>
<rect x="255.15" y="493.15" width="13.63" height="11.25" fill="#de4968"/>
<rect x="267.78" y="493.15" width="13.63" height="11.25" fill="#cc3f71"/>
<rect x="280.41" y="493.15" width="13.63" height="11.25" fill="#cc3f71"/>
<rect x="293.04" y="493.15" width="13.63" height="11.25" fill="#de4968"/>
<rect x="305.67" y="493.15" width="13.63" height="11.25" fill="#de4968"/>
<rect x="318.30" y="493.15" width="13.63" height="11.25" fill="#ec5860"/>
<rect x="330.93" y="493.15" width="13.63" height="11.25" fill="#7f7f7f"/>
<rect x="343.56" y="493.15" width="13.63" height="11.25" fill="#7f7f7f"/>
<rect x="356.19" y="493.15" width="13.63" height="11.25" fill="#7f7f7f"/>
<rect x="368.82" y="493.15" width="13.63" height="11.25" fill="#7f7f7f"/>
<rect x="381.45" y="493.15" width="13.63" height="11.25" fill="#7f7f7f"/>
<rect x="394.08" y="493.15" width="13.63" height="11.25" fill="#a5317e"/>
<rect x="406.71" y="493.15" width="13.63" height="11.25" fill="#ec5860"/>
<rect x="419.34" y="493.15" width="13.63" height="11.25" fill="#a5317e"/>
<rect x="431.97" y="493.15" width="13.63" height="11.25" fill="#de4968"/>
<rect x="444.60" y="493.15" width="13.63" height="11.25" fill="#912b81"/>
<rect x="457.23" y="493.15" width="13.63" height="11.25" fill="#f66c5c"/>
<rect x="469.86" y="493.15" width="12.63" height="11.25" fill="#fb835f"/>
<rect x="500.90" y="493.15" width="13.63" height="11.25" fill="#ec5860"/>
<rect x="513.53" y="493.15" width="13.63" height="11.25" fill="#cc3f71"/>
<rect x="526.16" y="493.15" width="13.63" height="11.25" fill="#de4968"/>
<rect x="538.79" y="493.15" width="13.63" height="11.25" fill="#de4968"/>
<rect x="551.42" y="493.15" width="13.63" height="11.25" fill="#f66c5c"/>
<rect x="564.05" y="493.15" width="12.63" height="11.25" fill="#fb835f"/>
<rect x="192.00" y="503.40" width="13.63" height="11.25" fill="#fd9869"/>
<rect x="204.63" y="503.40" width="13.63" height="11.25" fill="#fb835f"/>
<rect x="217.26" y="503.40" width="13.63" height="11.25" fill="#f66c5c"/>
<rect x="229.89" y="503.40" width="13.63" height="11.25" fill="#fd9869"/>
<rect x="242.52" y="503.40" width="13.63" height="11.25" fill="#fb835f"/>
<rect x="255.15" y="503.40" width="13.63" height="11.25" fill="#feae77"/>
<rect x="267.78" y="503.40" width="13.63" height="11.25" fill="#fd9869"/>
<rect x="280.41" y="503.40" width="13.63" height="11.25" fill="#feae77"/>
<rect x="293.04" y="503.40" width="13.63" height="11.25" fill="#fec488"/>
<rect x="305.67" y="503.40" width="13.63" height="11.25" fill="#fb835f"/>
<rect x="318.30" y="503.40" width="13.63" height="11.25" fill="#fd9869"/>
<rect x="330.93" y="503.40" width="13.63" height="11.25" fill="#7f7f7f"/>
<rect x="343.56" y="503.40" width="13.63" height="11.25" fill="#7f7f7f"/>
<rect x="356.19" y="503.40" width="13.63" height="11.25" fill="#7f7f7f"/>
<rect x="368.82" y="503.40" width="13.63" height="11.25" fill="#7f7f7f"/>
<rect x="381.45" y="503.40" width="13.63" height="11.25" fill="#7f7f7f"/>
<rect x="394.08" y="503.40" width="13.63" height="11.25" fill="#7f7f7f"/>
<rect x="406.71" y="503.40" width="13.63" height="11.25" fill="#fd9869"/>
<rect x="419.34" y="503.40" width="13.63" height="11.25" fill="#fec488"/>
<rect x="431.97" y="503.40" width="13.63" height="11.25" fill="#fdda9c"/>
<rect x="444.60" y="503.40" width="13.63" height="11.25" fill="#fdda9c"/>
<rect x="457.23" y="503.40" width="13.63" height="11.25" fill="#fec488"/>
<rect x="469.86" y="503.40" width="12.63" height="11.25" fill="#fec488"/>
<rect x="500.90" y="503.40" width="13.63" height="11.25" fill="#fec488"/>
<rect x="513.53" y="503.40" width="13.63" height="11.25" fill="#fd9869"/>
<rect x="526.16" y="503.40" width="13.63" height="11.25" fill="#fd9869"/>
<rect x="538.79" y="503.40" width="13.63" height="11.25" fill="#fd9869"/>
<rect x="551.42" y="503.40" width="13.63" height="11.25" fill="#fec488"/>
<rect x="564.05" y="503.40" width="12.63" height="11.25" fill="#fec488"/>
<rect x="192.00" y="513.65" width="13.63" height="11.25" fill="#f66c5c"/>
<rect x="204.63" y="513.65" width="13.63" height="11.25" fill="#fb835f"/>
<rect x="217.26" y="513.65" width="13.63" height="11.25" fill="#fd9869"/>
<rect x="229.89" y="513.65" width="13.63" height="11.25" fill="#f66c5c"/>
<rect x="242.52" y="513.65" width="13.63" height="11.25" fill="#fb835f"/>
<rect x="255.15" y="513.65" width="13.63" height="11.25" fill="#f66c5c"/>
<rect x="267.78" y="513.65" width="13.63" height="11.25" fill="#f66c5c"/>
<rect x="280.41" y="513.65" width="13.63" height="11.25" fill="#ec5860"/>
<rect x="293.04" y="513.65" width="13.63" height="11.25" fill="#fb835f"/>
<rect x="305.67" y="513.65" width="13.63" height="11.25" fill="#fd9869"/>
<rect x="318.30" y="513.65" width="13.63" height="11.25" fill="#fd9869"/>
<rect x="330.93" y="513.65" width="13.63" height="11.25" fill="#7f7f7f"/>
<rect x="343.56" y="513.65" width="13.63" height="11.25" fill="#7f7f7f"/>
<rect x="356.19" y="513.65" width="13.63" height="11.25" fill="#7f7f7f"/>
<rect x="368.82" y="513.65" width="13.63" height="11.25" fill="#7f7f7f"/>
<rect x="381.45" y="513.65" width="13.63" height="11.25" fill="#7f7f7f"/>
<rect x="394.08" y="513.65" width="13.63" height="11.25" fill="#7f7f7f"/>
<rect x="406.71" y="513.65" width="13.63" height="11.25" fill="#7f7f7f"/>
<rect x="419.34" y="513.65" width="13.63" height="11.25" fill="#7f7f7f"/>
<rect x="431.97" y="513.65" width="13.63" height="11.25" fill="#7f7f7f"/>
<rect x="444.60" y="513.65" width="13.63" height="11.25" fill="#7f7f7f"/>
<rect x="457.23" y="513.65" width="13.63" height="11.25" fill="#fec488"/>
<rect x="469.86" y="513.65" width="12.63" height="11.25" fill="#fd9869"/>
<rect x="500.90" y="513.65" width="13.63" height="11.25" fill="#fd9869"/>
<rect x="513.53" y="513.65" width="13.63" height="11.25" fill="#fd9869"/>
<rect x="526.16" y="513.65" width="13.63" height="11.25" fill="#fd9869"/>
<rect x="538.79" y="513.65" width="13.63" height="11.25" fill="#fd9869"/>
<rect x="551.42" y="513.65" width="13.63" height="11.25" fill="#feae77"/>
<rect x="564.05" y="513.65" width="12.63" height="11.25" fill="#feae77"/>
<rect x="192.00" y="523.90" width="13.63" height="11.25" fill="#f66c5c"/>
<rect x="204.63" y="523.90" width="13.63" height="11.25" fill="#f66c5c"/>
<rect x="217.26" y="523.90" width="13.63" height="11.25" fill="#f66c5c"/>
<rect x="229.89" y="523.90" width="13.63" height="11.25" fill="#ec5860"/>
<rect x="242.52" y="523.90" width="13.63" height="11.25" fill="#ec5860"/>
<rect x="255.15" y="523.90" width="13.63" height="11.25" fill="#de4968"/>
<rect x="267.78" y="523.90" width="13.63" height="11.25" fill="#ec5860"/>
<rect x="280.41" y="523.90" width="13.63" height="11.25" fill="#fd9869"/>
<rect x="293.04" y="523.90" width="13.63" height="11.25" fill="#fb835f"/>
<rect x="305.67" y="523.90" width="13.63" height="11.25" fill="#fb835f"/>
<rect x="318.30" y="523.90" width="13.63" height="11.25" fill="#f66c5c"/>
<rect x="330.93" y="523.90" width="13.63" height="11.25" fill="#7f7f7f"/>
<rect x="343.56" y="523.90" width="13.63" height="11.25" fill="#7f7f7f"/>
<rect x="356.19" y="523.90" width="13.63" height="11.25" fill="#7f7f7f"/>
<rect x="368.82" y="523.90" width="13.63" height="11.25" fill="#7f7f7f"/>
<rect x="381.45" y="523.90" width="13.63" height="11.25" fill="#7f7f7f"/>
<rect x="394.08" y="523.90" width="13.63" height="11.25" fill="#7f7f7f"/>
<rect x="406.71" y="523.90" width="13.63" height="11.25" fill="#7f7f7f"/>
<rect x="419.34" y="523.90" width="13.63" height="11.25" fill="#7f7f7f"/>
<rect x="431.97" y="523.90" width="13.63" height="11.25" fill="#7f7f7f"/>
<rect x="444.60" y="523.90" width="13.63" height="11.25" fill="#7f7f7f"/>
<rect x="457.23" y="523.90" width="13.63" height="11.25" fill="#f66c5c"/>
<rect x="469.86" y="523.90" width="12.63" height="11.25" fill="#f66c5c"/>
<rect x="500.90" y="523.90" width="13.63" height="11.25" fill="#ec5860"/>
<rect x="513.53" y="523.90" width="13.63" height="11.25" fill="#ec5860"/>
<rect x="526.16" y="523.90" width="13.63" height="11.25" fill="#ec5860"/>
<rect x="538.79" y="523.90" width="13.63" height="11.25" fill="#ec5860"/>
<rect x="551.42" y="523.90" width="13.63" height="11.25" fill="#7f7f7f"/>
<rect x="564.05" y="523.90" width="12.63" height="11.25" fill="#7f7f7f"/>
<rect x="192.00" y="534.15" width="13.63" height="11.25" fill="#a5317e"/>
<rect x="204.63" y="534.15" width="13.63" height="11.25" fill="#a5317e"/>
<rect x="217.26" y="534.15" width="13.63" height="11.25" fill="#b83779"/>
<rect x="229.89" y="534.15" width="13.63" height="11.25" fill="#b83779"/>
<rect x="242.52" y="534.15" width="13.63" height="11.25" fill="#cc3f71"/>
<rect x="255.15" y="534.15" width="13.63" height="11.25" fill="#cc3f71"/>
<rect x="267.78" y="534.15" width="13.63" height="11.25" fill="#b83779"/>
<rect x="280.41" y="534.15" width="13.63" height="11.25" fill="#6b1d81"/>
<rect x="293.04" y="534.15" width="13.63" height="11.25" fill="#912b81"/>
<rect x="305.67" y="534.15" width="13.63" height="11.25" fill="#7e2482"/>
<rect x="318.30" y="534.15" width="13.63" height="11.25" fill="#a5317e"/>
<rect x="330.93" y="534.15" width="13.63" height="11.25" fill="#7f7f7f"/>
<rect x="343.56" y="534.15" width="13.63" height="11.25" fill="#7f7f7f"/>
<rect x="356.19" y="534.15" width="13.63" height="11.25" fill="#7f7f7f"/>
<rect x="368.82" y="534.15" width="13.63" height="11.25" fill="#7f7f7f"/>
<rect x="381.45" y="534.15" width="13.63" height="11.25" fill="#7f7f7f"/>
<rect x="394.08" y="534.15" width="13.63" height="11.25" fill="#7f7f7f"/>
<rect x="406.71" y="534.15" width="13.63" height="11.25" fill="#7f7f7f"/>
<rect x="419.34" y="534.15" width="13.63" height="11.25" fill="#7f7f7f"/>
<rect x="431.97" y="534.15" width="13.63" height="11.25" fill="#7f7f7f"/>
<rect x="444.60" y="534.15" width="13.63" height="11.25" fill="#7f7f7f"/>
<rect x="457.23" y="534.15" width="13.63" height="11.25" fill="#a5317e"/>
<rect x="469.86" y="534.15" width="12.63" height="11.25" fill="#cc3f71"/>
<rect x="500.90" y="534.15" width="13.63" height="11.25" fill="#7f7f7f"/>
<rect x="513.53" y="534.15" width="13.63" height="11.25" fill="#7f7f7f"/>
<rect x="526.16" y="534.15" width="13.63" height="11.25" fill="#7f7f7f"/>
<rect x="538.79" y="534.15" width="13.63" height="11.25" fill="#7f7f7f"/>
<rect x="551.42" y="534.15" width="13.63" height="11.25" fill="#7f7f7f"/>
<rect x="564.05" y="534.15" width="12.63" height="11.25" fill="#7f7f7f"/>
<rect x="192.00" y="544.40" width="13.63" height="11.25" fill="#de4968"/>
<rect x="204.63" y="544.40" width="13.63" height="11.25" fill="#fb835f"/>
<rect x="217.26" y="544.40" width="13.63" height="11.25" fill="#fb835f"/>
<rect x="229.89" y="544.40" width="13.63" height="11.25" fill="#de4968"/>
<rect x="242.52" y="544.40" width="13.63" height="11.25" fill="#f66c5c"/>
<rect x="255.15" y="544.40" width="13.63" height="11.25" fill="#ec5860"/>
<rect x="267.78" y="544.40" width="13.63" height="11.25" fill="#ec5860"/>
<rect x="280.41" y="544.40" width="13.63" height="11.25" fill="#de4968"/>
<rect x="293.04" y="544.40" width="13.63" height="11.25" fill="#f66c5c"/>
<rect x="305.67" y="544.40" width="13.63" height="11.25" fill="#f66c5c"/>
<rect x="318.30" y="544.40" width="13.63" height="11.25" fill="#fb835f"/>
<rect x="330.93" y="544.40" width="13.63" height="11.25" fill="#7f7f7f"/>
<rect x="343.56" y="544.40" width="13.63" height="11.25" fill="#7f7f7f"/>
<rect x="356.19" y="544.40" width="13.63" height="11.25" fill="#7f7f7f"/>
<rect x="368.82" y="544.40" width="13.63" height="11.25" fill="#7f7f7f"/>
<rect x="381.45" y="544.40" width="13.63" height="11.25" fill="#7f7f7f"/>
<rect x="394.08" y="544.40" width="13.63" height="11.25" fill="#7f7f7f"/>
<rect x="406.71" y="544.40" width="13.63" height="11.25" fill="#7f7f7f"/>
<rect x="419.34" y="544.40" width="13.63" height="11.25" fill="#7f7f7f"/>
<rect x="431.97" y="544.40" width="13.63" height="11.25" fill="#7f7f7f"/>
<rect x="444.60" y="544.40" width="13.63" height="11.25" fill="#7f7f7f"/>
<rect x="457.23" y="544.40" width="13.63" height="11.25" fill="#cc3f71"/>
<rect x="469.86" y="544.40" width="12.63" height="11.25" fill="#7e2482"/>
<rect x="500.90" y="544.40" width="13.63" height="11.25" fill="#f66c5c"/>
<rect x="513.53" y="544.40" width="13.63" height="11.25" fill="#fb835f"/>
<rect x="526.16" y="544.40" width="13.63" height="11.25" fill="#f66c5c"/>
<rect x="538.79" y="544.40" width="13.63" height="11.25" fill="#fd9869"/>
<rect x="551.42" y="544.40" width="13.63" height="11.25" fill="#311165"/>
<rect x="564.05" y="544.40" width="12.63" height="11.25" fill="#6b1d81"/>
<rect x="192.00" y="554.65" width="13.63" height="11.25" fill="#f66c5c"/>
<rect x="204.63" y="554.65" width="13.63" height="11.25" fill="#fd9869"/>
<rect x="217.26" y="554.65" width="13.63" height="11.25" fill="#fd9869"/>
<rect x="229.89" y="554.65" width="13.63" height="11.25" fill="#f66c5c"/>
<rect x="242.52" y="554.65" width="13.63" height="11.25" fill="#fd9869"/>
<rect x="255.15" y="554.65" width="13.63" height="11.25" fill="#fb835f"/>
<rect x="267.78" y="554.65" width="13.63" height="11.25" fill="#fb835f"/>
<rect x="280.41" y="554.65" width="13.63" height="11.25" fill="#f66c5c"/>
<rect x="293.04" y="554.65" width="13.63" height="11.25" fill="#fd9869"/>
<rect x="305.67" y="554.65" width="13.63" height="11.25" fill="#fd9869"/>
<rect x="318.30" y="554.65" width="13.63" height="11.25" fill="#fb835f"/>
<rect x="330.93" y="554.65" width="13.63" height="11.25" fill="#7f7f7f"/>
<rect x="343.56" y="554.65" width="13.63" height="11.25" fill="#7f7f7f"/>
<rect x="356.19" y="554.65" width="13.63" height="11.25" fill="#7f7f7f"/>
<rect x="368.82" y="554.65" width="13.63" height="11.25" fill="#7f7f7f"/>
<rect x="381.45" y="554.65" width="13.63" height="11.25" fill="#7f7f7f"/>
<rect x="394.08" y="554.65" width="13.63" height="11.25" fill="#7f7f7f"/>
<rect x="406.71" y="554.65" width="13.63" height="11.25" fill="#7f7f7f"/>
<rect x="419.34" y="554.65" width="13.63" height="11.25" fill="#7f7f7f"/>
<rect x="431.97" y="554.65" width="13.63" height="11.25" fill="#7f7f7f"/>
<rect x="444.60" y="554.65" width="13.63" height="11.25" fill="#7f7f7f"/>
<rect x="457.23" y="554.65" width="13.63" height="11.25" fill="#f66c5c"/>
<rect x="469.86" y="554.65" width="12.63" height="11.25" fill="#f66c5c"/>
<rect x="500.90" y="554.65" width="13.63" height="11.25" fill="#f66c5c"/>
<rect x="513.53" y="554.65" width="13.63" height="11.25" fill="#ec5860"/>
<rect x="526.16" y="554.65" width="13.63" height="11.25" fill="#ec5860"/>
<rect x="538.79" y="554.65" width="13.63" height="11.25" fill="#f66c5c"/>
<rect x="551.42" y="554.65" width="13.63" height="11.25" fill="#040414"/>
<rect x="564.05" y="554.65" width="12.63" height="11.25" fill="#7f7f7f"/>
<rect x="192.00" y="564.90" width="13.63" height="11.25" fill="#b83779"/>
<rect x="204.63" y="564.90" width="13.63" height="11.25" fill="#cc3f71"/>
<rect x="217.26" y="564.90" width="13.63" height="11.25" fill="#cc3f71"/>
<rect x="229.89" y="564.90" width="13.63" height="11.25" fill="#a5317e"/>
<rect x="242.52" y="564.90" width="13.63" height="11.25" fill="#a5317e"/>
<rect x="255.15" y="564.90" width="13.63" height="11.25" fill="#a5317e"/>
<rect x="267.78" y="564.90" width="13.63" height="11.25" fill="#a5317e"/>
<rect x="280.41" y="564.90" width="13.63" height="11.25" fill="#cc3f71"/>
<rect x="293.04" y="564.90" width="13.63" height="11.25" fill="#cc3f71"/>
<rect x="305.67" y="564.90" width="13.63" height="11.25" fill="#cc3f71"/>
<rect x="318.30" y="564.90" width="13.63" height="11.25" fill="#912b81"/>
<rect x="330.93" y="564.90" width="13.63" height="11.25" fill="#7f7f7f"/>
<rect x="343.56" y="564.90" width="13.63" height="11.25" fill="#7f7f7f"/>
<rect x="356.19" y="564.90" width="13.63" height="11.25" fill="#7f7f7f"/>
<rect x="368.82" y="564.90" width="13.63" height="11.25" fill="#7f7f7f"/>
<rect x="381.45" y="564.90" width="13.63" height="11.25" fill="#7f7f7f"/>
<rect x="394.08" y="564.90" width="13.63" height="11.25" fill="#7f7f7f"/>
<rect x="406.71" y="564.90" width="13.63" height="11.25" fill="#7f7f7f"/>
<rect x="419.34" y="564.90" width="13.63" height="11.25" fill="#59157e"/>
<rect x="431.97" y="564.90" width="13.63" height="11.25" fill="#7f7f7f"/>
<rect x="444.60" y="564.90" width="13.63" height="11.25" fill="#311165"/>
<rect x="457.23" y="564.90" width="13.63" height="11.25" fill="#100b2d"/>
<rect x="469.86" y="564.90" width="12.63" height="11.25" fill="#7f7f7f"/>
<rect x="500.90" y="564.90" width="13.63" height="11.25" fill="#ec5860"/>
<rect x="513.53" y="564.90" width="13.63" height="11.25" fill="#ec5860"/>
<rect x="526.16" y="564.90" width="13.63" height="11.25" fill="#ec5860"/>
<rect x="538.79" y="564.90" width="13.63" height="11.25" fill="#ec5860"/>
<rect x="551.42" y="564.90" width="13.63" height="11.25" fill="#7f7f7f"/>
<rect x="564.05" y="564.90" width="12.63" height="11.25" fill="#7f7f7f"/>
<rect x="192.00" y="575.15" width="13.63" height="11.25" fill="#f66c5c"/>
<rect x="204.63" y="575.15" width="13.63" height="11.25" fill="#cc3f71"/>
<rect x="217.26" y="575.15" width="13.63" height="11.25" fill="#ec5860"/>
<rect x="229.89" y="575.15" width="13.63" height="11.25" fill="#f66c5c"/>
<rect x="242.52" y="575.15" width="13.63" height="11.25" fill="#de4968"/>
<rect x="255.15" y="575.15" width="13.63" height="11.25" fill="#de4968"/>
<rect x="267.78" y="575.15" width="13.63" height="11.25" fill="#cc3f71"/>
<rect x="280.41" y="575.15" width="13.63" height="11.25" fill="#f66c5c"/>
<rect x="293.04" y="575.15" width="13.63" height="11.25" fill="#cc3f71"/>
<rect x="305.67" y="575.15" width="13.63" height="11.25" fill="#b83779"/>
<rect x="318.30" y="575.15" width="13.63" height="11.25" fill="#de4968"/>
<rect x="330.93" y="575.15" width="13.63" height="11.25" fill="#7f7f7f"/>
<rect x="343.56" y="575.15" width="13.63" height="11.25" fill="#7f7f7f"/>
<rect x="356.19" y="575.15" width="13.63" height="11.25" fill="#7f7f7f"/>
<rect x="368.82" y="575.15" width="13.63" height="11.25" fill="#7f7f7f"/>
<rect x="381.45" y="575.15" width="13.63" height="11.25" fill="#7f7f7f"/>
<rect x="394.08" y="575.15" width="13.63" height="11.25" fill="#7f7f7f"/>
<rect x="406.71" y="575.15" width="13.63" height="11.25" fill="#7f7f7f"/>
<rect x="419.34" y="575.15" width="13.63" height="11.25" fill="#311165"/>
<rect x="431.97" y="575.15" width="13.63" height="11.25" fill="#7f7f7f"/>
<rect x="444.60" y="575.15" width="13.63" height="11.25" fill="#7f7f7f"/>
<rect x="457.23" y="575.15" width="13.63" height="11.25" fill="#7f7f7f"/>
<rect x="469.86" y="575.15" width="12.63" height="11.25" fill="#7f7f7f"/>
<rect x="500.90" y="575.15" width="13.63" height="11.25" fill="#fb835f"/>
<rect x="513.53" y="575.15" width="13.63" height="11.25" fill="#fb835f"/>
<rect x="526.16" y="575.15" width="13.63" height="11.25" fill="#fb835f"/>
<rect x="538.79" y="575.15" width="13.63" height="11.25" fill="#fd9869"/>
<rect x="551.42" y="575.15" width="13.63" height="11.25" fill="#7f7f7f"/>
<rect x="564.05" y="575.15" width="12.63" height="11.25" fill="#7f7f7f"/>
<rect x="192.00" y="585.40" width="13.63" height="11.25" fill="#cc3f71"/>
<rect x="204.63" y="585.40" width="13.63" height="11.25" fill="#cc3f71"/>
<rect x="217.26" y="585.40" width="13.63" height="11.25" fill="#cc3f71"/>
<rect x="229.89" y="585.40" width="13.63" height="11.25" fill="#b83779"/>
<rect x="242.52" y="585.40" width="13.63" height="11.25" fill="#cc3f71"/>
<rect x="255.15" y="585.40" width="13.63" height="11.25" fill="#a5317e"/>
<rect x="267.78" y="585.40" width="13.63" height="11.25" fill="#a5317e"/>
<rect x="280.41" y="585.40" width="13.63" height="11.25" fill="#cc3f71"/>
<rect x="293.04" y="585.40" width="13.63" height="11.25" fill="#cc3f71"/>
<rect x="305.67" y="585.40" width="13.63" height="11.25" fill="#b83779"/>
<rect x="318.30" y="585.40" width="13.63" height="11.25" fill="#6b1d81"/>
<rect x="330.93" y="585.40" width="13.63" height="11.25" fill="#7f7f7f"/>
<rect x="343.56" y="585.40" width="13.63" height="11.25" fill="#7f7f7f"/>
<rect x="356.19" y="585.40" width="13.63" height="11.25" fill="#7f7f7f"/>
<rect x="368.82" y="585.40" width="13.63" height="11.25" fill="#7f7f7f"/>
<rect x="381.45" y="585.40" width="13.63" height="11.25" fill="#7f7f7f"/>
<rect x="394.08" y="585.40" width="13.63" height="11.25" fill="#7f7f7f"/>
<rect x="406.71" y="585.40" width="13.63" height="11.25" fill="#7f7f7f"/>
<rect x="419.34" y="585.40" width="13.63" height="11.25" fill="#7f7f7f"/>
<rect x="431.97" y="585.40" width="13.63" height="11.25" fill="#7f7f7f"/>
<rect x="444.60" y="585.40" width="13.63" height="11.25" fill="#7f7f7f"/>
<rect x="457.23" y="585.40" width="13.63" height="11.25" fill="#100b2d"/>
<rect x="469.86" y="585.40" width="12.63" height="11.25" fill="#7f7f7f"/>
<rect x="500.90" y="585.40" width="13.63" height="11.25" fill="#ec5860"/>
<rect x="513.53" y="585.40" width="13.63" height="11.25" fill="#ec5860"/>
<rect x="526.16" y="585.40" width="13.63" height="11.25" fill="#f66c5c"/>
<rect x="538.79" y="585.40" width="13.63" height="11.25" fill="#f66c5c"/>
<rect x="551.42" y="585.40" width="13.63" height="11.25" fill="#7f7f7f"/>
<rect x="564.05" y="585.40" width="12.63" height="11.25" fill="#7f7f7f"/>
<rect x="192.00" y="595.65" width="13.63" height="11.25" fill="#cc3f71"/>
<rect x="204.63" y="595.65" width="13.63" height="11.25" fill="#fb835f"/>
<rect x="217.26" y="595.65" width="13.63" height="11.25" fill="#b83779"/>
<rect x="229.89" y="595.65" width="13.63" height="11.25" fill="#de4968"/>
<rect x="242.52" y="595.65" width="13.63" height="11.25" fill="#cc3f71"/>
<rect x="255.15" y="595.65" width="13.63" height="11.25" fill="#de4968"/>
<rect x="267.78" y="595.65" width="13.63" height="11.25" fill="#cc3f71"/>
<rect x="280.41" y="595.65" width="13.63" height="11.25" fill="#cc3f71"/>
<rect x="293.04" y="595.65" width="13.63" height="11.25" fill="#f66c5c"/>
<rect x="305.67" y="595.65" width="13.63" height="11.25" fill="#f66c5c"/>
<rect x="318.30" y="595.65" width="13.63" height="11.25" fill="#a5317e"/>
<rect x="330.93" y="595.65" width="13.63" height="11.25" fill="#7f7f7f"/>
<rect x="343.56" y="595.65" width="13.63" height="11.25" fill="#7f7f7f"/>
<rect x="356.19" y="595.65" width="13.63" height="11.25" fill="#7f7f7f"/>
<rect x="368.82" y="595.65" width="13.63" height="11.25" fill="#7f7f7f"/>
<rect x="381.45" y="595.65" width="13.63" height="11.25" fill="#7f7f7f"/>
<rect x="394.08" y="595.65" width="13.63" height="11.25" fill="#7f7f7f"/>
<rect x="406.71" y="595.65" width="13.63" height="11.25" fill="#7f7f7f"/>
<rect x="419.34" y="595.65" width="13.63" height="11.25" fill="#7f7f7f"/>
<rect x="431.97" y="595.65" width="13.63" height="11.25" fill="#7f7f7f"/>
<rect x="444.60" y="595.65" width="13.63" height="11.25" fill="#7f7f7f"/>
<rect x="457.23" y="595.65" width="13.63" height="11.25" fill="#7f7f7f"/>
<rect x="469.86" y="595.65" width="12.63" height="11.25" fill="#7f7f7f"/>
<rect x="500.90" y="595.65" width="13.63" height="11.25" fill="#ec5860"/>
<rect x="513.53" y="595.65" width="13.63" height="11.25" fill="#ec5860"/>
<rect x="526.16" y="595.65" width="13.63" height="11.25" fill="#de4968"/>
<rect x="538.79" y="595.65" width="13.63" height="11.25" fill="#f66c5c"/>
<rect x="551.42" y="595.65" width="13.63" height="11.25" fill="#7f7f7f"/>
<rect x="564.05" y="595.65" width="12.63" height="11.25" fill="#7f7f7f"/>
<rect x="192.00" y="605.90" width="13.63" height="11.25" fill="#cc3f71"/>
<rect x="204.63" y="605.90" width="13.63" height="11.25" fill="#ec5860"/>
<rect x="217.26" y="605.90" width="13.63" height="11.25" fill="#b83779"/>
<rect x="229.89" y="605.90" width="13.63" height="11.25" fill="#ec5860"/>
<rect x="242.52" y="605.90" width="13.63" height="11.25" fill="#de4968"/>
<rect x="255.15" y="605.90" width="13.63" height="11.25" fill="#ec5860"/>
<rect x="267.78" y="605.90" width="13.63" height="11.25" fill="#cc3f71"/>
<rect x="280.41" y="605.90" width="13.63" height="11.25" fill="#cc3f71"/>
<rect x="293.04" y="605.90" width="13.63" height="11.25" fill="#ec5860"/>
<rect x="305.67" y="605.90" width="13.63" height="11.25" fill="#a5317e"/>
<rect x="318.30" y="605.90" width="13.63" height="11.25" fill="#de4968"/>
<rect x="330.93" y="605.90" width="13.63" height="11.25" fill="#7f7f7f"/>
<rect x="343.56" y="605.90" width="13.63" height="11.25" fill="#7f7f7f"/>
<rect x="356.19" y="605.90" width="13.63" height="11.25" fill="#7f7f7f"/>
<rect x="368.82" y="605.90" width="13.63" height="11.25" fill="#7f7f7f"/>
<rect x="381.45" y="605.90" width="13.63" height="11.25" fill="#7f7f7f"/>
<rect x="394.08" y="605.90" width="13.63" height="11.25" fill="#7f7f7f"/>
<rect x="406.71" y="605.90" width="13.63" height="11.25" fill="#7f7f7f"/>
<rect x="419.34" y="605.90" width="13.63" height="11.25" fill="#7f7f7f"/>
<rect x="431.97" y="605.90" width="13.63" height="11.25" fill="#7f7f7f"/>
<rect x="444.60" y="605.90" width="13.63" height="11.25" fill="#7f7f7f"/>
<rect x="457.23" y="605.90" width="13.63" height="11.25" fill="#7f7f7f"/>
<rect x="469.86" y="605.90" width="12.63" height="11.25" fill="#7f7f7f"/>
<rect x="500.90" y="605.90" width="13.63" height="11.25" fill="#f66c5c"/>
<rect x="513.53" y="605.90" width="13.63" height="11.25" fill="#f66c5c"/>
<rect x="526.16" y="605.90" width="13.63" height="11.25" fill="#f66c5c"/>
<rect x="538.79" y="605.90" width="13.63" height="11.25" fill="#f66c5c"/>
<rect x="551.42" y="605.90" width="13.63" height="11.25" fill="#f66c5c"/>
<rect x="564.05" y="605.90" width="12.63" height="11.25" fill="#f66c5c"/>
<rect x="192.00" y="616.15" width="13.63" height="11.25" fill="#de4968"/>
<rect x="204.63" y="616.15" width="13.63" height="11.25" fill="#de4968"/>
<rect x="217.26" y="616.15" width="13.63" height="11.25" fill="#b83779"/>
<rect x="229.89" y="616.15" width="13.63" height="11.25" fill="#ec5860"/>
<rect x="242.52" y="616.15" width="13.63" height="11.25" fill="#cc3f71"/>
<rect x="255.15" y="616.15" width="13.63" height="11.25" fill="#a5317e"/>
<rect x="267.78" y="616.15" width="13.63" height="11.25" fill="#b83779"/>
<rect x="280.41" y="616.15" width="13.63" height="11.25" fill="#cc3f71"/>
<rect x="293.04" y="616.15" width="13.63" height="11.25" fill="#cc3f71"/>
<rect x="305.67" y="616.15" width="13.63" height="11.25" fill="#de4968"/>
<rect x="318.30" y="616.15" width="13.63" height="11.25" fill="#cc3f71"/>
<rect x="330.93" y="616.15" width="13.63" height="11.25" fill="#7f7f7f"/>
<rect x="343.56" y="616.15" width="13.63" height="11.25" fill="#7f7f7f"/>
<rect x="356.19" y="616.15" width="13.63" height="11.25" fill="#7f7f7f"/>
<rect x="368.82" y="616.15" width="13.63" height="11.25" fill="#6b1d81"/>
<rect x="381.45" y="616.15" width="13.63" height="11.25" fill="#7f7f7f"/>
<rect x="394.08" y="616.15" width="13.63" height="11.25" fill="#7f7f7f"/>
<rect x="406.71" y="616.15" width="13.63" height="11.25" fill="#7f7f7f"/>
<rect x="419.34" y="616.15" width="13.63" height="11.25" fill="#7f7f7f"/>
<rect x="431.97" y="616.15" width="13.63" height="11.25" fill="#7f7f7f"/>
<rect x="444.60" y="616.15" width="13.63" height="11.25" fill="#7f7f7f"/>
<rect x="457.23" y="616.15" width="13.63" height="11.25" fill="#311165"/>
<rect x="469.86" y="616.15" width="12.63" height="11.25" fill="#7f7f7f"/>
<rect x="500.90" y="616.15" width="13.63" height="11.25" fill="#cc3f71"/>
<rect x="513.53" y="616.15" width="13.63" height="11.25" fill="#cc3f71"/>
<rect x="526.16" y="616.15" width="13.63" height="11.25" fill="#ec5860"/>
<rect x="538.79" y="616.15" width="13.63" height="11.25" fill="#a5317e"/>
<rect x="551.42" y="616.15" width="13.63" height="11.25" fill="#a5317e"/>
<rect x="564.05" y="616.15" width="12.63" height="11.25" fill="#cc3f71"/>
<rect x="192.00" y="626.40" width="13.63" height="11.25" fill="#fb835f"/>
<rect x="204.63" y="626.40" width="13.63" height="11.25" fill="#fb835f"/>
<rect x="217.26" y="626.40" width="13.63" height="11.25" fill="#f66c5c"/>
<rect x="229.89" y="626.40" width="13.63" height="11.25" fill="#fd9869"/>
<rect x="242.52" y="626.40" width="13.63" height="11.25" fill="#f66c5c"/>
<rect x="255.15" y="626.40" width="13.63" height="11.25" fill="#fb835f"/>
<rect x="267.78" y="626.40" width="13.63" height="11.25" fill="#fb835f"/>
<rect x="280.41" y="626.40" width="13.63" height="11.25" fill="#fd9869"/>
<rect x="293.04" y="626.40" width="13.63" height="11.25" fill="#fd9869"/>
<rect x="305.67" y="626.40" width="13.63" height="11.25" fill="#fb835f"/>
<rect x="318.30" y="626.40" width="13.63" height="11.25" fill="#fb835f"/>
<rect x="330.93" y="626.40" width="13.63" height="11.25" fill="#7f7f7f"/>
<rect x="343.56" y="626.40" width="13.63" height="11.25" fill="#7f7f7f"/>
<rect x="356.19" y="626.40" width="13.63" height="11.25" fill="#7f7f7f"/>
<rect x="368.82" y="626.40" width="13.63" height="11.25" fill="#7f7f7f"/>
<rect x="381.45" y="626.40" width="13.63" height="11.25" fill="#7f7f7f"/>
<rect x="394.08" y="626.40" width="13.63" height="11.25" fill="#7f7f7f"/>
<rect x="406.71" y="626.40" width="13.63" height="11.25" fill="#7f7f7f"/>
<rect x="419.34" y="626.40" width="13.63" height="11.25" fill="#7f7f7f"/>
<rect x="431.97" y="626.40" width="13.63" height="11.25" fill="#7f7f7f"/>
<rect x="444.60" y="626.40" width="13.63" height="11.25" fill="#7f7f7f"/>
<rect x="457.23" y="626.40" width="13.63" height="11.25" fill="#7f7f7f"/>
<rect x="469.86" y="626.40" width="12.63" height="11.25" fill="#7f7f7f"/>
<rect x="500.90" y="626.40" width="13.63" height="11.25" fill="#fd9869"/>
<rect x="513.53" y="626.40" width="13.63" height="11.25" fill="#fd9869"/>
<rect x="526.16" y="626.40" width="13.63" height="11.25" fill="#fd9869"/>
<rect x="538.79" y="626.40" width="13.63" height="11.25" fill="#fb835f"/>
<rect x="551.42" y="626.40" width="13.63" height="11.25" fill="#fd9869"/>
<rect x="564.05" y="626.40" width="12.63" height="11.25" fill="#fd9869"/>
<rect x="192.00" y="636.65" width="13.63" height="11.25" fill="#de4968"/>
<rect x="204.63" y="636.65" width="13.63" height="11.25" fill="#7e2482"/>
<rect x="217.26" y="636.65" width="13.63" height="11.25" fill="#cc3f71"/>
<rect x="229.89" y="636.65" width="13.63" height="11.25" fill="#cc3f71"/>
<rect x="242.52" y="636.65" width="13.63" height="11.25" fill="#cc3f71"/>
<rect x="255.15" y="636.65" width="13.63" height="11.25" fill="#b83779"/>
<rect x="267.78" y="636.65" width="13.63" height="11.25" fill="#912b81"/>
<rect x="280.41" y="636.65" width="13.63" height="11.25" fill="#cc3f71"/>
<rect x="293.04" y="636.65" width="13.63" height="11.25" fill="#b83779"/>
<rect x="305.67" y="636.65" width="13.63" height="11.25" fill="#a5317e"/>
<rect x="318.30" y="636.65" width="13.63" height="11.25" fill="#b83779"/>
<rect x="330.93" y="636.65" width="13.63" height="11.25" fill="#7f7f7f"/>
<rect x="343.56" y="636.65" width="13.63" height="11.25" fill="#451077"/>
<rect x="356.19" y="636.65" width="13.63" height="11.25" fill="#7f7f7f"/>
<rect x="368.82" y="636.65" width="13.63" height="11.25" fill="#7f7f7f"/>
<rect x="381.45" y="636.65" width="13.63" height="11.25" fill="#7f7f7f"/>
<rect x="394.08" y="636.65" width="13.63" height="11.25" fill="#7f7f7f"/>
<rect x="406.71" y="636.65" width="13.63" height="11.25" fill="#7f7f7f"/>
<rect x="419.34" y="636.65" width="13.63" height="11.25" fill="#7f7f7f"/>
<rect x="431.97" y="636.65" width="13.63" height="11.25" fill="#7f7f7f"/>
<rect x="444.60" y="636.65" width="13.63" height="11.25" fill="#7f7f7f"/>
<rect x="457.23" y="636.65" width="13.63" height="11.25" fill="#1e1149"/>
<rect x="469.86" y="636.65" width="12.63" height="11.25" fill="#311165"/>
<rect x="500.90" y="636.65" width="13.63" height="11.25" fill="#7f7f7f"/>
<rect x="513.53" y="636.65" width="13.63" height="11.25" fill="#7f7f7f"/>
<rect x="526.16" y="636.65" width="13.63" height="11.25" fill="#7f7f7f"/>
<rect x="538.79" y="636.65" width="13.63" height="11.25" fill="#7f7f7f"/>
<rect x="551.42" y="636.65" width="13.63" height="11.25" fill="#7f7f7f"/>
<rect x="564.05" y="636.65" width="12.63" height="11.25" fill="#7f7f7f"/>
<rect x="192.00" y="646.90" width="13.63" height="11.25" fill="#f66c5c"/>
<rect x="204.63" y="646.90" width="13.63" height="11.25" fill="#fb835f"/>
<rect x="217.26" y="646.90" width="13.63" height="11.25" fill="#ec5860"/>
<rect x="229.89" y="646.90" width="13.63" height="11.25" fill="#f66c5c"/>
<rect x="242.52" y="646.90" width="13.63" height="11.25" fill="#ec5860"/>
<rect x="255.15" y="646.90" width="13.63" height="11.25" fill="#ec5860"/>
<rect x="267.78" y="646.90" width="13.63" height="11.25" fill="#de4968"/>
<rect x="280.41" y="646.90" width="13.63" height="11.25" fill="#f66c5c"/>
<rect x="293.04" y="646.90" width="13.63" height="11.25" fill="#fb835f"/>
<rect x="305.67" y="646.90" width="13.63" height="11.25" fill="#de4968"/>
<rect x="318.30" y="646.90" width="13.63" height="11.25" fill="#f66c5c"/>
<rect x="330.93" y="646.90" width="13.63" height="11.25" fill="#7f7f7f"/>
<rect x="343.56" y="646.90" width="13.63" height="11.25" fill="#7f7f7f"/>
<rect x="356.19" y="646.90" width="13.63" height="11.25" fill="#7f7f7f"/>
<rect x="368.82" y="646.90" width="13.63" height="11.25" fill="#7f7f7f"/>
<rect x="381.45" y="646.90" width="13.63" height="11.25" fill="#7f7f7f"/>
<rect x="394.08" y="646.90" width="13.63" height="11.25" fill="#7f7f7f"/>
<rect x="406.71" y="646.90" width="13.63" height="11.25" fill="#7f7f7f"/>
<rect x="419.34" y="646.90" width="13.63" height="11.25" fill="#7f7f7f"/>
<rect x="431.97" y="646.90" width="13.63" height="11.25" fill="#7f7f7f"/>
<rect x="444.60" y="646.90" width="13.63" height="11.25" fill="#7f7f7f"/>
<rect x="457.23" y="646.90" width="13.63" height="11.25" fill="#7f7f7f"/>
<rect x="469.86" y="646.90" width="12.63" height="11.25" fill="#7f7f7f"/>
<rect x="500.90" y="646.90" width="13.63" height="11.25" fill="#fb835f"/>
<rect x="513.53" y="646.90" width="13.63" height="11.25" fill="#f66c5c"/>
<rect x="526.16" y="646.90" width="13.63" height="11.25" fill="#f66c5c"/>
<rect x="538.79" y="646.90" width="13.63" height="11.25" fill="#fb835f"/>
<rect x="551.42" y="646.90" width="13.63" height="11.25" fill="#fb835f"/>
<rect x="564.05" y="646.90" width="12.63" height="11.25" fill="#fd9869"/>
<rect x="192.00" y="657.15" width="13.63" height="11.25" fill="#fb835f"/>
<rect x="204.63" y="657.15" width="13.63" height="11.25" fill="#ec5860"/>
<rect x="217.26" y="657.15" width="13.63" height="11.25" fill="#ec5860"/>
<rect x="229.89" y="657.15" width="13.63" height="11.25" fill="#a5317e"/>
<rect x="242.52" y="657.15" width="13.63" height="11.25" fill="#ec5860"/>
<rect x="255.15" y="657.15" width="13.63" height="11.25" fill="#cc3f71"/>
<rect x="267.78" y="657.15" width="13.63" height="11.25" fill="#ec5860"/>
<rect x="280.41" y="657.15" width="13.63" height="11.25" fill="#ec5860"/>
<rect x="293.04" y="657.15" width="13.63" height="11.25" fill="#cc3f71"/>
<rect x="305.67" y="657.15" width="13.63" height="11.25" fill="#ec5860"/>
<rect x="318.30" y="657.15" width="13.63" height="11.25" fill="#ec5860"/>
<rect x="330.93" y="657.15" width="13.63" height="11.25" fill="#7f7f7f"/>
<rect x="343.56" y="657.15" width="13.63" height="11.25" fill="#7f7f7f"/>
<rect x="356.19" y="657.15" width="13.63" height="11.25" fill="#7f7f7f"/>
<rect x="368.82" y="657.15" width="13.63" height="11.25" fill="#7f7f7f"/>
<rect x="381.45" y="657.15" width="13.63" height="11.25" fill="#7f7f7f"/>
<rect x="394.08" y="657.15" width="13.63" height="11.25" fill="#7f7f7f"/>
<rect x="406.71" y="657.15" width="13.63" height="11.25" fill="#7f7f7f"/>
<rect x="419.34" y="657.15" width="13.63" height="11.25" fill="#7f7f7f"/>
<rect x="431.97" y="657.15" width="13.63" height="11.25" fill="#7f7f7f"/>
<rect x="444.60" y="657.15" width="13.63" height="11.25" fill="#7f7f7f"/>
<rect x="457.23" y="657.15" width="13.63" height="11.25" fill="#7f7f7f"/>
<rect x="469.86" y="657.15" width="12.63" height="11.25" fill="#7f7f7f"/>
<rect x="500.90" y="657.15" width="13.63" height="11.25" fill="#7f7f7f"/>
<rect x="513.53" y="657.15" width="13.63" height="11.25" fill="#7f7f7f"/>
<rect x="526.16" y="657.15" width="13.63" height="11.25" fill="#7f7f7f"/>
<rect x="538.79" y="657.15" width="13.63" height="11.25" fill="#7f7f7f"/>
<rect x="551.42" y="657.15" width="13.63" height="11.25" fill="#7f7f7f"/>
<rect x="564.05" y="657.15" width="12.63" height="11.25" fill="#7f7f7f"/>
<rect x="192.00" y="667.40" width="13.63" height="11.25" fill="#a5317e"/>
<rect x="204.63" y="667.40" width="13.63" height="11.25" fill="#de4968"/>
<rect x="217.26" y="667.40" width="13.63" height="11.25" fill="#de4968"/>
<rect x="229.89" y="667.40" width="13.63" height="11.25" fill="#ec5860"/>
<rect x="242.52" y="667.40" width="13.63" height="11.25" fill="#ec5860"/>
<rect x="255.15" y="667.40" width="13.63" height="11.25" fill="#ec5860"/>
<rect x="267.78" y="667.40" width="13.63" height="11.25" fill="#ec5860"/>
<rect x="280.41" y="667.40" width="13.63" height="11.25" fill="#ec5860"/>
<rect x="293.04" y="667.40" width="13.63" height="11.25" fill="#f66c5c"/>
<rect x="305.67" y="667.40" width="13.63" height="11.25" fill="#f66c5c"/>
<rect x="318.30" y="667.40" width="13.63" height="11.25" fill="#f66c5c"/>
<rect x="330.93" y="667.40" width="13.63" height="11.25" fill="#7f7f7f"/>
<rect x="343.56" y="667.40" width="13.63" height="11.25" fill="#7f7f7f"/>
<rect x="356.19" y="667.40" width="13.63" height="11.25" fill="#7f7f7f"/>
<rect x="368.82" y="667.40" width="13.63" height="11.25" fill="#7f7f7f"/>
<rect x="381.45" y="667.40" width="13.63" height="11.25" fill="#7f7f7f"/>
<rect x="394.08" y="667.40" width="13.63" height="11.25" fill="#7f7f7f"/>
<rect x="406.71" y="667.40" width="13.63" height="11.25" fill="#7f7f7f"/>
<rect x="419.34" y="667.40" width="13.63" height="11.25" fill="#7f7f7f"/>
<rect x="431.97" y="667.40" width="13.63" height="11.25" fill="#7f7f7f"/>
<rect x="444.60" y="667.40" width="13.63" height="11.25" fill="#7f7f7f"/>
<rect x="457.23" y="667.40" width="13.63" height="11.25" fill="#7f7f7f"/>
<rect x="469.86" y="667.40" width="12.63" height="11.25" fill="#7f7f7f"/>
<rect x="500.90" y="667.40" width="13.63" height="11.25" fill="#7f7f7f"/>
<rect x="513.53" y="667.40" width="13.63" height="11.25" fill="#7f7f7f"/>
<rect x="526.16" y="667.40" width="13.63" height="11.25" fill="#7f7f7f"/>
<rect x="538.79" y="667.40" width="13.63" height="11.25" fill="#7f7f7f"/>
<rect x="551.42" y="667.40" width="13.63" height="11.25" fill="#7f7f7f"/>
<rect x="564.05" y="667.40" width="12.63" height="11.25" fill="#7f7f7f"/>
<rect x="192.00" y="677.65" width="13.63" height="11.25" fill="#fb835f"/>
<rect x="204.63" y="677.65" width="13.63" height="11.25" fill="#fd9869"/>
<rect x="217.26" y="677.65" width="13.63" height="11.25" fill="#fb835f"/>
<rect x="229.89" y="677.65" width="13.63" height="11.25" fill="#fb835f"/>
<rect x="242.52" y="677.65" width="13.63" height="11.25" fill="#fd9869"/>
<rect x="255.15" y="677.65" width="13.63" height="11.25" fill="#fd9869"/>
<rect x="267.78" y="677.65" width="13.63" height="11.25" fill="#feae77"/>
<rect x="280.41" y="677.65" width="13.63" height="11.25" fill="#f66c5c"/>
<rect x="293.04" y="677.65" width="13.63" height="11.25" fill="#f66c5c"/>
<rect x="305.67" y="677.65" width="13.63" height="11.25" fill="#feae77"/>
<rect x="318.30" y="677.65" width="13.63" height="11.25" fill="#f66c5c"/>
<rect x="330.93" y="677.65" width="13.63" height="11.25" fill="#7f7f7f"/>
<rect x="343.56" y="677.65" width="13.63" height="11.25" fill="#7f7f7f"/>
<rect x="356.19" y="677.65" width="13.63" height="11.25" fill="#7f7f7f"/>
<rect x="368.82" y="677.65" width="13.63" height="11.25" fill="#7f7f7f"/>
<rect x="381.45" y="677.65" width="13.63" height="11.25" fill="#7f7f7f"/>
<rect x="394.08" y="677.65" width="13.63" height="11.25" fill="#7f7f7f"/>
<rect x="406.71" y="677.65" width="13.63" height="11.25" fill="#7f7f7f"/>
<rect x="419.34" y="677.65" width="13.63" height="11.25" fill="#7f7f7f"/>
<rect x="431.97" y="677.65" width="13.63" height="11.25" fill="#7f7f7f"/>
<rect x="444.60" y="677.65" width="13.63" height="11.25" fill="#7f7f7f"/>
<rect x="457.23" y="677.65" width="13.63" height="11.25" fill="#7f7f7f"/>
<rect x="469.86" y="677.65" width="12.63" height="11.25" fill="#7f7f7f"/>
<rect x="500.90" y="677.65" width="13.63" height="11.25" fill="#fb835f"/>
<rect x="513.53" y="677.65" width="13.63" height="11.25" fill="#fb835f"/>
<rect x="526.16" y="677.65" width="13.63" height="11.25" fill="#fb835f"/>
<rect x="538.79" y="677.65" width="13.63" height="11.25" fill="#fd9869"/>
<rect x="551.42" y="677.65" width="13.63" height="11.25" fill="#de4968"/>
<rect x="564.05" y="677.65" width="12.63" height="11.25" fill="#7f7f7f"/>
<rect x="192.00" y="687.90" width="13.63" height="11.25" fill="#fb835f"/>
<rect x="204.63" y="687.90" width="13.63" height="11.25" fill="#feae77"/>
<rect x="217.26" y="687.90" width="13.63" height="11.25" fill="#fd9869"/>
<rect x="229.89" y="687.90" width="13.63" height="11.25" fill="#fd9869"/>
<rect x="242.52" y="687.90" width="13.63" height="11.25" fill="#fd9869"/>
<rect x="255.15" y="687.90" width="13.63" height="11.25" fill="#fd9869"/>
<rect x="267.78" y="687.90" width="13.63" height="11.25" fill="#feae77"/>
<rect x="280.41" y="687.90" width="13.63" height="11.25" fill="#fd9869"/>
<rect x="293.04" y="687.90" width="13.63" height="11.25" fill="#fd9869"/>
<rect x="305.67" y="687.90" width="13.63" height="11.25" fill="#fd9869"/>
<rect x="318.30" y="687.90" width="13.63" height="11.25" fill="#fd9869"/>
<rect x="330.93" y="687.90" width="13.63" height="11.25" fill="#7f7f7f"/>
<rect x="343.56" y="687.90" width="13.63" height="11.25" fill="#7f7f7f"/>
<rect x="356.19" y="687.90" width="13.63" height="11.25" fill="#7f7f7f"/>
<rect x="368.82" y="687.90" width="13.63" height="11.25" fill="#7f7f7f"/>
<rect x="381.45" y="687.90" width="13.63" height="11.25" fill="#7f7f7f"/>
<rect x="394.08" y="687.90" width="13.63" height="11.25" fill="#7f7f7f"/>
<rect x="406.71" y="687.90" width="13.63" height="11.25" fill="#7f7f7f"/>
<rect x="419.34" y="687.90" width="13.63" height="11.25" fill="#7f7f7f"/>
<rect x="431.97" y="687.90" width="13.63" height="11.25" fill="#7f7f7f"/>
<rect x="444.60" y="687.90" width="13.63" height="11.25" fill="#7f7f7f"/>
<rect x="457.23" y="687.90" width="13.63" height="11.25" fill="#7f7f7f"/>
<rect x="469.86" y="687.90" width="12.63" height="11.25" fill="#7f7f7f"/>
<rect x="500.90" y="687.90" width="13.63" height="11.25" fill="#feae77"/>
<rect x="513.53" y="687.90" width="13.63" height="11.25" fill="#fec488"/>
<rect x="526.16" y="687.90" width="13.63" height="11.25" fill="#feae77"/>
<rect x="538.79" y="687.90" width="13.63" height="11.25" fill="#feae77"/>
<rect x="551.42" y="687.90" width="13.63" height="11.25" fill="#feae77"/>
<rect x="564.05" y="687.90" width="12.63" height="11.25" fill="#feae77"/>
<rect x="192.00" y="698.15" width="13.63" height="11.25" fill="#fb835f"/>
<rect x="204.63" y="698.15" width="13.63" height="11.25" fill="#feae77"/>
<rect x="217.26" y="698.15" width="13.63" height="11.25" fill="#feae77"/>
<rect x="229.89" y="698.15" width="13.63" height="11.25" fill="#fd9869"/>
<rect x="242.52" y="698.15" width="13.63" height="11.25" fill="#feae77"/>
<rect x="255.15" y="698.15" width="13.63" height="11.25" fill="#fd9869"/>
<rect x="267.78" y="698.15" width="13.63" height="11.25" fill="#fd9869"/>
<rect x="280.41" y="698.15" width="13.63" height="11.25" fill="#fd9869"/>
<rect x="293.04" y="698.15" width="13.63" height="11.25" fill="#feae77"/>
<rect x="305.67" y="698.15" width="13.63" height="11.25" fill="#feae77"/>
<rect x="318.30" y="698.15" width="13.63" height="11.25" fill="#feae77"/>
<rect x="330.93" y="698.15" width="13.63" height="11.25" fill="#7f7f7f"/>
<rect x="343.56" y="698.15" width="13.63" height="11.25" fill="#7f7f7f"/>
<rect x="356.19" y="698.15" width="13.63" height="11.25" fill="#7f7f7f"/>
<rect x="368.82" y="698.15" width="13.63" height="11.25" fill="#7f7f7f"/>
<rect x="381.45" y="698.15" width="13.63" height="11.25" fill="#7f7f7f"/>
<rect x="394.08" y="698.15" width="13.63" height="11.25" fill="#7f7f7f"/>
<rect x="406.71" y="698.15" width="13.63" height="11.25" fill="#7f7f7f"/>
<rect x="419.34" y="698.15" width="13.63" height="11.25" fill="#7f7f7f"/>
<rect x="431.97" y="698.15" width="13.63" height="11.25" fill="#7f7f7f"/>
<rect x="444.60" y="698.15" width="13.63" height="11.25" fill="#7f7f7f"/>
<rect x="457.23" y="698.15" width="13.63" height="11.25" fill="#7e2482"/>
<rect x="469.86" y="698.15" width="12.63" height="11.25" fill="#59157e"/>
<rect x="500.90" y="698.15" width="13.63" height="11.25" fill="#fb835f"/>
<rect x="513.53" y="698.15" width="13.63" height="11.25" fill="#fd9869"/>
<rect x="526.16" y="698.15" width="13.63" height="11.25" fill="#fd9869"/>
<rect x="538.79" y="698.15" width="13.63" height="11.25" fill="#f66c5c"/>
<rect x="551.42" y="698.15" width="13.63" height="11.25" fill="#1e1149"/>
<rect x="564.05" y="698.15" width="12.63" height="11.25" fill="#7f7f7f"/>
<rect x="192.00" y="708.40" width="13.63" height="11.25" fill="#f66c5c"/>
<rect x="204.63" y="708.40" width="13.63" height="11.25" fill="#cc3f71"/>
<rect x="217.26" y="708.40" width="13.63" height="11.25" fill="#fb835f"/>
<rect x="229.89" y="708.40" width="13.63" height="11.25" fill="#ec5860"/>
<rect x="242.52" y="708.40" width="13.63" height="11.25" fill="#f66c5c"/>
<rect x="255.15" y="708.40" width="13.63" height="11.25" fill="#f66c5c"/>
<rect x="267.78" y="708.40" width="13.63" height="11.25" fill="#f66c5c"/>
<rect x="280.41" y="708.40" width="13.63" height="11.25" fill="#f66c5c"/>
<rect x="293.04" y="708.40" width="13.63" height="11.25" fill="#a5317e"/>
<rect x="305.67" y="708.40" width="13.63" height="11.25" fill="#de4968"/>
<rect x="318.30" y="708.40" width="13.63" height="11.25" fill="#de4968"/>
<rect x="330.93" y="708.40" width="13.63" height="11.25" fill="#7f7f7f"/>
<rect x="343.56" y="708.40" width="13.63" height="11.25" fill="#7f7f7f"/>
<rect x="356.19" y="708.40" width="13.63" height="11.25" fill="#7f7f7f"/>
<rect x="368.82" y="708.40" width="13.63" height="11.25" fill="#7f7f7f"/>
<rect x="381.45" y="708.40" width="13.63" height="11.25" fill="#7f7f7f"/>
<rect x="394.08" y="708.40" width="13.63" height="11.25" fill="#7f7f7f"/>
<rect x="406.71" y="708.40" width="13.63" height="11.25" fill="#7f7f7f"/>
<rect x="419.34" y="708.40" width="13.63" height="11.25" fill="#7f7f7f"/>
<rect x="431.97" y="708.40" width="13.63" height="11.25" fill="#7f7f7f"/>
<rect x="444.60" y="708.40" width="13.63" height="11.25" fill="#7f7f7f"/>
<rect x="457.23" y="708.40" width="13.63" height="11.25" fill="#7f7f7f"/>
<rect x="469.86" y="708.40" width="12.63" height="11.25" fill="#6b1d81"/>
<rect x="500.90" y="708.40" width="13.63" height="11.25" fill="#fb835f"/>
<rect x="513.53" y="708.40" width="13.63" height="11.25" fill="#fb835f"/>
<rect x="526.16" y="708.40" width="13.63" height="11.25" fill="#fb835f"/>
<rect x="538.79" y="708.40" width="13.63" height="11.25" fill="#f66c5c"/>
<rect x="551.42" y="708.40" width="13.63" height="11.25" fill="#7f7f7f"/>
<rect x="564.05" y="708.40" width="12.63" height="11.25" fill="#7f7f7f"/>
<rect x="192.00" y="718.65" width="13.63" height="11.25" fill="#6b1d81"/>
<rect x="204.63" y="718.65" width="13.63" height="11.25" fill="#a5317e"/>
<rect x="217.26" y="718.65" width="13.63" height="11.25" fill="#7e2482"/>
<rect x="229.89" y="718.65" width="13.63" height="11.25" fill="#b83779"/>
<rect x="242.52" y="718.65" width="13.63" height="11.25" fill="#6b1d81"/>
<rect x="255.15" y="718.65" width="13.63" height="11.25" fill="#cc3f71"/>
<rect x="267.78" y="718.65" width="13.63" height="11.25" fill="#b83779"/>
<rect x="280.41" y="718.65" width="13.63" height="11.25" fill="#912b81"/>
<rect x="293.04" y="718.65" width="13.63" height="11.25" fill="#cc3f71"/>
<rect x="305.67" y="718.65" width="13.63" height="11.25" fill="#912b81"/>
<rect x="318.30" y="718.65" width="13.63" height="11.25" fill="#912b81"/>
<rect x="330.93" y="718.65" width="13.63" height="11.25" fill="#7f7f7f"/>
<rect x="343.56" y="718.65" width="13.63" height="11.25" fill="#7f7f7f"/>
<rect x="356.19" y="718.65" width="13.63" height="11.25" fill="#7f7f7f"/>
<rect x="368.82" y="718.65" width="13.63" height="11.25" fill="#7f7f7f"/>
<rect x="381.45" y="718.65" width="13.63" height="11.25" fill="#7f7f7f"/>
<rect x="394.08" y="718.65" width="13.63" height="11.25" fill="#7f7f7f"/>
<rect x="406.71" y="718.65" width="13.63" height="11.25" fill="#7f7f7f"/>
<rect x="419.34" y="718.65" width="13.63" height="11.25" fill="#7f7f7f"/>
<rect x="431.97" y="718.65" width="13.63" height="11.25" fill="#7f7f7f"/>
<rect x="444.60" y="718.65" width="13.63" height="11.25" fill="#7f7f7f"/>
<rect x="457.23" y="718.65" width="13.63" height="11.25" fill="#7f7f7f"/>
<rect x="469.86" y="718.65" width="12.63" height="11.25" fill="#7f7f7f"/>
<rect x="500.90" y="718.65" width="13.63" height="11.25" fill="#ec5860"/>
<rect x="513.53" y="718.65" width="13.63" height="11.25" fill="#ec5860"/>
<rect x="526.16" y="718.65" width="13.63" height="11.25" fill="#de4968"/>
<rect x="538.79" y="718.65" width="13.63" height="11.25" fill="#f66c5c"/>
<rect x="551.42" y="718.65" width="13.63" height="11.25" fill="#de4968"/>
<rect x="564.05" y="718.65" width="12.63" height="11.25" fill="#ec5860"/>
<rect x="192.00" y="728.90" width="13.63" height="11.25" fill="#b83779"/>
<rect x="204.63" y="728.90" width="13.63" height="11.25" fill="#ec5860"/>
<rect x="217.26" y="728.90" width="13.63" height="11.25" fill="#cc3f71"/>
<rect x="229.89" y="728.90" width="13.63" height="11.25" fill="#cc3f71"/>
<rect x="242.52" y="728.90" width="13.63" height="11.25" fill="#b83779"/>
<rect x="255.15" y="728.90" width="13.63" height="11.25" fill="#cc3f71"/>
<rect x="267.78" y="728.90" width="13.63" height="11.25" fill="#912b81"/>
<rect x="280.41" y="728.90" width="13.63" height="11.25" fill="#a5317e"/>
<rect x="293.04" y="728.90" width="13.63" height="11.25" fill="#a5317e"/>
<rect x="305.67" y="728.90" width="13.63" height="11.25" fill="#912b81"/>
<rect x="318.30" y="728.90" width="13.63" height="11.25" fill="#cc3f71"/>
<rect x="330.93" y="728.90" width="13.63" height="11.25" fill="#7f7f7f"/>
<rect x="343.56" y="728.90" width="13.63" height="11.25" fill="#7f7f7f"/>
<rect x="356.19" y="728.90" width="13.63" height="11.25" fill="#7f7f7f"/>
<rect x="368.82" y="728.90" width="13.63" height="11.25" fill="#7f7f7f"/>
<rect x="381.45" y="728.90" width="13.63" height="11.25" fill="#7f7f7f"/>
<rect x="394.08" y="728.90" width="13.63" height="11.25" fill="#7f7f7f"/>
<rect x="406.71" y="728.90" width="13.63" height="11.25" fill="#7f7f7f"/>
<rect x="419.34" y="728.90" width="13.63" height="11.25" fill="#7f7f7f"/>
<rect x="431.97" y="728.90" width="13.63" height="11.25" fill="#7f7f7f"/>
<rect x="444.60" y="728.90" width="13.63" height="11.25" fill="#7f7f7f"/>
<rect x="457.23" y="728.90" width="13.63" height="11.25" fill="#7f7f7f"/>
<rect x="469.86" y="728.90" width="12.63" height="11.25" fill="#7f7f7f"/>
<rect x="500.90" y="728.90" width="13.63" height="11.25" fill="#ec5860"/>
<rect x="513.53" y="728.90" width="13.63" height="11.25" fill="#cc3f71"/>
<rect x="526.16" y="728.90" width="13.63" height="11.25" fill="#de4968"/>
<rect x="538.79" y="728.90" width="13.63" height="11.25" fill="#cc3f71"/>
<rect x="551.42" y="728.90" width="13.63" height="11.25" fill="#a5317e"/>
<rect x="564.05" y="728.90" width="12.63" height="11.25" fill="#de4968"/>
<rect x="192.00" y="739.15" width="13.63" height="11.25" fill="#fdda9c"/>
<rect x="204.63" y="739.15" width="13.63" height="11.25" fill="#fd9869"/>
<rect x="217.26" y="739.15" width="13.63" height="11.25" fill="#fec488"/>
<rect x="229.89" y="739.15" width="13.63" height="11.25" fill="#fec488"/>
<rect x="242.52" y="739.15" width="13.63" height="11.25" fill="#fec488"/>
<rect x="255.15" y="739.15" width="13.63" height="11.25" fill="#fec488"/>
<rect x="267.78" y="739.15" width="13.63" height="11.25" fill="#feae77"/>
<rect x="280.41" y="739.15" width="13.63" height="11.25" fill="#fdda9c"/>
<rect x="293.04" y="739.15" width="13.63" height="11.25" fill="#fd9869"/>
<rect x="305.67" y="739.15" width="13.63" height="11.25" fill="#fd9869"/>
<rect x="318.30" y="739.15" width="13.63" height="11.25" fill="#fd9869"/>
<rect x="330.93" y="739.15" width="13.63" height="11.25" fill="#7f7f7f"/>
<rect x="343.56" y="739.15" width="13.63" height="11.25" fill="#7f7f7f"/>
<rect x="356.19" y="739.15" width="13.63" height="11.25" fill="#7f7f7f"/>
<rect x="368.82" y="739.15" width="13.63" height="11.25" fill="#7f7f7f"/>
<rect x="381.45" y="739.15" width="13.63" height="11.25" fill="#7f7f7f"/>
<rect x="394.08" y="739.15" width="13.63" height="11.25" fill="#7f7f7f"/>
<rect x="406.71" y="739.15" width="13.63" height="11.25" fill="#7f7f7f"/>
<rect x="419.34" y="739.15" width="13.63" height="11.25" fill="#7f7f7f"/>
<rect x="431.97" y="739.15" width="13.63" height="11.25" fill="#7f7f7f"/>
<rect x="444.60" y="739.15" width="13.63" height="11.25" fill="#7f7f7f"/>
<rect x="457.23" y="739.15" width="13.63" height="11.25" fill="#7f7f7f"/>
<rect x="469.86" y="739.15" width="12.63" height="11.25" fill="#7f7f7f"/>
<rect x="500.90" y="739.15" width="13.63" height="11.25" fill="#7f7f7f"/>
<rect x="513.53" y="739.15" width="13.63" height="11.25" fill="#7f7f7f"/>
<rect x="526.16" y="739.15" width="13.63" height="11.25" fill="#7f7f7f"/>
<rect x="538.79" y="739.15" width="13.63" height="11.25" fill="#7f7f7f"/>
<rect x="551.42" y="739.15" width="13.63" height="11.25" fill="#7f7f7f"/>
<rect x="564.05" y="739.15" width="12.63" height="11.25" fill="#7f7f7f"/>
<rect x="192.00" y="749.40" width="13.63" height="11.25" fill="#cc3f71"/>
<rect x="204.63" y="749.40" width="13.63" height="11.25" fill="#7e2482"/>
<rect x="217.26" y="749.40" width="13.63" height="11.25" fill="#b83779"/>
<rect x="229.89" y="749.40" width="13.63" height="11.25" fill="#a5317e"/>
<rect x="242.52" y="749.40" width="13.63" height="11.25" fill="#a5317e"/>
<rect x="255.15" y="749.40" width="13.63" height="11.25" fill="#ec5860"/>
<rect x="267.78" y="749.40" width="13.63" height="11.25" fill="#f66c5c"/>
<rect x="280.41" y="749.40" width="13.63" height="11.25" fill="#ec5860"/>
<rect x="293.04" y="749.40" width="13.63" height="11.25" fill="#de4968"/>
<rect x="305.67" y="749.40" width="13.63" height="11.25" fill="#de4968"/>
<rect x="318.30" y="749.40" width="13.63" height="11.25" fill="#a5317e"/>
<rect x="330.93" y="749.40" width="13.63" height="11.25" fill="#7f7f7f"/>
<rect x="343.56" y="749.40" width="13.63" height="11.25" fill="#7f7f7f"/>
<rect x="356.19" y="749.40" width="13.63" height="11.25" fill="#7f7f7f"/>
<rect x="368.82" y="749.40" width="13.63" height="11.25" fill="#7f7f7f"/>
<rect x="381.45" y="749.40" width="13.63" height="11.25" fill="#7f7f7f"/>
<rect x="394.08" y="749.40" width="13.63" height="11.25" fill="#7f7f7f"/>
<rect x="406.71" y="749.40" width="13.63" height="11.25" fill="#7f7f7f"/>
<rect x="419.34" y="749.40" width="13.63" height="11.25" fill="#7f7f7f"/>
<rect x="431.97" y="749.40" width="13.63" height="11.25" fill="#7f7f7f"/>
<rect x="444.60" y="749.40" width="13.63" height="11.25" fill="#7f7f7f"/>
<rect x="457.23" y="749.40" width="13.63" height="11.25" fill="#7f7f7f"/>
<rect x="469.86" y="749.40" width="12.63" height="11.25" fill="#7f7f7f"/>
<rect x="500.90" y="749.40" width="13.63" height="11.25" fill="#ec5860"/>
<rect x="513.53" y="749.40" width="13.63" height="11.25" fill="#fd9869"/>
<rect x="526.16" y="749.40" width="13.63" height="11.25" fill="#fb835f"/>
<rect x="538.79" y="749.40" width="13.63" height="11.25" fill="#fd9869"/>
<rect x="551.42" y="749.40" width="13.63" height="11.25" fill="#ec5860"/>
<rect x="564.05" y="749.40" width="12.63" height="11.25" fill="#f66c5c"/>
<rect x="192.00" y="759.65" width="13.63" height="11.25" fill="#f66c5c"/>
<rect x="204.63" y="759.65" width="13.63" height="11.25" fill="#fd9869"/>
<rect x="217.26" y="759.65" width="13.63" height="11.25" fill="#fb835f"/>
<rect x="229.89" y="759.65" width="13.63" height="11.25" fill="#ec5860"/>
<rect x="242.52" y="759.65" width="13.63" height="11.25" fill="#de4968"/>
<rect x="255.15" y="759.65" width="13.63" height="11.25" fill="#de4968"/>
<rect x="267.78" y="759.65" width="13.63" height="11.25" fill="#de4968"/>
<rect x="280.41" y="759.65" width="13.63" height="11.25" fill="#ec5860"/>
<rect x="293.04" y="759.65" width="13.63" height="11.25" fill="#f66c5c"/>
<rect x="305.67" y="759.65" width="13.63" height="11.25" fill="#f66c5c"/>
<rect x="318.30" y="759.65" width="13.63" height="11.25" fill="#ec5860"/>
<rect x="330.93" y="759.65" width="13.63" height="11.25" fill="#7f7f7f"/>
<rect x="343.56" y="759.65" width="13.63" height="11.25" fill="#7f7f7f"/>
<rect x="356.19" y="759.65" width="13.63" height="11.25" fill="#7f7f7f"/>
<rect x="368.82" y="759.65" width="13.63" height="11.25" fill="#7f7f7f"/>
<rect x="381.45" y="759.65" width="13.63" height="11.25" fill="#7f7f7f"/>
<rect x="394.08" y="759.65" width="13.63" height="11.25" fill="#7f7f7f"/>
<rect x="406.71" y="759.65" width="13.63" height="11.25" fill="#7f7f7f"/>
<rect x="419.34" y="759.65" width="13.63" height="11.25" fill="#7f7f7f"/>
<rect x="431.97" y="759.65" width="13.63" height="11.25" fill="#7f7f7f"/>
<rect x="444.60" y="759.65" width="13.63" height="11.25" fill="#7f7f7f"/>
<rect x="457.23" y="759.65" width="13.63" height="11.25" fill="#7f7f7f"/>
<rect x="469.86" y="759.65" width="12.63" height="11.25" fill="#7f7f7f"/>
<rect x="500.90" y="759.65" width="13.63" height="11.25" fill="#f66c5c"/>
<rect x="513.53" y="759.65" width="13.63" height="11.25" fill="#fb835f"/>
<rect x="526.16" y="759.65" width="13.63" height="11.25" fill="#fb835f"/>
<rect x="538.79" y="759.65" width="13.63" height="11.25" fill="#f66c5c"/>
<rect x="551.42" y="759.65" width="13.63" height="11.25" fill="#7f7f7f"/>
<rect x="564.05" y="759.65" width="12.63" height="11.25" fill="#7f7f7f"/>
<rect x="192.00" y="769.90" width="13.63" height="11.25" fill="#fb835f"/>
<rect x="204.63" y="769.90" width="13.63" height="11.25" fill="#fd9869"/>
<rect x="217.26" y="769.90" width="13.63" height="11.25" fill="#fd9869"/>
<rect x="229.89" y="769.90" width="13.63" height="11.25" fill="#fb835f"/>
<rect x="242.52" y="769.90" width="13.63" height="11.25" fill="#fb835f"/>
<rect x="255.15" y="769.90" width="13.63" height="11.25" fill="#fb835f"/>
<rect x="267.78" y="769.90" width="13.63" height="11.25" fill="#fb835f"/>
<rect x="280.41" y="769.90" width="13.63" height="11.25" fill="#fd9869"/>
<rect x="293.04" y="769.90" width="13.63" height="11.25" fill="#fd9869"/>
<rect x="305.67" y="769.90" width="13.63" height="11.25" fill="#fd9869"/>
<rect x="318.30" y="769.90" width="13.63" height="11.25" fill="#fb835f"/>
<rect x="330.93" y="769.90" width="13.63" height="11.25" fill="#7f7f7f"/>
<rect x="343.56" y="769.90" width="13.63" height="11.25" fill="#7f7f7f"/>
<rect x="356.19" y="769.90" width="13.63" height="11.25" fill="#7f7f7f"/>
<rect x="368.82" y="769.90" width="13.63" height="11.25" fill="#7f7f7f"/>
<rect x="381.45" y="769.90" width="13.63" height="11.25" fill="#7f7f7f"/>
<rect x="394.08" y="769.90" width="13.63" height="11.25" fill="#7f7f7f"/>
<rect x="406.71" y="769.90" width="13.63" height="11.25" fill="#7f7f7f"/>
<rect x="419.34" y="769.90" width="13.63" height="11.25" fill="#7f7f7f"/>
<rect x="431.97" y="769.90" width="13.63" height="11.25" fill="#7f7f7f"/>
<rect x="444.60" y="769.90" width="13.63" height="11.25" fill="#7f7f7f"/>
<rect x="457.23" y="769.90" width="13.63" height="11.25" fill="#7f7f7f"/>
<rect x="469.86" y="769.90" width="12.63" height="11.25" fill="#7f7f7f"/>
<rect x="500.90" y="769.90" width="13.63" height="11.25" fill="#7f7f7f"/>
<rect x="513.53" y="769.90" width="13.63" height="11.25" fill="#7f7f7f"/>
<rect x="526.16" y="769.90" width="13.63" height="11.25" fill="#7f7f7f"/>
<rect x="538.79" y="769.90" width="13.63" height="11.25" fill="#7f7f7f"/>
<rect x="551.42" y="769.90" width="13.63" height="11.25" fill="#7f7f7f"/>
<rect x="564.05" y="769.90" width="12.63" height="11.25" fill="#7f7f7f"/>
<rect x="192.00" y="780.15" width="13.63" height="11.25" fill="#7f7f7f"/>
<rect x="204.63" y="780.15" width="13.63" height="11.25" fill="#7f7f7f"/>
<rect x="217.26" y="780.15" width="13.63" height="11.25" fill="#7f7f7f"/>
<rect x="229.89" y="780.15" width="13.63" height="11.25" fill="#7f7f7f"/>
<rect x="242.52" y="780.15" width="13.63" height="11.25" fill="#7f7f7f"/>
<rect x="255.15" y="780.15" width="13.63" height="11.25" fill="#7f7f7f"/>
<rect x="267.78" y="780.15" width="13.63" height="11.25" fill="#7f7f7f"/>
<rect x="280.41" y="780.15" width="13.63" height="11.25" fill="#7f7f7f"/>
<rect x="293.04" y="780.15" width="13.63" height="11.25" fill="#7f7f7f"/>
<rect x="305.67" y="780.15" width="13.63" height="11.25" fill="#7f7f7f"/>
<rect x="318.30" y="780.15" width="13.63" height="11.25" fill="#7f7f7f"/>
<rect x="330.93" y="780.15" width="13.63" height="11.25" fill="#7f7f7f"/>
<rect x="343.56" y="780.15" width="13.63" height="11.25" fill="#7f7f7f"/>
<rect x="356.19" y="780.15" width="13.63" height="11.25" fill="#7f7f7f"/>
<rect x="368.82" y="780.15" width="13.63" height="11.25" fill="#7f7f7f"/>
<rect x="381.45" y="780.15" width="13.63" height="11.25" fill="#7f7f7f"/>
<rect x="394.08" y="780.15" width="13.63" height="11.25" fill="#7f7f7f"/>
<rect x="406.71" y="780.15" width="13.63" height="11.25" fill="#7f7f7f"/>
<rect x="419.34" y="780.15" width="13.63" height="11.25" fill="#ec5860"/>
<rect x="431.97" y="780.15" width="13.63" height="11.25" fill="#de4968"/>
<rect x="444.60" y="780.15" width="13.63" height="11.25" fill="#040414"/>
<rect x="457.23" y="780.15" width="13.63" height="11.25" fill="#7f7f7f"/>
<rect x="469.86" y="780.15" width="12.63" height="11.25" fill="#7f7f7f"/>
<rect x="500.90" y="780.15" width="13.63" height="11.25" fill="#7f7f7f"/>
<rect x="513.53" y="780.15" width="13.63" height="11.25" fill="#7f7f7f"/>
<rect x="526.16" y="780.15" width="13.63" height="11.25" fill="#7f7f7f"/>
<rect x="538.79" y="780.15" width="13.63" height="11.25" fill="#7f7f7f"/>
<rect x="551.42" y="780.15" width="13.63" height="11.25" fill="#7f7f7f"/>
<rect x="564.05" y="780.15" width="12.63" height="11.25" fill="#7f7f7f"/>
<rect x="192.00" y="790.40" width="13.63" height="11.25" fill="#7f7f7f"/>
<rect x="204.63" y="790.40" width="13.63" height="11.25" fill="#7f7f7f"/>
<rect x="217.26" y="790.40" width="13.63" height="11.25" fill="#7f7f7f"/>
<rect x="229.89" y="790.40" width="13.63" height="11.25" fill="#7f7f7f"/>
<rect x="242.52" y="790.40" width="13.63" height="11.25" fill="#7f7f7f"/>
<rect x="255.15" y="790.40" width="13.63" height="11.25" fill="#7f7f7f"/>
<rect x="267.78" y="790.40" width="13.63" height="11.25" fill="#7f7f7f"/>
<rect x="280.41" y="790.40" width="13.63" height="11.25" fill="#7f7f7f"/>
<rect x="293.04" y="790.40" width="13.63" height="11.25" fill="#7f7f7f"/>
<rect x="305.67" y="790.40" width="13.63" height="11.25" fill="#7f7f7f"/>
<rect x="318.30" y="790.40" width="13.63" height="11.25" fill="#7f7f7f"/>
<rect x="330.93" y="790.40" width="13.63" height="11.25" fill="#7f7f7f"/>
<rect x="343.56" y="790.40" width="13.63" height="11.25" fill="#7f7f7f"/>
<rect x="356.19" y="790.40" width="13.63" height="11.25" fill="#7f7f7f"/>
<rect x="368.82" y="790.40" width="13.63" height="11.25" fill="#7f7f7f"/>
<rect x="381.45" y="790.40" width="13.63" height="11.25" fill="#7f7f7f"/>
<rect x="394.08" y="790.40" width="13.63" height="11.25" fill="#7f7f7f"/>
<rect x="406.71" y="790.40" width="13.63" height="11.25" fill="#912b81"/>
<rect x="419.34" y="790.40" width="13.63" height="11.25" fill="#b83779"/>
<rect x="431.97" y="790.40" width="13.63" height="11.25" fill="#fb835f"/>
<rect x="444.60" y="790.40" width="13.63" height="11.25" fill="#cc3f71"/>
<rect x="457.23" y="790.40" width="13.63" height="11.25" fill="#b83779"/>
<rect x="469.86" y="790.40" width="12.63" height="11.25" fill="#a5317e"/>
<rect x="500.90" y="790.40" width="13.63" height="11.25" fill="#7f7f7f"/>
<rect x="513.53" y="790.40" width="13.63" height="11.25" fill="#7f7f7f"/>
<rect x="526.16" y="790.40" width="13.63" height="11.25" fill="#7f7f7f"/>
<rect x="538.79" y="790.40" width="13.63" height="11.25" fill="#7f7f7f"/>
<rect x="551.42" y="790.40" width="13.63" height="11.25" fill="#de4968"/>
<rect x="564.05" y="790.40" width="12.63" height="11.25" fill="#7f7f7f"/>
<rect x="192.00" y="800.65" width="13.63" height="11.25" fill="#7f7f7f"/>
<rect x="204.63" y="800.65" width="13.63" height="11.25" fill="#7f7f7f"/>
<rect x="217.26" y="800.65" width="13.63" height="11.25" fill="#7f7f7f"/>
<rect x="229.89" y="800.65" width="13.63" height="11.25" fill="#7f7f7f"/>
<rect x="242.52" y="800.65" width="13.63" height="11.25" fill="#7f7f7f"/>
<rect x="255.15" y="800.65" width="13.63" height="11.25" fill="#7f7f7f"/>
<rect x="267.78" y="800.65" width="13.63" height="11.25" fill="#7f7f7f"/>
<rect x="280.41" y="800.65" width="13.63" height="11.25" fill="#7f7f7f"/>
<rect x="293.04" y="800.65" width="13.63" height="11.25" fill="#7e2482"/>
<rect x="305.67" y="800.65" width="13.63" height="11.25" fill="#7f7f7f"/>
<rect x="318.30" y="800.65" width="13.63" height="11.25" fill="#7f7f7f"/>
<rect x="330.93" y="800.65" width="13.63" height="11.25" fill="#912b81"/>
<rect x="343.56" y="800.65" width="13.63" height="11.25" fill="#912b81"/>
<rect x="356.19" y="800.65" width="13.63" height="11.25" fill="#cc3f71"/>
<rect x="368.82" y="800.65" width="13.63" height="11.25" fill="#7e2482"/>
<rect x="381.45" y="800.65" width="13.63" height="11.25" fill="#b83779"/>
<rect x="394.08" y="800.65" width="13.63" height="11.25" fill="#a5317e"/>
<rect x="406.71" y="800.65" width="13.63" height="11.25" fill="#a5317e"/>
<rect x="419.34" y="800.65" width="13.63" height="11.25" fill="#59157e"/>
<rect x="431.97" y="800.65" width="13.63" height="11.25" fill="#cc3f71"/>
<rect x="444.60" y="800.65" width="13.63" height="11.25" fill="#cc3f71"/>
<rect x="457.23" y="800.65" width="13.63" height="11.25" fill="#59157e"/>
<rect x="469.86" y="800.65" width="12.63" height="11.25" fill="#6b1d81"/>
<rect x="500.90" y="800.65" width="13.63" height="11.25" fill="#7f7f7f"/>
<rect x="513.53" y="800.65" width="13.63" height="11.25" fill="#7f7f7f"/>
<rect x="526.16" y="800.65" width="13.63" height="11.25" fill="#7f7f7f"/>
<rect x="538.79" y="800.65" width="13.63" height="11.25" fill="#7f7f7f"/>
<rect x="551.42" y="800.65" width="13.63" height="11.25" fill="#7f7f7f"/>
<rect x="564.05" y="800.65" width="12.63" height="11.25" fill="#7f7f7f"/>
<rect x="192.00" y="810.90" width="13.63" height="11.25" fill="#7f7f7f"/>
<rect x="204.63" y="810.90" width="13.63" height="11.25" fill="#7f7f7f"/>
<rect x="217.26" y="810.90" width="13.63" height="11.25" fill="#7f7f7f"/>
<rect x="229.89" y="810.90" width="13.63" height="11.25" fill="#7f7f7f"/>
<rect x="242.52" y="810.90" width="13.63" height="11.25" fill="#7f7f7f"/>
<rect x="255.15" y="810.90" width="13.63" height="11.25" fill="#7f7f7f"/>
<rect x="267.78" y="810.90" width="13.63" height="11.25" fill="#7f7f7f"/>
<rect x="280.41" y="810.90" width="13.63" height="11.25" fill="#7f7f7f"/>
<rect x="293.04" y="810.90" width="13.63" height="11.25" fill="#7f7f7f"/>
<rect x="305.67" y="810.90" width="13.63" height="11.25" fill="#7f7f7f"/>
<rect x="318.30" y="810.90" width="13.63" height="11.25" fill="#7f7f7f"/>
<rect x="330.93" y="810.90" width="13.63" height="11.25" fill="#7f7f7f"/>
<rect x="343.56" y="810.90" width="13.63" height="11.25" fill="#7f7f7f"/>
<rect x="356.19" y="810.90" width="13.63" height="11.25" fill="#7f7f7f"/>
<rect x="368.82" y="810.90" width="13.63" height="11.25" fill="#7f7f7f"/>
<rect x="381.45" y="810.90" width="13.63" height="11.25" fill="#7f7f7f"/>
<rect x="394.08" y="810.90" width="13.63" height="11.25" fill="#7f7f7f"/>
<rect x="406.71" y="810.90" width="13.63" height="11.25" fill="#7f7f7f"/>
<rect x="419.34" y="810.90" width="13.63" height="11.25" fill="#7f7f7f"/>
<rect x="431.97" y="810.90" width="13.63" height="11.25" fill="#7f7f7f"/>
<rect x="444.60" y="810.90" width="13.63" height="11.25" fill="#7f7f7f"/>
<rect x="457.23" y="810.90" width="13.63" height="11.25" fill="#f66c5c"/>
<rect x="469.86" y="810.90" width="12.63" height="11.25" fill="#fb835f"/>
<rect x="500.90" y="810.90" width="13.63" height="11.25" fill="#cc3f71"/>
<rect x="513.53" y="810.90" width="13.63" height="11.25" fill="#b83779"/>
<rect x="526.16" y="810.90" width="13.63" height="11.25" fill="#a5317e"/>
<rect x="538.79" y="810.90" width="13.63" height="11.25" fill="#912b81"/>
<rect x="551.42" y="810.90" width="13.63" height="11.25" fill="#ec5860"/>
<rect x="564.05" y="810.90" width="12.63" height="11.25" fill="#de4968"/>
<rect x="192.00" y="821.15" width="13.63" height="11.25" fill="#7f7f7f"/>
<rect x="204.63" y="821.15" width="13.63" height="11.25" fill="#7f7f7f"/>
<rect x="217.26" y="821.15" width="13.63" height="11.25" fill="#7f7f7f"/>
<rect x="229.89" y="821.15" width="13.63" height="11.25" fill="#7f7f7f"/>
<rect x="242.52" y="821.15" width="13.63" height="11.25" fill="#7f7f7f"/>
<rect x="255.15" y="821.15" width="13.63" height="11.25" fill="#7f7f7f"/>
<rect x="267.78" y="821.15" width="13.63" height="11.25" fill="#7f7f7f"/>
<rect x="280.41" y="821.15" width="13.63" height="11.25" fill="#7f7f7f"/>
<rect x="293.04" y="821.15" width="13.63" height="11.25" fill="#7f7f7f"/>
<rect x="305.67" y="821.15" width="13.63" height="11.25" fill="#7f7f7f"/>
<rect x="318.30" y="821.15" width="13.63" height="11.25" fill="#7f7f7f"/>
<rect x="330.93" y="821.15" width="13.63" height="11.25" fill="#7f7f7f"/>
<rect x="343.56" y="821.15" width="13.63" height="11.25" fill="#7f7f7f"/>
<rect x="356.19" y="821.15" width="13.63" height="11.25" fill="#7f7f7f"/>
<rect x="368.82" y="821.15" width="13.63" height="11.25" fill="#7f7f7f"/>
<rect x="381.45" y="821.15" width="13.63" height="11.25" fill="#7f7f7f"/>
<rect x="394.08" y="821.15" width="13.63" height="11.25" fill="#7f7f7f"/>
<rect x="406.71" y="821.15" width="13.63" height="11.25" fill="#7f7f7f"/>
<rect x="419.34" y="821.15" width="13.63" height="11.25" fill="#7f7f7f"/>
<rect x="431.97" y="821.15" width="13.63" height="11.25" fill="#7f7f7f"/>
<rect x="444.60" y="821.15" width="13.63" height="11.25" fill="#7f7f7f"/>
<rect x="457.23" y="821.15" width="13.63" height="11.25" fill="#59157e"/>
<rect x="469.86" y="821.15" width="12.63" height="11.25" fill="#cc3f71"/>
<rect x="500.90" y="821.15" width="13.63" height="11.25" fill="#7f7f7f"/>
<rect x="513.53" y="821.15" width="13.63" height="11.25" fill="#7f7f7f"/>
<rect x="526.16" y="821.15" width="13.63" height="11.25" fill="#7f7f7f"/>
<rect x="538.79" y="821.15" width="13.63" height="11.25" fill="#7f7f7f"/>
<rect x="551.42" y="821.15" width="13.63" height="11.25" fill="#7f7f7f"/>
<rect x="564.05" y="821.15" width="12.63" height="11.25" fill="#7f7f7f"/>
<rect x="192.00" y="831.40" width="13.63" height="10.25" fill="#7f7f7f"/>
<rect x="204.63" y="831.40" width="13.63" height="10.25" fill="#7f7f7f"/>
<rect x="217.26" y="831.40" width="13.63" height="10.25" fill="#7f7f7f"/>
<rect x="229.89" y="831.40" width="13.63" height="10.25" fill="#7f7f7f"/>
<rect x="242.52" y="831.40" width="13.63" height="10.25" fill="#7f7f7f"/>
<rect x="255.15" y="831.40" width="13.63" height="10.25" fill="#7f7f7f"/>
<rect x="267.78" y="831.40" width="13.63" height="10.25" fill="#7f7f7f"/>
<rect x="280.41" y="831.40" width="13.63" height="10.25" fill="#7f7f7f"/>
<rect x="293.04" y="831.40" width="13.63" height="10.25" fill="#7f7f7f"/>
<rect x="305.67" y="831.40" width="13.63" height="10.25" fill="#7f7f7f"/>
<rect x="318.30" y="831.40" width="13.63" height="10.25" fill="#7f7f7f"/>
<rect x="330.93" y="831.40" width="13.63" height="10.25" fill="#7f7f7f"/>
<rect x="343.56" y="831.40" width="13.63" height="10.25" fill="#7f7f7f"/>
<rect x="356.19" y="831.40" width="13.63" height="10.25" fill="#7f7f7f"/>
<rect x="368.82" y="831.40" width="13.63" height="10.25" fill="#7f7f7f"/>
<rect x="381.45" y="831.40" width="13.63" height="10.25" fill="#7f7f7f"/>
<rect x="394.08" y="831.40" width="13.63" height="10.25" fill="#7f7f7f"/>
<rect x="406.71" y="831.40" width="13.63" height="10.25" fill="#7f7f7f"/>
<rect x="419.34" y="831.40" width="13.63" height="10.25" fill="#7f7f7f"/>
<rect x="431.97" y="831.40" width="13.63" height="10.25" fill="#7f7f7f"/>
<rect x="444.60" y="831.40" width="13.63" height="10.25" fill="#7f7f7f"/>
<rect x="457.23" y="831.40" width="13.63" height="10.25" fill="#7e2482"/>
<rect x="469.86" y="831.40" width="12.63" height="10.25" fill="#b83779"/>
<rect x="500.90" y="831.40" width="13.63" height="10.25" fill="#a5317e"/>
<rect x="513.53" y="831.40" width="13.63" height="10.25" fill="#a5317e"/>
<rect x="526.16" y="831.40" width="13.63" height="10.25" fill="#912b81"/>
<rect x="538.79" y="831.40" width="13.63" height="10.25" fill="#912b81"/>
<rect x="551.42" y="831.40" width="13.63" height="10.25" fill="#ec5860"/>
<rect x="564.05" y="831.40" width="12.63" height="10.25" fill="#912b81"/>
<rect x="330.93" y="236.90" width="12.63" height="10.25" fill="none" stroke="#000" stroke-width="1.9"/>
<rect x="343.56" y="236.90" width="12.63" height="10.25" fill="none" stroke="#000" stroke-width="1.9"/>
<rect x="356.19" y="236.90" width="12.63" height="10.25" fill="none" stroke="#000" stroke-width="1.9"/>
<rect x="368.82" y="236.90" width="12.63" height="10.25" fill="none" stroke="#000" stroke-width="1.9"/>
<rect x="381.45" y="236.90" width="12.63" height="10.25" fill="none" stroke="#000" stroke-width="1.9"/>
<rect x="394.08" y="236.90" width="12.63" height="10.25" fill="none" stroke="#000" stroke-width="1.9"/>
<rect x="406.71" y="236.90" width="12.63" height="10.25" fill="none" stroke="#000" stroke-width="1.9"/>
<rect x="419.34" y="236.90" width="12.63" height="10.25" fill="none" stroke="#000" stroke-width="1.9"/>
<rect x="431.97" y="236.90" width="12.63" height="10.25" fill="none" stroke="#000" stroke-width="1.9"/>
<rect x="444.60" y="236.90" width="12.63" height="10.25" fill="none" stroke="#000" stroke-width="1.9"/>
<rect x="457.23" y="236.90" width="12.63" height="10.25" fill="none" stroke="#000" stroke-width="1.9"/>
<rect x="469.86" y="236.90" width="12.63" height="10.25" fill="none" stroke="#000" stroke-width="1.9"/>
<rect x="457.23" y="247.15" width="12.63" height="10.25" fill="none" stroke="#000" stroke-width="1.9"/>
<rect x="469.86" y="247.15" width="12.63" height="10.25" fill="none" stroke="#000" stroke-width="1.9"/>
<rect x="457.23" y="339.40" width="12.63" height="10.25" fill="none" stroke="#000" stroke-width="1.9"/>
<rect x="469.86" y="339.40" width="12.63" height="10.25" fill="none" stroke="#000" stroke-width="1.9"/>
<rect x="457.23" y="513.65" width="12.63" height="10.25" fill="none" stroke="#000" stroke-width="1.9"/>
<rect x="469.86" y="513.65" width="12.63" height="10.25" fill="none" stroke="#000" stroke-width="1.9"/>
<rect x="457.23" y="523.90" width="12.63" height="10.25" fill="none" stroke="#000" stroke-width="1.9"/>
<rect x="469.86" y="523.90" width="12.63" height="10.25" fill="none" stroke="#000" stroke-width="1.9"/>
<circle cx="198.31" cy="242.03" r="2.85" fill="none" stroke="#111" stroke-width="1.5"/>
<circle cx="198.31" cy="252.28" r="2.85" fill="none" stroke="#111" stroke-width="1.5"/>
<circle cx="198.31" cy="283.02" r="2.85" fill="none" stroke="#111" stroke-width="1.5"/>
<circle cx="198.31" cy="293.27" r="2.85" fill="none" stroke="#111" stroke-width="1.5"/>
<circle cx="198.31" cy="303.52" r="2.85" fill="none" stroke="#111" stroke-width="1.5"/>
<circle cx="198.31" cy="344.52" r="2.85" fill="none" stroke="#111" stroke-width="1.5"/>
<circle cx="198.31" cy="395.77" r="2.85" fill="none" stroke="#111" stroke-width="1.5"/>
<circle cx="198.31" cy="447.02" r="2.85" fill="none" stroke="#111" stroke-width="1.5"/>
<circle cx="198.31" cy="457.27" r="2.85" fill="none" stroke="#111" stroke-width="1.5"/>
<circle cx="198.31" cy="477.77" r="2.85" fill="none" stroke="#111" stroke-width="1.5"/>
<circle cx="198.31" cy="508.52" r="2.85" fill="none" stroke="#111" stroke-width="1.5"/>
<circle cx="198.31" cy="518.77" r="2.85" fill="none" stroke="#111" stroke-width="1.5"/>
<circle cx="198.31" cy="529.02" r="2.85" fill="none" stroke="#111" stroke-width="1.5"/>
<circle cx="198.31" cy="559.77" r="2.85" fill="none" stroke="#111" stroke-width="1.5"/>
<circle cx="198.31" cy="580.27" r="2.85" fill="none" stroke="#111" stroke-width="1.5"/>
<circle cx="198.31" cy="652.02" r="2.85" fill="none" stroke="#111" stroke-width="1.5"/>
<circle cx="198.31" cy="693.02" r="2.85" fill="none" stroke="#111" stroke-width="1.5"/>
<circle cx="198.31" cy="703.27" r="2.85" fill="none" stroke="#111" stroke-width="1.5"/>
<circle cx="198.31" cy="713.52" r="2.85" fill="none" stroke="#111" stroke-width="1.5"/>
<circle cx="198.31" cy="764.77" r="2.85" fill="none" stroke="#111" stroke-width="1.5"/>
<circle cx="198.31" cy="488.02" r="2.5" fill="#000"/>
<circle cx="198.31" cy="682.77" r="2.5" fill="#000"/>
<circle cx="476.18" cy="242.03" r="2.85" fill="none" stroke="#111" stroke-width="1.5"/>
<circle cx="476.18" cy="262.52" r="2.85" fill="none" stroke="#111" stroke-width="1.5"/>
<circle cx="476.18" cy="283.02" r="2.85" fill="none" stroke="#111" stroke-width="1.5"/>
<circle cx="476.18" cy="303.52" r="2.85" fill="none" stroke="#111" stroke-width="1.5"/>
<circle cx="476.18" cy="334.27" r="2.85" fill="none" stroke="#111" stroke-width="1.5"/>
<circle cx="476.18" cy="344.52" r="2.85" fill="none" stroke="#111" stroke-width="1.5"/>
<circle cx="476.18" cy="436.77" r="2.85" fill="none" stroke="#111" stroke-width="1.5"/>
<circle cx="476.18" cy="447.02" r="2.85" fill="none" stroke="#111" stroke-width="1.5"/>
<circle cx="476.18" cy="457.27" r="2.85" fill="none" stroke="#111" stroke-width="1.5"/>
<circle cx="476.18" cy="477.77" r="2.85" fill="none" stroke="#111" stroke-width="1.5"/>
<circle cx="476.18" cy="508.52" r="2.85" fill="none" stroke="#111" stroke-width="1.5"/>
<circle cx="476.18" cy="518.77" r="2.85" fill="none" stroke="#111" stroke-width="1.5"/>
<circle cx="476.18" cy="529.02" r="2.85" fill="none" stroke="#111" stroke-width="1.5"/>
<circle cx="476.18" cy="816.02" r="2.85" fill="none" stroke="#111" stroke-width="1.5"/>
<circle cx="476.18" cy="488.02" r="2.5" fill="#000"/>
<circle cx="476.18" cy="498.27" r="2.5" fill="#000"/>
<circle cx="507.21" cy="242.03" r="2.85" fill="none" stroke="#111" stroke-width="1.5"/>
<circle cx="507.21" cy="252.28" r="2.85" fill="none" stroke="#111" stroke-width="1.5"/>
<circle cx="507.21" cy="262.52" r="2.85" fill="none" stroke="#111" stroke-width="1.5"/>
<circle cx="507.21" cy="283.02" r="2.85" fill="none" stroke="#111" stroke-width="1.5"/>
<circle cx="507.21" cy="395.77" r="2.85" fill="none" stroke="#111" stroke-width="1.5"/>
<circle cx="507.21" cy="416.27" r="2.85" fill="none" stroke="#111" stroke-width="1.5"/>
<circle cx="507.21" cy="447.02" r="2.85" fill="none" stroke="#111" stroke-width="1.5"/>
<circle cx="507.21" cy="457.27" r="2.85" fill="none" stroke="#111" stroke-width="1.5"/>
<circle cx="507.21" cy="508.52" r="2.85" fill="none" stroke="#111" stroke-width="1.5"/>
<circle cx="507.21" cy="518.77" r="2.85" fill="none" stroke="#111" stroke-width="1.5"/>
<circle cx="507.21" cy="529.02" r="2.85" fill="none" stroke="#111" stroke-width="1.5"/>
<circle cx="507.21" cy="549.52" r="2.85" fill="none" stroke="#111" stroke-width="1.5"/>
<circle cx="507.21" cy="580.27" r="2.85" fill="none" stroke="#111" stroke-width="1.5"/>
<circle cx="507.21" cy="600.77" r="2.85" fill="none" stroke="#111" stroke-width="1.5"/>
<circle cx="507.21" cy="652.02" r="2.85" fill="none" stroke="#111" stroke-width="1.5"/>
<circle cx="507.21" cy="693.02" r="2.85" fill="none" stroke="#111" stroke-width="1.5"/>
<circle cx="507.21" cy="703.27" r="2.85" fill="none" stroke="#111" stroke-width="1.5"/>
<circle cx="507.21" cy="713.52" r="2.85" fill="none" stroke="#111" stroke-width="1.5"/>
<circle cx="507.21" cy="754.52" r="2.85" fill="none" stroke="#111" stroke-width="1.5"/>
<circle cx="507.21" cy="764.77" r="2.85" fill="none" stroke="#111" stroke-width="1.5"/>
<circle cx="507.21" cy="816.02" r="2.85" fill="none" stroke="#111" stroke-width="1.5"/>
<circle cx="507.21" cy="498.27" r="2.5" fill="#000"/>
<circle cx="507.21" cy="559.77" r="2.5" fill="#000"/>
<circle cx="507.21" cy="631.52" r="2.5" fill="#000"/>
<circle cx="507.21" cy="682.77" r="2.5" fill="#000"/>
<circle cx="570.37" cy="242.03" r="2.85" fill="none" stroke="#111" stroke-width="1.5"/>
<circle cx="570.37" cy="262.52" r="2.85" fill="none" stroke="#111" stroke-width="1.5"/>
<circle cx="570.37" cy="283.02" r="2.85" fill="none" stroke="#111" stroke-width="1.5"/>
<circle cx="570.37" cy="447.02" r="2.85" fill="none" stroke="#111" stroke-width="1.5"/>
<circle cx="570.37" cy="508.52" r="2.85" fill="none" stroke="#111" stroke-width="1.5"/>
<circle cx="570.37" cy="518.77" r="2.85" fill="none" stroke="#111" stroke-width="1.5"/>
<circle cx="570.37" cy="652.02" r="2.85" fill="none" stroke="#111" stroke-width="1.5"/>
<circle cx="570.37" cy="693.02" r="2.85" fill="none" stroke="#111" stroke-width="1.5"/>
<circle cx="570.37" cy="631.52" r="2.5" fill="#000"/>
<line x1="191" x2="191" y1="234.7" y2="842.6" stroke="#000" stroke-width="2"/>
<line x1="190" x2="484.8" y1="842.5" y2="842.5" stroke="#000" stroke-width="2"/>
<line x1="498.1" x2="578.7" y1="842.5" y2="842.5" stroke="#000" stroke-width="2"/>
<line x1="183.6" x2="190" y1="242.03" y2="242.03" stroke="#000" stroke-width="2"/>
<text x="176.3" y="246.22" font-size="11.1" text-anchor="end" fill="#7a7a7a" stroke="#7a7a7a" stroke-width="0.25">Bacteroides uniformis</text>
<line x1="183.6" x2="190" y1="252.28" y2="252.28" stroke="#000" stroke-width="2"/>
<text x="176.3" y="256.48" font-size="11.1" text-anchor="end" fill="#7a7a7a" stroke="#7a7a7a" stroke-width="0.25">Roseburia inulinivorans</text>
<line x1="183.6" x2="190" y1="262.52" y2="262.52" stroke="#000" stroke-width="2"/>
<text x="176.3" y="266.72" font-size="11.1" text-anchor="end" fill="#7a7a7a" stroke="#7a7a7a" stroke-width="0.25">Bacteroides ovatus</text>
<line x1="183.6" x2="190" y1="272.77" y2="272.77" stroke="#000" stroke-width="2"/>
<text x="176.3" y="276.97" font-size="11.1" text-anchor="end" fill="#7a7a7a" stroke="#7a7a7a" stroke-width="0.25">Bacteroides rodentium</text>
<line x1="183.6" x2="190" y1="283.02" y2="283.02" stroke="#000" stroke-width="2"/>
<text x="176.3" y="287.22" font-size="11.1" text-anchor="end" fill="#7a7a7a" stroke="#7a7a7a" stroke-width="0.25">Bacteroides xylanisolvens</text>
<line x1="183.6" x2="190" y1="293.27" y2="293.27" stroke="#000" stroke-width="2"/>
<text x="176.3" y="297.47" font-size="11.1" text-anchor="end" fill="#7a7a7a" stroke="#7a7a7a" stroke-width="0.25">Clostridiales bacterium</text>
<line x1="183.6" x2="190" y1="303.52" y2="303.52" stroke="#000" stroke-width="2"/>
<text x="176.3" y="307.72" font-size="11.1" text-anchor="end" fill="#7a7a7a" stroke="#7a7a7a" stroke-width="0.25">Coprococcus comes</text>
<line x1="183.6" x2="190" y1="313.77" y2="313.77" stroke="#000" stroke-width="2"/>
<text x="176.3" y="317.97" font-size="11.1" text-anchor="end" fill="#7a7a7a" stroke="#7a7a7a" stroke-width="0.25">Eubacterium ramulus</text>
<line x1="183.6" x2="190" y1="324.02" y2="324.02" stroke="#000" stroke-width="2"/>
<text x="176.3" y="328.22" font-size="11.1" text-anchor="end" fill="#7a7a7a" stroke="#7a7a7a" stroke-width="0.25">Paraprevotella clara</text>
<line x1="183.6" x2="190" y1="334.27" y2="334.27" stroke="#000" stroke-width="2"/>
<text x="176.3" y="338.47" font-size="11.1" text-anchor="end" fill="#7a7a7a" stroke="#7a7a7a" stroke-width="0.25">Ruminococcus obeum</text>
<line x1="183.6" x2="190" y1="344.52" y2="344.52" stroke="#000" stroke-width="2"/>
<text x="176.3" y="348.72" font-size="11.1" text-anchor="end" fill="#2e8b4f" stroke="#2e8b4f" stroke-width="0.25">Roseburia intestinalis</text>
<line x1="183.6" x2="190" y1="354.77" y2="354.77" stroke="#000" stroke-width="2"/>
<text x="176.3" y="358.97" font-size="11.1" text-anchor="end" fill="#2e8b4f" stroke="#2e8b4f" stroke-width="0.25">Adlercreutzia equolifaciens</text>
<line x1="183.6" x2="190" y1="365.02" y2="365.02" stroke="#000" stroke-width="2"/>
<text x="176.3" y="369.22" font-size="11.1" text-anchor="end" fill="#2e8b4f" stroke="#2e8b4f" stroke-width="0.25">Coprococcus catus</text>
<line x1="183.6" x2="190" y1="375.27" y2="375.27" stroke="#000" stroke-width="2"/>
<text x="176.3" y="379.47" font-size="11.1" text-anchor="end" fill="#2e8b4f" stroke="#2e8b4f" stroke-width="0.25">Dorea formicigenerans</text>
<line x1="183.6" x2="190" y1="385.52" y2="385.52" stroke="#000" stroke-width="2"/>
<text x="176.3" y="389.72" font-size="11.1" text-anchor="end" fill="#2e8b4f" stroke="#2e8b4f" stroke-width="0.25">Dorea longicatena</text>
<line x1="183.6" x2="190" y1="395.77" y2="395.77" stroke="#000" stroke-width="2"/>
<text x="176.3" y="399.97" font-size="11.1" text-anchor="end" fill="#2e8b4f" stroke="#2e8b4f" stroke-width="0.25">Roseburia hominis</text>
<line x1="183.6" x2="190" y1="406.02" y2="406.02" stroke="#000" stroke-width="2"/>
<text x="176.3" y="410.22" font-size="11.1" text-anchor="end" fill="#2e8b4f" stroke="#2e8b4f" stroke-width="0.25">Ruminococcus sp</text>
<line x1="183.6" x2="190" y1="416.27" y2="416.27" stroke="#000" stroke-width="2"/>
<text x="176.3" y="420.47" font-size="11.1" text-anchor="end" fill="#2e8b4f" stroke="#2e8b4f" stroke-width="0.25">Akkermansia muciniphila</text>
<line x1="183.6" x2="190" y1="426.52" y2="426.52" stroke="#000" stroke-width="2"/>
<text x="176.3" y="430.72" font-size="11.1" text-anchor="end" fill="#2e8b4f" stroke="#2e8b4f" stroke-width="0.25">Alistipes sp</text>
<line x1="183.6" x2="190" y1="436.77" y2="436.77" stroke="#000" stroke-width="2"/>
<text x="176.3" y="440.97" font-size="11.1" text-anchor="end" fill="#2e8b4f" stroke="#2e8b4f" stroke-width="0.25">Anaerostipes hadrus</text>
<line x1="183.6" x2="190" y1="447.02" y2="447.02" stroke="#000" stroke-width="2"/>
<text x="176.3" y="451.22" font-size="11.1" text-anchor="end" fill="#2e8b4f" stroke="#2e8b4f" stroke-width="0.25">Eubacterium rectale</text>
<line x1="183.6" x2="190" y1="457.27" y2="457.27" stroke="#000" stroke-width="2"/>
<text x="176.3" y="461.47" font-size="11.1" text-anchor="end" fill="#2e8b4f" stroke="#2e8b4f" stroke-width="0.25">Oscillibacter sp</text>
<line x1="183.6" x2="190" y1="467.52" y2="467.52" stroke="#000" stroke-width="2"/>
<text x="176.3" y="471.72" font-size="11.1" text-anchor="end" fill="#2e8b4f" stroke="#2e8b4f" stroke-width="0.25">Oscillospiraceae bacterium</text>
<line x1="183.6" x2="190" y1="477.77" y2="477.77" stroke="#000" stroke-width="2"/>
<text x="176.3" y="481.97" font-size="11.1" text-anchor="end" fill="#2e8b4f" stroke="#2e8b4f" stroke-width="0.25">Ruminococcus torques</text>
<line x1="183.6" x2="190" y1="488.02" y2="488.02" stroke="#000" stroke-width="2"/>
<text x="176.3" y="492.22" font-size="11.1" text-anchor="end" fill="#2e8b4f" stroke="#2e8b4f" stroke-width="0.25">Eubacterium siraeum</text>
<line x1="183.6" x2="190" y1="498.27" y2="498.27" stroke="#000" stroke-width="2"/>
<text x="176.3" y="502.47" font-size="11.1" text-anchor="end" fill="#2e8b4f" stroke="#2e8b4f" stroke-width="0.25">Blautia wexlerae</text>
<line x1="183.6" x2="190" y1="508.52" y2="508.52" stroke="#000" stroke-width="2"/>
<text x="176.3" y="512.73" font-size="11.1" text-anchor="end" fill="#2e8b4f" stroke="#2e8b4f" stroke-width="0.25">Bacteroides vulgatus</text>
<line x1="183.6" x2="190" y1="518.77" y2="518.77" stroke="#000" stroke-width="2"/>
<text x="176.3" y="522.98" font-size="11.1" text-anchor="end" fill="#2e8b4f" stroke="#2e8b4f" stroke-width="0.25">Faecalibacterium prausnitzii</text>
<line x1="183.6" x2="190" y1="529.02" y2="529.02" stroke="#000" stroke-width="2"/>
<text x="176.3" y="533.23" font-size="11.1" text-anchor="end" fill="#2e8b4f" stroke="#2e8b4f" stroke-width="0.25">Odoribacter splanchnicus</text>
<line x1="183.6" x2="190" y1="539.27" y2="539.27" stroke="#000" stroke-width="2"/>
<text x="176.3" y="543.48" font-size="11.1" text-anchor="end" fill="#2e8b4f" stroke="#2e8b4f" stroke-width="0.25">Clostridium spiroforme</text>
<line x1="183.6" x2="190" y1="549.52" y2="549.52" stroke="#000" stroke-width="2"/>
<text x="176.3" y="553.73" font-size="11.1" text-anchor="end" fill="#2e8b4f" stroke="#2e8b4f" stroke-width="0.25">Faecalibacterium cf</text>
<line x1="183.6" x2="190" y1="559.77" y2="559.77" stroke="#000" stroke-width="2"/>
<text x="176.3" y="563.98" font-size="11.1" text-anchor="end" fill="#2e8b4f" stroke="#2e8b4f" stroke-width="0.25">Faecalibacterium prausnitzii</text>
<line x1="183.6" x2="190" y1="570.02" y2="570.02" stroke="#000" stroke-width="2"/>
<text x="176.3" y="574.23" font-size="11.1" text-anchor="end" fill="#4b42a8" stroke="#4b42a8" stroke-width="0.25">Alistipes finegoldii</text>
<line x1="183.6" x2="190" y1="580.27" y2="580.27" stroke="#000" stroke-width="2"/>
<text x="176.3" y="584.48" font-size="11.1" text-anchor="end" fill="#4b42a8" stroke="#4b42a8" stroke-width="0.25">Alistipes putredinis</text>
<line x1="183.6" x2="190" y1="590.52" y2="590.52" stroke="#000" stroke-width="2"/>
<text x="176.3" y="594.73" font-size="11.1" text-anchor="end" fill="#4b42a8" stroke="#4b42a8" stroke-width="0.25">Alistipes shahii</text>
<line x1="183.6" x2="190" y1="600.77" y2="600.77" stroke="#000" stroke-width="2"/>
<text x="176.3" y="604.98" font-size="11.1" text-anchor="end" fill="#4b42a8" stroke="#4b42a8" stroke-width="0.25">Bacteroidales bacterium</text>
<line x1="183.6" x2="190" y1="611.02" y2="611.02" stroke="#000" stroke-width="2"/>
<text x="176.3" y="615.23" font-size="11.1" text-anchor="end" fill="#4b42a8" stroke="#4b42a8" stroke-width="0.25">Bacteroides caccae</text>
<line x1="183.6" x2="190" y1="621.27" y2="621.27" stroke="#000" stroke-width="2"/>
<text x="176.3" y="625.48" font-size="11.1" text-anchor="end" fill="#4b42a8" stroke="#4b42a8" stroke-width="0.25">Bacteroides finegoldii</text>
<line x1="183.6" x2="190" y1="631.52" y2="631.52" stroke="#000" stroke-width="2"/>
<text x="176.3" y="635.73" font-size="11.1" text-anchor="end" fill="#4b42a8" stroke="#4b42a8" stroke-width="0.25">Bacteroides massiliensis</text>
<line x1="183.6" x2="190" y1="641.77" y2="641.77" stroke="#000" stroke-width="2"/>
<text x="176.3" y="645.98" font-size="11.1" text-anchor="end" fill="#4b42a8" stroke="#4b42a8" stroke-width="0.25">Bacteroides stercoris</text>
<line x1="183.6" x2="190" y1="652.02" y2="652.02" stroke="#000" stroke-width="2"/>
<text x="176.3" y="656.23" font-size="11.1" text-anchor="end" fill="#4b42a8" stroke="#4b42a8" stroke-width="0.25">Barnesiella intestinihominis</text>
<line x1="183.6" x2="190" y1="662.27" y2="662.27" stroke="#000" stroke-width="2"/>
<text x="176.3" y="666.48" font-size="11.1" text-anchor="end" fill="#4b42a8" stroke="#4b42a8" stroke-width="0.25">Bifidobacterium adolescentis</text>
<line x1="183.6" x2="190" y1="672.52" y2="672.52" stroke="#000" stroke-width="2"/>
<text x="176.3" y="676.73" font-size="11.1" text-anchor="end" fill="#4b42a8" stroke="#4b42a8" stroke-width="0.25">Butyricimonas synergistica</text>
<line x1="183.6" x2="190" y1="682.77" y2="682.77" stroke="#000" stroke-width="2"/>
<text x="176.3" y="686.98" font-size="11.1" text-anchor="end" fill="#4b42a8" stroke="#4b42a8" stroke-width="0.25">Coprococcus eutactus</text>
<line x1="183.6" x2="190" y1="693.02" y2="693.02" stroke="#000" stroke-width="2"/>
<text x="176.3" y="697.23" font-size="11.1" text-anchor="end" fill="#4b42a8" stroke="#4b42a8" stroke-width="0.25">Eubacterium eligens</text>
<line x1="183.6" x2="190" y1="703.27" y2="703.27" stroke="#000" stroke-width="2"/>
<text x="176.3" y="707.48" font-size="11.1" text-anchor="end" fill="#4b42a8" stroke="#4b42a8" stroke-width="0.25">Faecalibacterium prausnitzii</text>
<line x1="183.6" x2="190" y1="713.52" y2="713.52" stroke="#000" stroke-width="2"/>
<text x="176.3" y="717.73" font-size="11.1" text-anchor="end" fill="#4b42a8" stroke="#4b42a8" stroke-width="0.25">Guyana massiliensis</text>
<line x1="183.6" x2="190" y1="723.77" y2="723.77" stroke="#000" stroke-width="2"/>
<text x="176.3" y="727.98" font-size="11.1" text-anchor="end" fill="#4b42a8" stroke="#4b42a8" stroke-width="0.25">Parabacteroides distasonis</text>
<line x1="183.6" x2="190" y1="734.02" y2="734.02" stroke="#000" stroke-width="2"/>
<text x="176.3" y="738.23" font-size="11.1" text-anchor="end" fill="#4b42a8" stroke="#4b42a8" stroke-width="0.25">Parabacteroides merdae</text>
<line x1="183.6" x2="190" y1="744.27" y2="744.27" stroke="#000" stroke-width="2"/>
<text x="176.3" y="748.48" font-size="11.1" text-anchor="end" fill="#4b42a8" stroke="#4b42a8" stroke-width="0.25">Prevotella copri</text>
<line x1="183.6" x2="190" y1="754.52" y2="754.52" stroke="#000" stroke-width="2"/>
<text x="176.3" y="758.73" font-size="11.1" text-anchor="end" fill="#4b42a8" stroke="#4b42a8" stroke-width="0.25">Ruminococcus bicirculans</text>
<line x1="183.6" x2="190" y1="764.77" y2="764.77" stroke="#000" stroke-width="2"/>
<text x="176.3" y="768.98" font-size="11.1" text-anchor="end" fill="#4b42a8" stroke="#4b42a8" stroke-width="0.25">Sutterella wadsworthensis</text>
<line x1="183.6" x2="190" y1="775.02" y2="775.02" stroke="#000" stroke-width="2"/>
<text x="176.3" y="779.23" font-size="11.1" text-anchor="end" fill="#4b42a8" stroke="#4b42a8" stroke-width="0.25">Sutterella wadsworthensis</text>
<line x1="183.6" x2="190" y1="785.27" y2="785.27" stroke="#000" stroke-width="2"/>
<text x="176.3" y="789.48" font-size="11.1" text-anchor="end" fill="#a23a72" stroke="#a23a72" stroke-width="0.25">Bifidobacterium pseudolongum</text>
<line x1="183.6" x2="190" y1="795.52" y2="795.52" stroke="#000" stroke-width="2"/>
<text x="176.3" y="799.73" font-size="11.1" text-anchor="end" fill="#a23a72" stroke="#a23a72" stroke-width="0.25">Clostridiales bacterium</text>
<line x1="183.6" x2="190" y1="805.77" y2="805.77" stroke="#000" stroke-width="2"/>
<text x="176.3" y="809.98" font-size="11.1" text-anchor="end" fill="#a23a72" stroke="#a23a72" stroke-width="0.25">Clostridium hathewayi</text>
<line x1="183.6" x2="190" y1="816.02" y2="816.02" stroke="#000" stroke-width="2"/>
<text x="176.3" y="820.23" font-size="11.1" text-anchor="end" fill="#a23a72" stroke="#a23a72" stroke-width="0.25">Lachnospiraceae bacterium</text>
<line x1="183.6" x2="190" y1="826.27" y2="826.27" stroke="#000" stroke-width="2"/>
<text x="176.3" y="830.48" font-size="11.1" text-anchor="end" fill="#a23a72" stroke="#a23a72" stroke-width="0.25">Bifidobacterium pseudocatenulatum</text>
<line x1="183.6" x2="190" y1="836.52" y2="836.52" stroke="#000" stroke-width="2"/>
<text x="176.3" y="840.73" font-size="11.1" text-anchor="end" fill="#a23a72" stroke="#a23a72" stroke-width="0.25">Ruminococcus gnavus</text>
<line x1="198.3" x2="198.3" y1="842.5" y2="850.5" stroke="#000" stroke-width="2"/>
<text transform="translate(202.2,858.4) rotate(-90)" font-size="10.8" text-anchor="end" fill="#4d4d4d" stroke="#4d4d4d" stroke-width="0.25">−28</text>
<line x1="210.9" x2="210.9" y1="842.5" y2="850.5" stroke="#000" stroke-width="2"/>
<text transform="translate(214.8,858.4) rotate(-90)" font-size="10.8" text-anchor="end" fill="#4d4d4d" stroke="#4d4d4d" stroke-width="0.25">−21</text>
<line x1="223.6" x2="223.6" y1="842.5" y2="850.5" stroke="#000" stroke-width="2"/>
<text transform="translate(227.5,858.4) rotate(-90)" font-size="10.8" text-anchor="end" fill="#4d4d4d" stroke="#4d4d4d" stroke-width="0.25">−13</text>
<line x1="236.2" x2="236.2" y1="842.5" y2="850.5" stroke="#000" stroke-width="2"/>
<text transform="translate(240.1,858.4) rotate(-90)" font-size="10.8" text-anchor="end" fill="#4d4d4d" stroke="#4d4d4d" stroke-width="0.25">−6</text>
<line x1="248.8" x2="248.8" y1="842.5" y2="850.5" stroke="#000" stroke-width="2"/>
<text transform="translate(252.7,858.4) rotate(-90)" font-size="10.8" text-anchor="end" fill="#4d4d4d" stroke="#4d4d4d" stroke-width="0.25">−5</text>
<line x1="261.5" x2="261.5" y1="842.5" y2="850.5" stroke="#000" stroke-width="2"/>
<text transform="translate(265.4,858.4) rotate(-90)" font-size="10.8" text-anchor="end" fill="#4d4d4d" stroke="#4d4d4d" stroke-width="0.25">−4</text>
<line x1="274.1" x2="274.1" y1="842.5" y2="850.5" stroke="#000" stroke-width="2"/>
<text transform="translate(278.0,858.4) rotate(-90)" font-size="10.8" text-anchor="end" fill="#4d4d4d" stroke="#4d4d4d" stroke-width="0.25">−3</text>
<line x1="286.7" x2="286.7" y1="842.5" y2="850.5" stroke="#000" stroke-width="2"/>
<text transform="translate(290.6,858.4) rotate(-90)" font-size="10.8" text-anchor="end" fill="#4d4d4d" stroke="#4d4d4d" stroke-width="0.25">−2</text>
<line x1="299.4" x2="299.4" y1="842.5" y2="850.5" stroke="#000" stroke-width="2"/>
<text transform="translate(303.3,858.4) rotate(-90)" font-size="10.8" text-anchor="end" fill="#4d4d4d" stroke="#4d4d4d" stroke-width="0.25">−1</text>
<line x1="312.0" x2="312.0" y1="842.5" y2="850.5" stroke="#000" stroke-width="2"/>
<text transform="translate(315.9,858.4) rotate(-90)" font-size="10.8" text-anchor="end" fill="#4d4d4d" stroke="#4d4d4d" stroke-width="0.25">0</text>
<line x1="324.6" x2="324.6" y1="842.5" y2="850.5" stroke="#000" stroke-width="2"/>
<text transform="translate(328.5,858.4) rotate(-90)" font-size="10.8" text-anchor="end" fill="#4d4d4d" stroke="#4d4d4d" stroke-width="0.25">1</text>
<line x1="337.2" x2="337.2" y1="842.5" y2="850.5" stroke="#000" stroke-width="2"/>
<text transform="translate(341.1,858.4) rotate(-90)" font-size="10.8" text-anchor="end" fill="#4d4d4d" stroke="#4d4d4d" stroke-width="0.25">5</text>
<line x1="349.9" x2="349.9" y1="842.5" y2="850.5" stroke="#000" stroke-width="2"/>
<text transform="translate(353.8,858.4) rotate(-90)" font-size="10.8" text-anchor="end" fill="#4d4d4d" stroke="#4d4d4d" stroke-width="0.25">7</text>
<line x1="362.5" x2="362.5" y1="842.5" y2="850.5" stroke="#000" stroke-width="2"/>
<text transform="translate(366.4,858.4) rotate(-90)" font-size="10.8" text-anchor="end" fill="#4d4d4d" stroke="#4d4d4d" stroke-width="0.25">8</text>
<line x1="375.1" x2="375.1" y1="842.5" y2="850.5" stroke="#000" stroke-width="2"/>
<text transform="translate(379.0,858.4) rotate(-90)" font-size="10.8" text-anchor="end" fill="#4d4d4d" stroke="#4d4d4d" stroke-width="0.25">9</text>
<line x1="387.8" x2="387.8" y1="842.5" y2="850.5" stroke="#000" stroke-width="2"/>
<text transform="translate(391.7,858.4) rotate(-90)" font-size="10.8" text-anchor="end" fill="#4d4d4d" stroke="#4d4d4d" stroke-width="0.25">10</text>
<line x1="400.4" x2="400.4" y1="842.5" y2="850.5" stroke="#000" stroke-width="2"/>
<text transform="translate(404.3,858.4) rotate(-90)" font-size="10.8" text-anchor="end" fill="#4d4d4d" stroke="#4d4d4d" stroke-width="0.25">11</text>
<line x1="413.0" x2="413.0" y1="842.5" y2="850.5" stroke="#000" stroke-width="2"/>
<text transform="translate(416.9,858.4) rotate(-90)" font-size="10.8" text-anchor="end" fill="#4d4d4d" stroke="#4d4d4d" stroke-width="0.25">14</text>
<line x1="425.7" x2="425.7" y1="842.5" y2="850.5" stroke="#000" stroke-width="2"/>
<text transform="translate(429.6,858.4) rotate(-90)" font-size="10.8" text-anchor="end" fill="#4d4d4d" stroke="#4d4d4d" stroke-width="0.25">21</text>
<line x1="438.3" x2="438.3" y1="842.5" y2="850.5" stroke="#000" stroke-width="2"/>
<text transform="translate(442.2,858.4) rotate(-90)" font-size="10.8" text-anchor="end" fill="#4d4d4d" stroke="#4d4d4d" stroke-width="0.25">28</text>
<line x1="450.9" x2="450.9" y1="842.5" y2="850.5" stroke="#000" stroke-width="2"/>
<text transform="translate(454.8,858.4) rotate(-90)" font-size="10.8" text-anchor="end" fill="#4d4d4d" stroke="#4d4d4d" stroke-width="0.25">35</text>
<line x1="463.5" x2="463.5" y1="842.5" y2="850.5" stroke="#000" stroke-width="2"/>
<text transform="translate(467.4,858.4) rotate(-90)" font-size="10.8" text-anchor="end" fill="#4d4d4d" stroke="#4d4d4d" stroke-width="0.25">273</text>
<line x1="476.2" x2="476.2" y1="842.5" y2="850.5" stroke="#000" stroke-width="2"/>
<text transform="translate(480.1,858.4) rotate(-90)" font-size="10.8" text-anchor="end" fill="#4d4d4d" stroke="#4d4d4d" stroke-width="0.25">361</text>
<line x1="507.2" x2="507.2" y1="842.5" y2="850.5" stroke="#000" stroke-width="2"/>
<text transform="translate(511.1,858.4) rotate(-90)" font-size="10.8" text-anchor="end" fill="#4d4d4d" stroke="#4d4d4d" stroke-width="0.25">−28</text>
<line x1="519.8" x2="519.8" y1="842.5" y2="850.5" stroke="#000" stroke-width="2"/>
<text transform="translate(523.7,858.4) rotate(-90)" font-size="10.8" text-anchor="end" fill="#4d4d4d" stroke="#4d4d4d" stroke-width="0.25">0</text>
<line x1="532.5" x2="532.5" y1="842.5" y2="850.5" stroke="#000" stroke-width="2"/>
<text transform="translate(536.4,858.4) rotate(-90)" font-size="10.8" text-anchor="end" fill="#4d4d4d" stroke="#4d4d4d" stroke-width="0.25">7</text>
<line x1="545.1" x2="545.1" y1="842.5" y2="850.5" stroke="#000" stroke-width="2"/>
<text transform="translate(549.0,858.4) rotate(-90)" font-size="10.8" text-anchor="end" fill="#4d4d4d" stroke="#4d4d4d" stroke-width="0.25">35</text>
<line x1="557.7" x2="557.7" y1="842.5" y2="850.5" stroke="#000" stroke-width="2"/>
<text transform="translate(561.6,858.4) rotate(-90)" font-size="10.8" text-anchor="end" fill="#4d4d4d" stroke="#4d4d4d" stroke-width="0.25">264</text>
<line x1="570.4" x2="570.4" y1="842.5" y2="850.5" stroke="#000" stroke-width="2"/>
<text transform="translate(574.3,858.4) rotate(-90)" font-size="10.8" text-anchor="end" fill="#4d4d4d" stroke="#4d4d4d" stroke-width="0.25">360</text>
<text x="384.6" y="893.4" font-size="15.4" text-anchor="middle" fill="#1a1a1a" stroke="#1a1a1a" stroke-width="0.25">Study day</text>
<text font-size="15.3" fill="#1a1a1a" stroke="#1a1a1a" stroke-width="0.25"><tspan x="625" y="277.1">Species</tspan><tspan x="625" y="293">trajectory</tspan></text>
<text x="625" y="320.7" font-size="13.2" fill="#7a7a7a" stroke="#7a7a7a" stroke-width="0.25">species maintained</text>
<text x="625" y="334.5" font-size="13.2" fill="#2e8b4f" stroke="#2e8b4f" stroke-width="0.25">species disrupted,</text>
<text x="636" y="348" font-size="13.2" fill="#2e8b4f" stroke="#2e8b4f" stroke-width="0.25">recovered</text>
<text x="625" y="361.5" font-size="13.2" fill="#4b42a8" stroke="#4b42a8" stroke-width="0.25">species disrupted,</text>
<text x="636" y="375" font-size="13.2" fill="#4b42a8" stroke="#4b42a8" stroke-width="0.25">not recovered</text>
<text x="625" y="389" font-size="13.2" fill="#a23a72" stroke="#a23a72" stroke-width="0.25">species colonized</text>
<text font-size="15.3" fill="#1a1a1a" stroke="#1a1a1a" stroke-width="0.25"><tspan x="625" y="447.1">Log</tspan><tspan x="625" y="464">relative</tspan><tspan x="625" y="480.8">abundance</tspan></text>
<defs><linearGradient id="mg" x1="0" y1="1" x2="0" y2="0">
<stop offset="0.000" stop-color="#000004"/>
<stop offset="0.050" stop-color="#06051a"/>
<stop offset="0.100" stop-color="#140e36"/>
<stop offset="0.150" stop-color="#251255"/>
<stop offset="0.200" stop-color="#3b0f70"/>
<stop offset="0.250" stop-color="#51127c"/>
<stop offset="0.300" stop-color="#641a80"/>
<stop offset="0.350" stop-color="#782281"/>
<stop offset="0.400" stop-color="#8c2981"/>
<stop offset="0.450" stop-color="#a1307e"/>
<stop offset="0.500" stop-color="#b73779"/>
<stop offset="0.550" stop-color="#ca3e72"/>
<stop offset="0.600" stop-color="#de4968"/>
<stop offset="0.650" stop-color="#ed5a5f"/>
<stop offset="0.700" stop-color="#f7705c"/>
<stop offset="0.750" stop-color="#fc8961"/>
<stop offset="0.800" stop-color="#fe9f6d"/>
<stop offset="0.850" stop-color="#feb77e"/>
<stop offset="0.900" stop-color="#fecf92"/>
<stop offset="0.950" stop-color="#fde7a9"/>
<stop offset="1.000" stop-color="#fcfdbf"/>
</linearGradient></defs>
<rect x="625" y="490.8" width="16" height="79.4" fill="url(#mg)"/>
<line x1="625" x2="628.2" y1="504.2" y2="504.2" stroke="#fff" stroke-width="0.9"/>
<line x1="637.8" x2="641" y1="504.2" y2="504.2" stroke="#fff" stroke-width="0.9"/>
<text x="648.7" y="508.8" font-size="12.9" fill="#1a1a1a" stroke="#1a1a1a" stroke-width="0.25">−1</text>
<line x1="625" x2="628.2" y1="519.0" y2="519.0" stroke="#fff" stroke-width="0.9"/>
<line x1="637.8" x2="641" y1="519.0" y2="519.0" stroke="#fff" stroke-width="0.9"/>
<text x="648.7" y="523.6" font-size="12.9" fill="#1a1a1a" stroke="#1a1a1a" stroke-width="0.25">−2</text>
<line x1="625" x2="628.2" y1="533.8" y2="533.8" stroke="#fff" stroke-width="0.9"/>
<line x1="637.8" x2="641" y1="533.8" y2="533.8" stroke="#fff" stroke-width="0.9"/>
<text x="648.7" y="538.4" font-size="12.9" fill="#1a1a1a" stroke="#1a1a1a" stroke-width="0.25">−3</text>
<line x1="625" x2="628.2" y1="548.7" y2="548.7" stroke="#fff" stroke-width="0.9"/>
<line x1="637.8" x2="641" y1="548.7" y2="548.7" stroke="#fff" stroke-width="0.9"/>
<text x="648.7" y="553.3" font-size="12.9" fill="#1a1a1a" stroke="#1a1a1a" stroke-width="0.25">−4</text>
<line x1="625" x2="628.2" y1="563.5" y2="563.5" stroke="#fff" stroke-width="0.9"/>
<line x1="637.8" x2="641" y1="563.5" y2="563.5" stroke="#fff" stroke-width="0.9"/>
<text x="648.7" y="568.1" font-size="12.9" fill="#1a1a1a" stroke="#1a1a1a" stroke-width="0.25">−5</text>
<text font-size="15.3" fill="#1a1a1a" stroke="#1a1a1a" stroke-width="0.25"><tspan x="625" y="613.9">Strain</tspan><tspan x="625" y="630.6">shared?</tspan></text>
<circle cx="633" cy="648.7" r="3" fill="#000"/>
<circle cx="633" cy="665" r="2.6" fill="none" stroke="#000" stroke-width="1.4"/>
<text x="649.2" y="653" font-size="12.7" fill="#1a1a1a" stroke="#1a1a1a" stroke-width="0.25">TRUE</text>
<text x="649.2" y="669.2" font-size="12.7" fill="#1a1a1a" stroke="#1a1a1a" stroke-width="0.25">FALSE</text>
<text font-size="15.3" fill="#1a1a1a" stroke="#1a1a1a" stroke-width="0.25"><tspan x="625" y="716.2">New</tspan><tspan x="625" y="732.6">strain?</tspan></text>
<rect x="626.6" y="744.8" width="12.6" height="12.4" fill="none" stroke="#000" stroke-width="2"/>
<text x="649.2" y="754.8" font-size="12.7" fill="#1a1a1a" stroke="#1a1a1a" stroke-width="0.25">TRUE</text>
<text x="649.2" y="771.1" font-size="12.7" fill="#1a1a1a" stroke="#1a1a1a" stroke-width="0.25">FALSE</text>
</svg></body></html>
